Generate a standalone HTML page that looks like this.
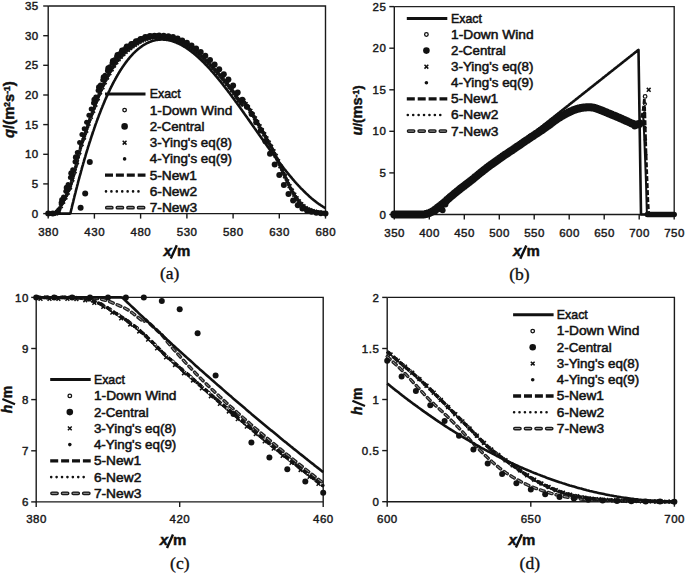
<!DOCTYPE html>
<html><head><meta charset="utf-8"><style>html,body{margin:0;padding:0;background:#fff;overflow:hidden}svg{display:block}</style></head>
<body>
<svg width="685" height="574" viewBox="0 0 685 574">
<rect width="685" height="574" fill="#fff"/>
<style>.tk{font-family:"Liberation Sans",sans-serif;font-size:11.5px;letter-spacing:0.5px;fill:#1a1a1a;stroke:#1a1a1a;stroke-width:0.45px}.lg{font-family:"Liberation Sans",sans-serif;font-size:12.6px;fill:#111;stroke:#111;stroke-width:0.5px}.ti{font-family:"Liberation Sans",sans-serif;font-size:14px;font-weight:bold;fill:#111;stroke:#111;stroke-width:0.45px}.cap{font-family:"Liberation Serif",serif;font-size:17.5px;fill:#111;stroke:#111;stroke-width:0.35px}</style>
<path d="M48.2,6.0 L48.2,213.6 L325.5,213.6" fill="none" stroke="#1a1a1a" stroke-width="1.4"/>
<path d="M48.2,6.0 L325.5,6.0 L325.5,213.6" fill="none" stroke="#1a1a1a" stroke-width="1.4"/>
<line x1="43.2" y1="213.6" x2="48.2" y2="213.6" stroke="#1a1a1a" stroke-width="1.4"/>
<text x="38.7" y="217.7" text-anchor="end" class="tk">0</text>
<line x1="43.2" y1="183.9" x2="48.2" y2="183.9" stroke="#1a1a1a" stroke-width="1.4"/>
<text x="38.7" y="188.0" text-anchor="end" class="tk">5</text>
<line x1="43.2" y1="154.3" x2="48.2" y2="154.3" stroke="#1a1a1a" stroke-width="1.4"/>
<text x="38.7" y="158.4" text-anchor="end" class="tk">10</text>
<line x1="43.2" y1="124.6" x2="48.2" y2="124.6" stroke="#1a1a1a" stroke-width="1.4"/>
<text x="38.7" y="128.7" text-anchor="end" class="tk">15</text>
<line x1="43.2" y1="95.0" x2="48.2" y2="95.0" stroke="#1a1a1a" stroke-width="1.4"/>
<text x="38.7" y="99.1" text-anchor="end" class="tk">20</text>
<line x1="43.2" y1="65.3" x2="48.2" y2="65.3" stroke="#1a1a1a" stroke-width="1.4"/>
<text x="38.7" y="69.4" text-anchor="end" class="tk">25</text>
<line x1="43.2" y1="35.7" x2="48.2" y2="35.7" stroke="#1a1a1a" stroke-width="1.4"/>
<text x="38.7" y="39.8" text-anchor="end" class="tk">30</text>
<line x1="43.2" y1="6.0" x2="48.2" y2="6.0" stroke="#1a1a1a" stroke-width="1.4"/>
<text x="38.7" y="10.1" text-anchor="end" class="tk">35</text>
<line x1="48.2" y1="213.6" x2="48.2" y2="218.6" stroke="#1a1a1a" stroke-width="1.4"/>
<text x="48.5" y="236.2" text-anchor="middle" class="tk">380</text>
<line x1="94.4" y1="213.6" x2="94.4" y2="218.6" stroke="#1a1a1a" stroke-width="1.4"/>
<text x="94.7" y="236.2" text-anchor="middle" class="tk">430</text>
<line x1="140.6" y1="213.6" x2="140.6" y2="218.6" stroke="#1a1a1a" stroke-width="1.4"/>
<text x="140.9" y="236.2" text-anchor="middle" class="tk">480</text>
<line x1="186.9" y1="213.6" x2="186.9" y2="218.6" stroke="#1a1a1a" stroke-width="1.4"/>
<text x="187.1" y="236.2" text-anchor="middle" class="tk">530</text>
<line x1="233.1" y1="213.6" x2="233.1" y2="218.6" stroke="#1a1a1a" stroke-width="1.4"/>
<text x="233.3" y="236.2" text-anchor="middle" class="tk">580</text>
<line x1="279.3" y1="213.6" x2="279.3" y2="218.6" stroke="#1a1a1a" stroke-width="1.4"/>
<text x="279.5" y="236.2" text-anchor="middle" class="tk">630</text>
<line x1="325.5" y1="213.6" x2="325.5" y2="218.6" stroke="#1a1a1a" stroke-width="1.4"/>
<text x="325.8" y="236.2" text-anchor="middle" class="tk">680</text>
<text x="163.5" y="255.6" class="ti" style="font-size:15px" font-style="italic">x</text>
<line x1="170.8" y1="258.6" x2="176.8" y2="245.3" stroke="#111" stroke-width="2.4"/>
<text x="176.9" y="255.6" class="ti" style="font-size:15px">m</text>
<text x="169.7" y="279" text-anchor="middle" class="cap">(a)</text>
<text transform="translate(13.8,109.6) rotate(-90)" text-anchor="middle" class="ti" style="font-size:14.8px"><tspan font-style="italic">q</tspan><tspan font-size="15">/(</tspan>m<tspan font-size="8.5" dy="-3.6">2</tspan><tspan dy="3.6">s</tspan><tspan font-size="8.5" dy="-3.6">-1</tspan><tspan dy="3.6" font-size="15">)</tspan></text>
<path d="M48.2,213.6 L48.7,213.6 L49.1,213.6 L49.6,213.6 L50.0,213.6 L50.5,213.6 L51.0,213.6 L51.4,213.6 L51.9,213.6 L52.4,213.6 L52.8,213.6 L53.3,213.6 L53.7,213.6 L54.2,213.6 L54.7,213.6 L55.1,213.6 L55.6,213.6 L56.1,213.5 L56.5,213.3 L57.0,213.0 L57.4,212.6 L57.9,212.1 L58.4,211.5 L58.8,210.7 L59.3,209.7 L59.8,208.6 L60.2,207.5 L60.7,206.5 L61.1,205.5 L61.6,204.6 L62.1,203.7 L62.5,202.9 L63.0,202.1 L63.5,201.3 L63.9,200.4 L64.4,199.6 L64.8,198.7 L65.3,197.9 L65.8,196.9 L66.2,196.0 L66.7,195.0 L67.1,194.0 L67.6,193.0 L68.1,192.0 L68.5,191.0 L69.0,189.9 L69.5,188.9 L69.9,187.8 L70.4,186.6 L70.8,185.0 L71.3,183.4 L71.8,181.7 L72.2,180.1 L72.7,178.5 L73.2,176.8 L73.6,175.2 L74.1,173.5 L74.5,171.8 L75.0,170.1 L75.5,168.4 L75.9,166.6 L76.4,164.8 L76.9,162.9 L77.3,160.9 L77.8,158.9 L78.2,156.9 L78.7,154.9 L79.2,153.0 L79.6,151.1 L80.1,149.3 L80.6,147.6 L81.0,146.0 L81.5,144.6 L81.9,143.2 L82.4,141.8 L82.9,140.5 L83.3,139.3 L83.8,138.0 L84.2,136.7 L84.7,135.4 L85.2,134.1 L85.6,132.7 L86.1,131.3 L86.6,129.8 L87.0,128.4 L87.5,127.0 L87.9,125.6 L88.4,124.1 L88.9,122.7 L89.3,121.4 L89.8,120.0 L90.3,118.7 L90.7,117.4 L91.2,116.2 L91.6,114.9 L92.1,113.7 L92.6,112.5 L93.0,111.3 L93.5,110.1 L94.0,108.8 L94.4,107.6 L94.9,106.3 L95.3,105.1 L95.8,103.8 L96.3,102.5 L96.7,101.2 L97.2,99.9 L97.7,98.7 L98.1,97.4 L98.6,96.2 L99.0,95.1 L99.5,93.9 L100.0,92.8 L100.4,91.7 L100.9,90.7 L101.3,89.6 L101.8,88.6 L102.3,87.6 L102.7,86.6 L103.2,85.6 L103.7,84.6 L104.1,83.6 L104.6,82.6 L105.0,81.6 L105.5,80.7 L106.0,79.7 L106.4,78.8 L106.9,77.9 L107.4,77.0 L107.8,76.1 L108.3,75.2 L108.7,74.4 L109.2,73.5 L109.7,72.7 L110.1,71.9 L110.6,71.0 L111.1,70.3 L111.5,69.5 L112.0,68.7 L112.4,68.0 L112.9,67.2 L113.4,66.5 L113.8,65.8 L114.3,65.1 L114.8,64.4 L115.2,63.7 L115.7,63.1 L116.1,62.4 L116.6,61.8 L117.1,61.2 L117.5,60.6 L118.0,60.0 L118.4,59.4 L118.9,58.9 L119.4,58.3 L119.8,57.8 L120.3,57.3 L120.8,56.8 L121.2,56.3 L121.7,55.8 L122.1,55.3 L122.6,54.8 L123.1,54.3 L123.5,53.8 L124.0,53.4 L124.5,52.9 L124.9,52.4 L125.4,52.0 L125.8,51.5 L126.3,51.1 L126.8,50.7 L127.2,50.3 L127.7,49.9 L128.2,49.6 L128.6,49.2 L129.1,48.9 L129.5,48.6 L130.0,48.2 L130.5,47.9 L130.9,47.6 L131.4,47.2 L131.9,46.9 L132.3,46.6 L132.8,46.2 L133.2,45.9 L133.7,45.6 L134.2,45.2 L134.6,44.9 L135.1,44.6 L135.5,44.3 L136.0,44.0 L136.5,43.7 L136.9,43.4 L137.4,43.1 L137.9,42.8 L138.3,42.5 L138.8,42.3 L139.2,42.0 L139.7,41.7 L140.2,41.5 L140.6,41.2 L141.1,41.0 L141.6,40.7 L142.0,40.5 L142.5,40.3 L142.9,40.1 L143.4,39.9 L143.9,39.6 L144.3,39.5 L144.8,39.3 L145.3,39.1 L145.7,38.9 L146.2,38.8 L146.6,38.6 L147.1,38.5 L147.6,38.3 L148.0,38.2 L148.5,38.1 L149.0,38.0 L149.4,37.8 L149.9,37.7 L150.3,37.6 L150.8,37.5 L151.3,37.5 L151.7,37.4 L152.2,37.3 L152.6,37.2 L153.1,37.2 L153.6,37.1 L154.0,37.0 L154.5,37.0 L155.0,36.9 L155.4,36.9 L155.9,36.9 L156.3,36.8 L156.8,36.8 L157.3,36.8 L157.7,36.7 L158.2,36.7 L158.7,36.7 L159.1,36.7 L159.6,36.7 L160.0,36.8 L160.5,36.8 L161.0,36.8 L161.4,36.9 L161.9,36.9 L162.4,37.0 L162.8,37.1 L163.3,37.1 L163.7,37.2 L164.2,37.3 L164.7,37.4 L165.1,37.4 L165.6,37.5 L166.1,37.6 L166.5,37.7 L167.0,37.9 L167.4,38.0 L167.9,38.1 L168.4,38.2 L168.8,38.3 L169.3,38.4 L169.7,38.5 L170.2,38.6 L170.7,38.7 L171.1,38.8 L171.6,38.9 L172.1,39.0 L172.5,39.1 L173.0,39.3 L173.4,39.4 L173.9,39.5 L174.4,39.7 L174.8,39.8 L175.3,40.0 L175.8,40.2 L176.2,40.3 L176.7,40.5 L177.1,40.7 L177.6,40.9 L178.1,41.1 L178.5,41.3 L179.0,41.5 L179.5,41.7 L179.9,41.9 L180.4,42.1 L180.8,42.3 L181.3,42.5 L181.8,42.7 L182.2,42.9 L182.7,43.2 L183.2,43.4 L183.6,43.7 L184.1,43.9 L184.5,44.2 L185.0,44.5 L185.5,44.7 L185.9,45.0 L186.4,45.3 L186.9,45.6 L187.3,45.8 L187.8,46.1 L188.2,46.4 L188.7,46.7 L189.2,47.0 L189.6,47.3 L190.1,47.6 L190.5,47.9 L191.0,48.3 L191.5,48.6 L191.9,48.9 L192.4,49.2 L192.9,49.5 L193.3,49.9 L193.8,50.2 L194.2,50.5 L194.7,50.9 L195.2,51.2 L195.6,51.6 L196.1,51.9 L196.6,52.3 L197.0,52.7 L197.5,53.1 L197.9,53.4 L198.4,53.8 L198.9,54.2 L199.3,54.6 L199.8,55.0 L200.3,55.4 L200.7,55.8 L201.2,56.2 L201.6,56.6 L202.1,57.1 L202.6,57.5 L203.0,57.9 L203.5,58.3 L204.0,58.7 L204.4,59.2 L204.9,59.6 L205.3,60.1 L205.8,60.5 L206.3,60.9 L206.7,61.4 L207.2,61.8 L207.6,62.3 L208.1,62.7 L208.6,63.2 L209.0,63.7 L209.5,64.1 L210.0,64.6 L210.4,65.1 L210.9,65.5 L211.3,66.0 L211.8,66.5 L212.3,67.0 L212.7,67.5 L213.2,68.0 L213.7,68.5 L214.1,69.0 L214.6,69.4 L215.0,70.0 L215.5,70.5 L216.0,71.0 L216.4,71.5 L216.9,72.0 L217.4,72.5 L217.8,73.0 L218.3,73.5 L218.7,74.1 L219.2,74.6 L219.7,75.1 L220.1,75.7 L220.6,76.2 L221.1,76.7 L221.5,77.3 L222.0,77.8 L222.4,78.4 L222.9,78.9 L223.4,79.5 L223.8,80.0 L224.3,80.6 L224.7,81.1 L225.2,81.7 L225.7,82.2 L226.1,82.8 L226.6,83.4 L227.1,83.9 L227.5,84.5 L228.0,85.1 L228.4,85.7 L228.9,86.3 L229.4,86.9 L229.8,87.4 L230.3,88.0 L230.8,88.6 L231.2,89.2 L231.7,89.9 L232.1,90.5 L232.6,91.1 L233.1,91.7 L233.5,92.4 L234.0,93.0 L234.5,93.7 L234.9,94.4 L235.4,95.1 L235.8,95.7 L236.3,96.4 L236.8,97.1 L237.2,97.8 L237.7,98.5 L238.2,99.1 L238.6,99.8 L239.1,100.5 L239.5,101.2 L240.0,101.8 L240.5,102.5 L240.9,103.2 L241.4,103.9 L241.8,104.6 L242.3,99.1 L242.8,99.8 L243.2,100.5 L243.7,101.1 L244.2,101.8 L244.6,102.5 L245.1,103.2 L245.5,103.8 L246.0,104.5 L246.5,105.1 L246.9,105.8 L247.4,106.5 L247.9,107.2 L248.3,107.8 L248.8,108.5 L249.2,109.2 L249.7,109.9 L250.2,110.6 L250.6,111.3 L251.1,112.0 L251.6,112.8 L252.0,113.5 L252.5,114.2 L252.9,115.0 L253.4,115.8 L253.9,116.5 L254.3,117.3 L254.8,118.1 L255.3,118.8 L255.7,119.6 L256.2,120.4 L256.6,121.2 L257.1,122.0 L257.6,122.8 L258.0,123.6 L258.5,124.4 L258.9,125.2 L259.4,126.0 L259.9,126.8 L260.3,127.6 L260.8,128.4 L261.3,129.2 L261.7,130.0 L262.2,130.8 L262.6,131.6 L263.1,132.4 L263.6,133.2 L264.0,134.0 L264.5,134.8 L265.0,135.6 L265.4,136.5 L265.9,137.3 L266.3,138.1 L266.8,138.9 L267.3,139.8 L267.7,140.6 L268.2,141.4 L268.7,142.3 L269.1,143.1 L269.6,143.9 L270.0,144.8 L270.5,145.6 L271.0,146.5 L271.4,147.4 L271.9,148.2 L272.4,149.1 L272.8,150.0 L273.3,150.9 L273.7,151.8 L274.2,152.8 L274.7,153.7 L275.1,154.7 L275.6,155.6 L276.0,156.6 L276.5,157.6 L277.0,158.7 L277.4,159.7 L277.9,160.7 L278.4,161.7 L278.8,162.8 L279.3,163.8 L279.7,164.8 L280.2,165.8 L280.7,166.8 L281.1,167.8 L281.6,168.8 L282.1,169.8 L282.5,170.8 L283.0,171.8 L283.4,172.9 L283.9,173.9 L284.4,174.9 L284.8,175.9 L285.3,176.9 L285.8,177.9 L286.2,179.0 L286.7,180.0 L287.1,181.0 L287.6,182.0 L288.1,183.0 L288.5,183.9 L289.0,184.9 L289.5,185.8 L289.9,186.8 L290.4,187.7 L290.8,188.6 L291.3,189.5 L291.8,190.3 L292.2,191.2 L292.7,192.0 L293.1,192.8 L293.6,193.6 L294.1,194.4 L294.5,195.2 L295.0,195.9 L295.5,196.6 L295.9,197.3 L296.4,198.0 L296.8,198.7 L297.3,199.3 L297.8,200.0 L298.2,200.6 L298.7,201.2 L299.2,201.7 L299.6,202.3 L300.1,202.8 L300.5,203.4 L301.0,203.9 L301.5,204.4 L301.9,204.8 L302.4,205.3 L302.9,205.7 L303.3,206.2 L303.8,206.6 L304.2,207.0 L304.7,207.3 L305.2,207.7 L305.6,208.0 L306.1,208.3 L306.6,208.6 L307.0,208.9 L307.5,209.1 L307.9,209.3 L308.4,209.5 L308.9,209.7 L309.3,209.9 L309.8,210.1 L310.2,210.3 L310.7,210.4 L311.2,210.6 L311.6,210.8 L312.1,210.9 L312.6,211.1 L313.0,211.2 L313.5,211.4 L313.9,211.5 L314.4,211.6 L314.9,211.8 L315.3,211.9 L315.8,212.0 L316.3,212.1 L316.7,212.2 L317.2,212.3 L317.6,212.4 L318.1,212.5 L318.6,212.6 L319.0,212.6 L319.5,212.7 L320.0,212.7 L320.4,212.8 L320.9,212.8 L321.3,212.9 L321.8,212.9 L322.3,213.0 L322.7,213.0 L323.2,213.1 L323.7,213.1 L324.1,213.1 L324.6,213.2 L325.0,213.2 L325.5,213.3" fill="none" stroke="#111" stroke-width="2.8" stroke-linecap="butt" stroke-linejoin="round" stroke-dasharray="6,2.5" />
<path d="M48.2,213.6 L48.7,213.6 L49.1,213.6 L49.6,213.6 L50.0,213.6 L50.5,213.6 L51.0,213.6 L51.4,213.6 L51.9,213.6 L52.4,213.6 L52.8,213.6 L53.3,213.6 L53.7,213.6 L54.2,213.6 L54.7,213.6 L55.1,213.6 L55.6,213.6 L56.1,213.5 L56.5,213.3 L57.0,213.0 L57.4,212.6 L57.9,212.1 L58.4,211.5 L58.8,210.7 L59.3,209.7 L59.8,208.6 L60.2,207.5 L60.7,206.5 L61.1,205.5 L61.6,204.6 L62.1,203.7 L62.5,202.9 L63.0,202.1 L63.5,201.3 L63.9,200.4 L64.4,199.6 L64.8,198.7 L65.3,197.9 L65.8,196.9 L66.2,196.0 L66.7,195.0 L67.1,194.0 L67.6,193.0 L68.1,192.0 L68.5,191.0 L69.0,189.9 L69.5,188.9 L69.9,187.8 L70.4,186.6 L70.8,185.0 L71.3,183.4 L71.8,181.7 L72.2,180.1 L72.7,178.5 L73.2,176.8 L73.6,175.2 L74.1,173.5 L74.5,171.8 L75.0,170.1 L75.5,168.4 L75.9,166.6 L76.4,164.8 L76.9,162.9 L77.3,160.9 L77.8,158.9 L78.2,156.9 L78.7,154.9 L79.2,153.0 L79.6,151.1 L80.1,149.3 L80.6,147.6 L81.0,146.0 L81.5,144.6 L81.9,143.2 L82.4,141.8 L82.9,140.5 L83.3,139.3 L83.8,138.0 L84.2,136.7 L84.7,135.4 L85.2,134.1 L85.6,132.7 L86.1,131.3 L86.6,129.8 L87.0,128.4 L87.5,127.0 L87.9,125.6 L88.4,124.1 L88.9,122.7 L89.3,121.4 L89.8,120.0 L90.3,118.7 L90.7,117.4 L91.2,116.2 L91.6,114.9 L92.1,113.7 L92.6,112.5 L93.0,111.3 L93.5,110.1 L94.0,108.8 L94.4,107.6 L94.9,106.3 L95.3,105.1 L95.8,103.8 L96.3,102.5 L96.7,101.2 L97.2,99.9 L97.7,98.7 L98.1,97.4 L98.6,96.2 L99.0,95.1 L99.5,93.9 L100.0,92.8 L100.4,91.7 L100.9,90.7 L101.3,89.6 L101.8,88.6 L102.3,87.6 L102.7,86.6 L103.2,85.6 L103.7,84.6 L104.1,83.6 L104.6,82.6 L105.0,81.6 L105.5,80.7 L106.0,79.7 L106.4,78.8 L106.9,77.9 L107.4,77.0 L107.8,76.1 L108.3,75.2 L108.7,74.4 L109.2,73.5 L109.7,72.7 L110.1,71.9 L110.6,71.0 L111.1,70.3 L111.5,69.5 L112.0,68.7 L112.4,68.0 L112.9,67.2 L113.4,66.5 L113.8,65.8 L114.3,65.1 L114.8,64.4 L115.2,63.7 L115.7,63.1 L116.1,62.4 L116.6,61.8 L117.1,61.2 L117.5,60.6 L118.0,60.0 L118.4,59.4 L118.9,58.9 L119.4,58.3 L119.8,57.8 L120.3,57.3 L120.8,56.8 L121.2,56.3 L121.7,55.8 L122.1,55.3 L122.6,54.8 L123.1,54.3 L123.5,53.8 L124.0,53.4 L124.5,52.9 L124.9,52.4 L125.4,52.0 L125.8,51.5 L126.3,51.1 L126.8,50.7 L127.2,50.3 L127.7,49.9 L128.2,49.6 L128.6,49.2 L129.1,48.9 L129.5,48.6 L130.0,48.2 L130.5,47.9 L130.9,47.6 L131.4,47.2 L131.9,46.9 L132.3,46.6 L132.8,46.2 L133.2,45.9 L133.7,45.6 L134.2,45.2 L134.6,44.9 L135.1,44.6 L135.5,44.3 L136.0,44.0 L136.5,43.7 L136.9,43.4 L137.4,43.1 L137.9,42.8 L138.3,42.5 L138.8,42.3 L139.2,42.0 L139.7,41.7 L140.2,41.5 L140.6,41.2 L141.1,41.0 L141.6,40.7 L142.0,40.5 L142.5,40.3 L142.9,40.1 L143.4,39.9 L143.9,39.6 L144.3,39.5 L144.8,39.3 L145.3,39.1 L145.7,38.9 L146.2,38.8 L146.6,38.6 L147.1,38.5 L147.6,38.3 L148.0,38.2 L148.5,38.1 L149.0,38.0 L149.4,37.8 L149.9,37.7 L150.3,37.6 L150.8,37.5 L151.3,37.5 L151.7,37.4 L152.2,37.3 L152.6,37.2 L153.1,37.2 L153.6,37.1 L154.0,37.0 L154.5,37.0 L155.0,36.9 L155.4,36.9 L155.9,36.9 L156.3,36.8 L156.8,36.8 L157.3,36.8 L157.7,36.7 L158.2,36.7 L158.7,36.7 L159.1,36.7 L159.6,36.7 L160.0,36.8 L160.5,36.8 L161.0,36.8 L161.4,36.9 L161.9,36.9 L162.4,37.0 L162.8,37.1 L163.3,37.1 L163.7,37.2 L164.2,37.3 L164.7,37.4 L165.1,37.4 L165.6,37.5 L166.1,37.6 L166.5,37.7 L167.0,37.9 L167.4,38.0 L167.9,38.1 L168.4,38.2 L168.8,38.3 L169.3,38.4 L169.7,38.5 L170.2,38.6 L170.7,38.7 L171.1,38.8 L171.6,38.9 L172.1,39.0 L172.5,39.1 L173.0,39.3 L173.4,39.4 L173.9,39.5 L174.4,39.7 L174.8,39.8 L175.3,40.0 L175.8,40.2 L176.2,40.3 L176.7,40.5 L177.1,40.7 L177.6,40.9 L178.1,41.1 L178.5,41.3 L179.0,41.5 L179.5,41.7 L179.9,41.9 L180.4,42.1 L180.8,42.3 L181.3,42.5 L181.8,42.7 L182.2,42.9 L182.7,43.2 L183.2,43.4 L183.6,43.7 L184.1,43.9 L184.5,44.2 L185.0,44.5 L185.5,44.7 L185.9,45.0 L186.4,45.3 L186.9,45.6 L187.3,45.8 L187.8,46.1 L188.2,46.4 L188.7,46.7 L189.2,47.0 L189.6,47.3 L190.1,47.6 L190.5,47.9 L191.0,48.3 L191.5,48.6 L191.9,48.9 L192.4,49.2 L192.9,49.5 L193.3,49.9 L193.8,50.2 L194.2,50.5 L194.7,50.9 L195.2,51.2 L195.6,51.6 L196.1,51.9 L196.6,52.3 L197.0,52.7 L197.5,53.1 L197.9,53.4 L198.4,53.8 L198.9,54.2 L199.3,54.6 L199.8,55.0 L200.3,55.4 L200.7,55.8 L201.2,56.2 L201.6,56.6 L202.1,57.1 L202.6,57.5 L203.0,57.9 L203.5,58.3 L204.0,58.7 L204.4,59.2 L204.9,59.6 L205.3,60.1 L205.8,60.5 L206.3,60.9 L206.7,61.4 L207.2,61.8 L207.6,62.3 L208.1,62.7 L208.6,63.2 L209.0,63.7 L209.5,64.1 L210.0,64.6 L210.4,65.1 L210.9,65.5 L211.3,66.0 L211.8,66.5 L212.3,67.0 L212.7,67.5 L213.2,68.0 L213.7,68.5 L214.1,69.0 L214.6,69.4 L215.0,70.0 L215.5,70.5 L216.0,71.0 L216.4,71.5 L216.9,72.0 L217.4,72.5 L217.8,73.0 L218.3,73.5 L218.7,74.1 L219.2,74.6 L219.7,75.1 L220.1,75.7 L220.6,76.2 L221.1,76.7 L221.5,77.3 L222.0,77.8 L222.4,78.4 L222.9,78.9 L223.4,79.5 L223.8,80.0 L224.3,80.6 L224.7,81.1 L225.2,81.7 L225.7,82.2 L226.1,82.8 L226.6,83.4 L227.1,83.9 L227.5,84.5 L228.0,85.1 L228.4,85.7 L228.9,86.3 L229.4,86.9 L229.8,87.4 L230.3,88.0 L230.8,88.6 L231.2,89.2 L231.7,89.9 L232.1,90.5 L232.6,91.1 L233.1,91.7 L233.5,92.4 L234.0,93.0 L234.5,93.7 L234.9,94.4 L235.4,95.1 L235.8,95.7 L236.3,96.4 L236.8,97.1 L237.2,97.8 L237.7,98.5 L238.2,99.1 L238.6,99.8 L239.1,100.5 L239.5,101.2 L240.0,101.8 L240.5,102.5 L240.9,103.2 L241.4,103.9 L241.8,104.6 L242.3,99.1 L242.8,99.8 L243.2,100.5 L243.7,101.1 L244.2,101.8 L244.6,102.5 L245.1,103.2 L245.5,103.8 L246.0,104.5 L246.5,105.1 L246.9,105.8 L247.4,106.5 L247.9,107.2 L248.3,107.8 L248.8,108.5 L249.2,109.2 L249.7,109.9 L250.2,110.6 L250.6,111.3 L251.1,112.0 L251.6,112.8 L252.0,113.5 L252.5,114.2 L252.9,115.0 L253.4,115.8 L253.9,116.5 L254.3,117.3 L254.8,118.1 L255.3,118.8 L255.7,119.6 L256.2,120.4 L256.6,121.2 L257.1,122.0 L257.6,122.8 L258.0,123.6 L258.5,124.4 L258.9,125.2 L259.4,126.0 L259.9,126.8 L260.3,127.6 L260.8,128.4 L261.3,129.2 L261.7,130.0 L262.2,130.8 L262.6,131.6 L263.1,132.4 L263.6,133.2 L264.0,134.0 L264.5,134.8 L265.0,135.6 L265.4,136.5 L265.9,137.3 L266.3,138.1 L266.8,138.9 L267.3,139.8 L267.7,140.6 L268.2,141.4 L268.7,142.3 L269.1,143.1 L269.6,143.9 L270.0,144.8 L270.5,145.6 L271.0,146.5 L271.4,147.4 L271.9,148.2 L272.4,149.1 L272.8,150.0 L273.3,150.9 L273.7,151.8 L274.2,152.8 L274.7,153.7 L275.1,154.7 L275.6,155.6 L276.0,156.6 L276.5,157.6 L277.0,158.7 L277.4,159.7 L277.9,160.7 L278.4,161.7 L278.8,162.8 L279.3,163.8 L279.7,164.8 L280.2,165.8 L280.7,166.8 L281.1,167.8 L281.6,168.8 L282.1,169.8 L282.5,170.8 L283.0,171.8 L283.4,172.9 L283.9,173.9 L284.4,174.9 L284.8,175.9 L285.3,176.9 L285.8,177.9 L286.2,179.0 L286.7,180.0 L287.1,181.0 L287.6,182.0 L288.1,183.0 L288.5,183.9 L289.0,184.9 L289.5,185.8 L289.9,186.8 L290.4,187.7 L290.8,188.6 L291.3,189.5 L291.8,190.3 L292.2,191.2 L292.7,192.0 L293.1,192.8 L293.6,193.6 L294.1,194.4 L294.5,195.2 L295.0,195.9 L295.5,196.6 L295.9,197.3 L296.4,198.0 L296.8,198.7 L297.3,199.3 L297.8,200.0 L298.2,200.6 L298.7,201.2 L299.2,201.7 L299.6,202.3 L300.1,202.8 L300.5,203.4 L301.0,203.9 L301.5,204.4 L301.9,204.8 L302.4,205.3 L302.9,205.7 L303.3,206.2 L303.8,206.6 L304.2,207.0 L304.7,207.3 L305.2,207.7 L305.6,208.0 L306.1,208.3 L306.6,208.6 L307.0,208.9 L307.5,209.1 L307.9,209.3 L308.4,209.5 L308.9,209.7 L309.3,209.9 L309.8,210.1 L310.2,210.3 L310.7,210.4 L311.2,210.6 L311.6,210.8 L312.1,210.9 L312.6,211.1 L313.0,211.2 L313.5,211.4 L313.9,211.5 L314.4,211.6 L314.9,211.8 L315.3,211.9 L315.8,212.0 L316.3,212.1 L316.7,212.2 L317.2,212.3 L317.6,212.4 L318.1,212.5 L318.6,212.6 L319.0,212.6 L319.5,212.7 L320.0,212.7 L320.4,212.8 L320.9,212.8 L321.3,212.9 L321.8,212.9 L322.3,213.0 L322.7,213.0 L323.2,213.1 L323.7,213.1 L324.1,213.1 L324.6,213.2 L325.0,213.2 L325.5,213.3" fill="none" stroke="#111" stroke-width="2.2" stroke-linecap="round" stroke-linejoin="round" stroke-dasharray="0.01,3.5" />
<path d="M48.2,213.6 L48.7,213.6 L49.1,213.6 L49.6,213.6 L50.0,213.6 L50.5,213.6 L51.0,213.6 L51.4,213.6 L51.9,213.6 L52.4,213.6 L52.8,213.6 L53.3,213.6 L53.7,213.6 L54.2,213.6 L54.7,213.6 L55.1,213.6 L55.6,213.6 L56.1,213.5 L56.5,213.3 L57.0,213.0 L57.4,212.6 L57.9,212.1 L58.4,211.5 L58.8,210.7 L59.3,209.7 L59.8,208.6 L60.2,207.5 L60.7,206.5 L61.1,205.5 L61.6,204.6 L62.1,203.7 L62.5,202.9 L63.0,202.1 L63.5,201.3 L63.9,200.4 L64.4,199.6 L64.8,198.7 L65.3,197.9 L65.8,196.9 L66.2,196.0 L66.7,195.0 L67.1,194.0 L67.6,193.0 L68.1,192.0 L68.5,191.0 L69.0,189.9 L69.5,188.9 L69.9,187.8 L70.4,186.6 L70.8,185.0 L71.3,183.4 L71.8,181.7 L72.2,180.1 L72.7,178.5 L73.2,176.8 L73.6,175.2 L74.1,173.5 L74.5,171.8 L75.0,170.1 L75.5,168.4 L75.9,166.6 L76.4,164.8 L76.9,162.9 L77.3,160.9 L77.8,158.9 L78.2,156.9 L78.7,154.9 L79.2,153.0 L79.6,151.1 L80.1,149.3 L80.6,147.6 L81.0,146.0 L81.5,144.6 L81.9,143.2 L82.4,141.8 L82.9,140.5 L83.3,139.3 L83.8,138.0 L84.2,136.7 L84.7,135.4 L85.2,134.1 L85.6,132.7 L86.1,131.3 L86.6,129.8 L87.0,128.4 L87.5,127.0 L87.9,125.6 L88.4,124.1 L88.9,122.7 L89.3,121.4 L89.8,120.0 L90.3,118.7 L90.7,117.4 L91.2,116.2 L91.6,114.9 L92.1,113.7 L92.6,112.5 L93.0,111.3 L93.5,110.1 L94.0,108.8 L94.4,107.6 L94.9,106.3 L95.3,105.1 L95.8,103.8 L96.3,102.5 L96.7,101.2 L97.2,99.9 L97.7,98.7 L98.1,97.4 L98.6,96.2 L99.0,95.1 L99.5,93.9 L100.0,92.8 L100.4,91.7 L100.9,90.7 L101.3,89.6 L101.8,88.6 L102.3,87.6 L102.7,86.6 L103.2,85.6 L103.7,84.6 L104.1,83.6 L104.6,82.6 L105.0,81.6 L105.5,80.7 L106.0,79.7 L106.4,78.8 L106.9,77.9 L107.4,77.0 L107.8,76.1 L108.3,75.2 L108.7,74.4 L109.2,73.5 L109.7,72.7 L110.1,71.9 L110.6,71.0 L111.1,70.3 L111.5,69.5 L112.0,68.7 L112.4,68.0 L112.9,67.2 L113.4,66.5 L113.8,65.8 L114.3,65.1 L114.8,64.4 L115.2,63.7 L115.7,63.1 L116.1,62.4 L116.6,61.8 L117.1,61.2 L117.5,60.6 L118.0,60.0 L118.4,59.4 L118.9,58.9 L119.4,58.3 L119.8,57.8 L120.3,57.3 L120.8,56.8 L121.2,56.3 L121.7,55.8 L122.1,55.3 L122.6,54.8 L123.1,54.3 L123.5,53.8 L124.0,53.4 L124.5,52.9 L124.9,52.4 L125.4,52.0 L125.8,51.5 L126.3,51.1 L126.8,50.7 L127.2,50.3 L127.7,49.9 L128.2,49.6 L128.6,49.2 L129.1,48.9 L129.5,48.6 L130.0,48.2 L130.5,47.9 L130.9,47.6 L131.4,47.2 L131.9,46.9 L132.3,46.6 L132.8,46.2 L133.2,45.9 L133.7,45.6 L134.2,45.2 L134.6,44.9 L135.1,44.6 L135.5,44.3 L136.0,44.0 L136.5,43.7 L136.9,43.4 L137.4,43.1 L137.9,42.8 L138.3,42.5 L138.8,42.3 L139.2,42.0 L139.7,41.7 L140.2,41.5 L140.6,41.2 L141.1,41.0 L141.6,40.7 L142.0,40.5 L142.5,40.3 L142.9,40.1 L143.4,39.9 L143.9,39.6 L144.3,39.5 L144.8,39.3 L145.3,39.1 L145.7,38.9 L146.2,38.8 L146.6,38.6 L147.1,38.5 L147.6,38.3 L148.0,38.2 L148.5,38.1 L149.0,38.0 L149.4,37.8 L149.9,37.7 L150.3,37.6 L150.8,37.5 L151.3,37.5 L151.7,37.4 L152.2,37.3 L152.6,37.2 L153.1,37.2 L153.6,37.1 L154.0,37.0 L154.5,37.0 L155.0,36.9 L155.4,36.9 L155.9,36.9 L156.3,36.8 L156.8,36.8 L157.3,36.8 L157.7,36.7 L158.2,36.7 L158.7,36.7 L159.1,36.7 L159.6,36.7 L160.0,36.8 L160.5,36.8 L161.0,36.8 L161.4,36.9 L161.9,36.9 L162.4,37.0 L162.8,37.1 L163.3,37.1 L163.7,37.2 L164.2,37.3 L164.7,37.4 L165.1,37.4 L165.6,37.5 L166.1,37.6 L166.5,37.7 L167.0,37.9 L167.4,38.0 L167.9,38.1 L168.4,38.2 L168.8,38.3 L169.3,38.4 L169.7,38.5 L170.2,38.6 L170.7,38.7 L171.1,38.8 L171.6,38.9 L172.1,39.0 L172.5,39.1 L173.0,39.3 L173.4,39.4 L173.9,39.5 L174.4,39.7 L174.8,39.8 L175.3,40.0 L175.8,40.2 L176.2,40.3 L176.7,40.5 L177.1,40.7 L177.6,40.9 L178.1,41.1 L178.5,41.3 L179.0,41.5 L179.5,41.7 L179.9,41.9 L180.4,42.1 L180.8,42.3 L181.3,42.5 L181.8,42.7 L182.2,42.9 L182.7,43.2 L183.2,43.4 L183.6,43.7 L184.1,43.9 L184.5,44.2 L185.0,44.5 L185.5,44.7 L185.9,45.0 L186.4,45.3 L186.9,45.6 L187.3,45.8 L187.8,46.1 L188.2,46.4 L188.7,46.7 L189.2,47.0 L189.6,47.3 L190.1,47.6 L190.5,47.9 L191.0,48.3 L191.5,48.6 L191.9,48.9 L192.4,49.2 L192.9,49.5 L193.3,49.9 L193.8,50.2 L194.2,50.5 L194.7,50.9 L195.2,51.2 L195.6,51.6 L196.1,51.9 L196.6,52.3 L197.0,52.7 L197.5,53.1 L197.9,53.4 L198.4,53.8 L198.9,54.2 L199.3,54.6 L199.8,55.0 L200.3,55.4 L200.7,55.8 L201.2,56.2 L201.6,56.6 L202.1,57.1 L202.6,57.5 L203.0,57.9 L203.5,58.3 L204.0,58.7 L204.4,59.2 L204.9,59.6 L205.3,60.1 L205.8,60.5 L206.3,60.9 L206.7,61.4 L207.2,61.8 L207.6,62.3 L208.1,62.7 L208.6,63.2 L209.0,63.7 L209.5,64.1 L210.0,64.6 L210.4,65.1 L210.9,65.5 L211.3,66.0 L211.8,66.5 L212.3,67.0 L212.7,67.5 L213.2,68.0 L213.7,68.5 L214.1,69.0 L214.6,69.4 L215.0,70.0 L215.5,70.5 L216.0,71.0 L216.4,71.5 L216.9,72.0 L217.4,72.5 L217.8,73.0 L218.3,73.5 L218.7,74.1 L219.2,74.6 L219.7,75.1 L220.1,75.7 L220.6,76.2 L221.1,76.7 L221.5,77.3 L222.0,77.8 L222.4,78.4 L222.9,78.9 L223.4,79.5 L223.8,80.0 L224.3,80.6 L224.7,81.1 L225.2,81.7 L225.7,82.2 L226.1,82.8 L226.6,83.4 L227.1,83.9 L227.5,84.5 L228.0,85.1 L228.4,85.7 L228.9,86.3 L229.4,86.9 L229.8,87.4 L230.3,88.0 L230.8,88.6 L231.2,89.2 L231.7,89.9 L232.1,90.5 L232.6,91.1 L233.1,91.7 L233.5,92.4 L234.0,93.0 L234.5,93.7 L234.9,94.4 L235.4,95.1 L235.8,95.7 L236.3,96.4 L236.8,97.1 L237.2,97.8 L237.7,98.5 L238.2,99.1 L238.6,99.8 L239.1,100.5 L239.5,101.2 L240.0,101.8 L240.5,102.5 L240.9,103.2 L241.4,103.9 L241.8,104.6 L242.3,99.1 L242.8,99.8 L243.2,100.5 L243.7,101.1 L244.2,101.8 L244.6,102.5 L245.1,103.2 L245.5,103.8 L246.0,104.5 L246.5,105.1 L246.9,105.8 L247.4,106.5 L247.9,107.2 L248.3,107.8 L248.8,108.5 L249.2,109.2 L249.7,109.9 L250.2,110.6 L250.6,111.3 L251.1,112.0 L251.6,112.8 L252.0,113.5 L252.5,114.2 L252.9,115.0 L253.4,115.8 L253.9,116.5 L254.3,117.3 L254.8,118.1 L255.3,118.8 L255.7,119.6 L256.2,120.4 L256.6,121.2 L257.1,122.0 L257.6,122.8 L258.0,123.6 L258.5,124.4 L258.9,125.2 L259.4,126.0 L259.9,126.8 L260.3,127.6 L260.8,128.4 L261.3,129.2 L261.7,130.0 L262.2,130.8 L262.6,131.6 L263.1,132.4 L263.6,133.2 L264.0,134.0 L264.5,134.8 L265.0,135.6 L265.4,136.5 L265.9,137.3 L266.3,138.1 L266.8,138.9 L267.3,139.8 L267.7,140.6 L268.2,141.4 L268.7,142.3 L269.1,143.1 L269.6,143.9 L270.0,144.8 L270.5,145.6 L271.0,146.5 L271.4,147.4 L271.9,148.2 L272.4,149.1 L272.8,150.0 L273.3,150.9 L273.7,151.8 L274.2,152.8 L274.7,153.7 L275.1,154.7 L275.6,155.6 L276.0,156.6 L276.5,157.6 L277.0,158.7 L277.4,159.7 L277.9,160.7 L278.4,161.7 L278.8,162.8 L279.3,163.8 L279.7,164.8 L280.2,165.8 L280.7,166.8 L281.1,167.8 L281.6,168.8 L282.1,169.8 L282.5,170.8 L283.0,171.8 L283.4,172.9 L283.9,173.9 L284.4,174.9 L284.8,175.9 L285.3,176.9 L285.8,177.9 L286.2,179.0 L286.7,180.0 L287.1,181.0 L287.6,182.0 L288.1,183.0 L288.5,183.9 L289.0,184.9 L289.5,185.8 L289.9,186.8 L290.4,187.7 L290.8,188.6 L291.3,189.5 L291.8,190.3 L292.2,191.2 L292.7,192.0 L293.1,192.8 L293.6,193.6 L294.1,194.4 L294.5,195.2 L295.0,195.9 L295.5,196.6 L295.9,197.3 L296.4,198.0 L296.8,198.7 L297.3,199.3 L297.8,200.0 L298.2,200.6 L298.7,201.2 L299.2,201.7 L299.6,202.3 L300.1,202.8 L300.5,203.4 L301.0,203.9 L301.5,204.4 L301.9,204.8 L302.4,205.3 L302.9,205.7 L303.3,206.2 L303.8,206.6 L304.2,207.0 L304.7,207.3 L305.2,207.7 L305.6,208.0 L306.1,208.3 L306.6,208.6 L307.0,208.9 L307.5,209.1 L307.9,209.3 L308.4,209.5 L308.9,209.7 L309.3,209.9 L309.8,210.1 L310.2,210.3 L310.7,210.4 L311.2,210.6 L311.6,210.8 L312.1,210.9 L312.6,211.1 L313.0,211.2 L313.5,211.4 L313.9,211.5 L314.4,211.6 L314.9,211.8 L315.3,211.9 L315.8,212.0 L316.3,212.1 L316.7,212.2 L317.2,212.3 L317.6,212.4 L318.1,212.5 L318.6,212.6 L319.0,212.6 L319.5,212.7 L320.0,212.7 L320.4,212.8 L320.9,212.8 L321.3,212.9 L321.8,212.9 L322.3,213.0 L322.7,213.0 L323.2,213.1 L323.7,213.1 L324.1,213.1 L324.6,213.2 L325.0,213.2 L325.5,213.3" fill="none" stroke="#333" stroke-width="2.6" stroke-linecap="round" stroke-linejoin="round" stroke-dasharray="4.5,3.5" />
<path d="M47.4,211.7 L51.2,215.5 M47.4,215.5 L51.2,211.7" stroke="#111" stroke-width="1.5"/>
<path d="M49.7,211.7 L53.5,215.5 M49.7,215.5 L53.5,211.7" stroke="#111" stroke-width="1.5"/>
<path d="M52.0,211.7 L55.8,215.5 M52.0,215.5 L55.8,211.7" stroke="#111" stroke-width="1.5"/>
<path d="M54.3,211.5 L58.1,215.3 M54.3,215.3 L58.1,211.5" stroke="#111" stroke-width="1.5"/>
<path d="M56.7,209.3 L60.5,213.1 M56.7,213.1 L60.5,209.3" stroke="#111" stroke-width="1.5"/>
<path d="M59.0,204.2 L62.8,208.0 M59.0,208.0 L62.8,204.2" stroke="#111" stroke-width="1.5"/>
<path d="M61.3,199.8 L65.1,203.6 M61.3,203.6 L65.1,199.8" stroke="#111" stroke-width="1.5"/>
<path d="M63.6,195.6 L67.4,199.4 M63.6,199.4 L67.4,195.6" stroke="#111" stroke-width="1.5"/>
<path d="M65.9,190.7 L69.7,194.5 M65.9,194.5 L69.7,190.7" stroke="#111" stroke-width="1.5"/>
<path d="M68.2,185.4 L72.0,189.2 M68.2,189.2 L72.0,185.4" stroke="#111" stroke-width="1.5"/>
<path d="M70.5,177.6 L74.3,181.4 M70.5,181.4 L74.3,177.6" stroke="#111" stroke-width="1.5"/>
<path d="M72.8,169.2 L76.6,173.0 M72.8,173.0 L76.6,169.2" stroke="#111" stroke-width="1.5"/>
<path d="M75.1,160.2 L78.9,164.0 M75.1,164.0 L78.9,160.2" stroke="#111" stroke-width="1.5"/>
<path d="M77.5,150.3 L81.3,154.1 M77.5,154.1 L81.3,150.3" stroke="#111" stroke-width="1.5"/>
<path d="M79.8,142.1 L83.6,145.9 M79.8,145.9 L83.6,142.1" stroke="#111" stroke-width="1.5"/>
<path d="M82.1,135.6 L85.9,139.4 M82.1,139.4 L85.9,135.6" stroke="#111" stroke-width="1.5"/>
<path d="M84.4,128.8 L88.2,132.6 M84.4,132.6 L88.2,128.8" stroke="#111" stroke-width="1.5"/>
<path d="M86.7,121.7 L90.5,125.5 M86.7,125.5 L90.5,121.7" stroke="#111" stroke-width="1.5"/>
<path d="M89.0,115.0 L92.8,118.8 M89.0,118.8 L92.8,115.0" stroke="#111" stroke-width="1.5"/>
<path d="M91.3,108.9 L95.1,112.7 M91.3,112.7 L95.1,108.9" stroke="#111" stroke-width="1.5"/>
<path d="M93.6,102.7 L97.4,106.5 M93.6,106.5 L97.4,102.7" stroke="#111" stroke-width="1.5"/>
<path d="M95.9,96.3 L99.7,100.1 M95.9,100.1 L99.7,96.3" stroke="#111" stroke-width="1.5"/>
<path d="M98.2,90.5 L102.0,94.3 M98.2,94.3 L102.0,90.5" stroke="#111" stroke-width="1.5"/>
<path d="M100.6,85.3 L104.4,89.1 M100.6,89.1 L104.4,85.3" stroke="#111" stroke-width="1.5"/>
<path d="M102.9,80.3 L106.7,84.1 M102.9,84.1 L106.7,80.3" stroke="#111" stroke-width="1.5"/>
<path d="M105.2,75.6 L109.0,79.4 M105.2,79.4 L109.0,75.6" stroke="#111" stroke-width="1.5"/>
<path d="M107.5,71.3 L111.3,75.1 M107.5,75.1 L111.3,71.3" stroke="#111" stroke-width="1.5"/>
<path d="M109.8,67.3 L113.6,71.1 M109.8,71.1 L113.6,67.3" stroke="#111" stroke-width="1.5"/>
<path d="M112.1,63.6 L115.9,67.4 M112.1,67.4 L115.9,63.6" stroke="#111" stroke-width="1.5"/>
<path d="M114.4,60.3 L118.2,64.1 M114.4,64.1 L118.2,60.3" stroke="#111" stroke-width="1.5"/>
<path d="M116.7,57.3 L120.5,61.1 M116.7,61.1 L120.5,57.3" stroke="#111" stroke-width="1.5"/>
<path d="M119.0,54.7 L122.8,58.5 M119.0,58.5 L122.8,54.7" stroke="#111" stroke-width="1.5"/>
<path d="M121.4,52.2 L125.2,56.0 M121.4,56.0 L125.2,52.2" stroke="#111" stroke-width="1.5"/>
<path d="M123.7,49.9 L127.5,53.7 M123.7,53.7 L127.5,49.9" stroke="#111" stroke-width="1.5"/>
<path d="M126.0,47.9 L129.8,51.7 M126.0,51.7 L129.8,47.9" stroke="#111" stroke-width="1.5"/>
<path d="M128.3,46.2 L132.1,50.0 M128.3,50.0 L132.1,46.2" stroke="#111" stroke-width="1.5"/>
<path d="M130.6,44.5 L134.4,48.3 M130.6,48.3 L134.4,44.5" stroke="#111" stroke-width="1.5"/>
<path d="M132.9,42.9 L136.7,46.7 M132.9,46.7 L136.7,42.9" stroke="#111" stroke-width="1.5"/>
<path d="M135.2,41.4 L139.0,45.2 M135.2,45.2 L139.0,41.4" stroke="#111" stroke-width="1.5"/>
<path d="M137.5,40.0 L141.3,43.8 M137.5,43.8 L141.3,40.0" stroke="#111" stroke-width="1.5"/>
<path d="M139.8,38.7 L143.6,42.5 M139.8,42.5 L143.6,38.7" stroke="#111" stroke-width="1.5"/>
<path d="M142.2,37.7 L146.0,41.5 M142.2,41.5 L146.0,37.7" stroke="#111" stroke-width="1.5"/>
<path d="M144.5,36.8 L148.3,40.6 M144.5,40.6 L148.3,36.8" stroke="#111" stroke-width="1.5"/>
<path d="M146.8,36.1 L150.6,39.9 M146.8,39.9 L150.6,36.1" stroke="#111" stroke-width="1.5"/>
<path d="M149.1,35.6 L152.9,39.4 M149.1,39.4 L152.9,35.6" stroke="#111" stroke-width="1.5"/>
<path d="M151.4,35.2 L155.2,39.0 M151.4,39.0 L155.2,35.2" stroke="#111" stroke-width="1.5"/>
<path d="M153.7,35.0 L157.5,38.8 M153.7,38.8 L157.5,35.0" stroke="#111" stroke-width="1.5"/>
<path d="M156.0,34.8 L159.8,38.6 M156.0,38.6 L159.8,34.8" stroke="#111" stroke-width="1.5"/>
<path d="M158.3,34.9 L162.1,38.7 M158.3,38.7 L162.1,34.9" stroke="#111" stroke-width="1.5"/>
<path d="M160.6,35.1 L164.4,38.9 M160.6,38.9 L164.4,35.1" stroke="#111" stroke-width="1.5"/>
<path d="M163.0,35.5 L166.8,39.3 M163.0,39.3 L166.8,35.5" stroke="#111" stroke-width="1.5"/>
<path d="M165.3,36.0 L169.1,39.8 M165.3,39.8 L169.1,36.0" stroke="#111" stroke-width="1.5"/>
<path d="M167.6,36.5 L171.4,40.3 M167.6,40.3 L171.4,36.5" stroke="#111" stroke-width="1.5"/>
<path d="M169.9,37.0 L173.7,40.8 M169.9,40.8 L173.7,37.0" stroke="#111" stroke-width="1.5"/>
<path d="M172.2,37.7 L176.0,41.5 M172.2,41.5 L176.0,37.7" stroke="#111" stroke-width="1.5"/>
<path d="M174.5,38.5 L178.3,42.3 M174.5,42.3 L178.3,38.5" stroke="#111" stroke-width="1.5"/>
<path d="M176.8,39.4 L180.6,43.2 M176.8,43.2 L180.6,39.4" stroke="#111" stroke-width="1.5"/>
<path d="M179.1,40.5 L182.9,44.3 M179.1,44.3 L182.9,40.5" stroke="#111" stroke-width="1.5"/>
<path d="M181.4,41.6 L185.2,45.4 M181.4,45.4 L185.2,41.6" stroke="#111" stroke-width="1.5"/>
<path d="M183.7,42.9 L187.5,46.7 M183.7,46.7 L187.5,42.9" stroke="#111" stroke-width="1.5"/>
<path d="M186.1,44.3 L189.9,48.1 M186.1,48.1 L189.9,44.3" stroke="#111" stroke-width="1.5"/>
<path d="M188.4,45.8 L192.2,49.6 M188.4,49.6 L192.2,45.8" stroke="#111" stroke-width="1.5"/>
<path d="M190.7,47.4 L194.5,51.2 M190.7,51.2 L194.5,47.4" stroke="#111" stroke-width="1.5"/>
<path d="M193.0,49.1 L196.8,52.9 M193.0,52.9 L196.8,49.1" stroke="#111" stroke-width="1.5"/>
<path d="M195.3,50.9 L199.1,54.7 M195.3,54.7 L199.1,50.9" stroke="#111" stroke-width="1.5"/>
<path d="M197.6,52.9 L201.4,56.7 M197.6,56.7 L201.4,52.9" stroke="#111" stroke-width="1.5"/>
<path d="M199.9,54.9 L203.7,58.7 M199.9,58.7 L203.7,54.9" stroke="#111" stroke-width="1.5"/>
<path d="M202.2,57.0 L206.0,60.8 M202.2,60.8 L206.0,57.0" stroke="#111" stroke-width="1.5"/>
<path d="M204.5,59.2 L208.3,63.0 M204.5,63.0 L208.3,59.2" stroke="#111" stroke-width="1.5"/>
<path d="M206.9,61.5 L210.7,65.3 M206.9,65.3 L210.7,61.5" stroke="#111" stroke-width="1.5"/>
<path d="M209.2,63.8 L213.0,67.6 M209.2,67.6 L213.0,63.8" stroke="#111" stroke-width="1.5"/>
<path d="M211.5,66.3 L215.3,70.1 M211.5,70.1 L215.3,66.3" stroke="#111" stroke-width="1.5"/>
<path d="M213.8,68.8 L217.6,72.6 M213.8,72.6 L217.6,68.8" stroke="#111" stroke-width="1.5"/>
<path d="M216.1,71.3 L219.9,75.1 M216.1,75.1 L219.9,71.3" stroke="#111" stroke-width="1.5"/>
<path d="M218.4,74.0 L222.2,77.8 M218.4,77.8 L222.2,74.0" stroke="#111" stroke-width="1.5"/>
<path d="M220.7,76.7 L224.5,80.5 M220.7,80.5 L224.5,76.7" stroke="#111" stroke-width="1.5"/>
<path d="M223.0,79.4 L226.8,83.2 M223.0,83.2 L226.8,79.4" stroke="#111" stroke-width="1.5"/>
<path d="M225.3,82.3 L229.1,86.1 M225.3,86.1 L229.1,82.3" stroke="#111" stroke-width="1.5"/>
<path d="M227.7,85.2 L231.5,89.0 M227.7,89.0 L231.5,85.2" stroke="#111" stroke-width="1.5"/>
<path d="M230.0,88.2 L233.8,92.0 M230.0,92.0 L233.8,88.2" stroke="#111" stroke-width="1.5"/>
<path d="M232.3,91.4 L236.1,95.2 M232.3,95.2 L236.1,91.4" stroke="#111" stroke-width="1.5"/>
<path d="M234.6,94.8 L238.4,98.6 M234.6,98.6 L238.4,94.8" stroke="#111" stroke-width="1.5"/>
<path d="M236.9,98.2 L240.7,102.0 M236.9,102.0 L240.7,98.2" stroke="#111" stroke-width="1.5"/>
<path d="M239.2,101.6 L243.0,105.4 M239.2,105.4 L243.0,101.6" stroke="#111" stroke-width="1.5"/>
<path d="M241.5,98.8 L245.3,102.6 M241.5,102.6 L245.3,98.8" stroke="#111" stroke-width="1.5"/>
<path d="M243.8,102.2 L247.6,106.0 M243.8,106.0 L247.6,102.2" stroke="#111" stroke-width="1.5"/>
<path d="M246.1,105.5 L249.9,109.3 M246.1,109.3 L249.9,105.5" stroke="#111" stroke-width="1.5"/>
<path d="M248.5,109.0 L252.3,112.8 M248.5,112.8 L252.3,109.0" stroke="#111" stroke-width="1.5"/>
<path d="M250.8,112.6 L254.6,116.4 M250.8,116.4 L254.6,112.6" stroke="#111" stroke-width="1.5"/>
<path d="M253.1,116.5 L256.9,120.3 M253.1,120.3 L256.9,116.5" stroke="#111" stroke-width="1.5"/>
<path d="M255.4,120.4 L259.2,124.2 M255.4,124.2 L259.2,120.4" stroke="#111" stroke-width="1.5"/>
<path d="M257.7,124.4 L261.5,128.2 M257.7,128.2 L261.5,124.4" stroke="#111" stroke-width="1.5"/>
<path d="M260.0,128.4 L263.8,132.2 M260.0,132.2 L263.8,128.4" stroke="#111" stroke-width="1.5"/>
<path d="M262.3,132.4 L266.1,136.2 M262.3,136.2 L266.1,132.4" stroke="#111" stroke-width="1.5"/>
<path d="M264.6,136.5 L268.4,140.3 M264.6,140.3 L268.4,136.5" stroke="#111" stroke-width="1.5"/>
<path d="M266.9,140.7 L270.7,144.5 M266.9,144.5 L270.7,140.7" stroke="#111" stroke-width="1.5"/>
<path d="M269.2,144.9 L273.0,148.7 M269.2,148.7 L273.0,144.9" stroke="#111" stroke-width="1.5"/>
<path d="M271.6,149.4 L275.4,153.2 M271.6,153.2 L275.4,149.4" stroke="#111" stroke-width="1.5"/>
<path d="M273.9,154.1 L277.7,157.9 M273.9,157.9 L277.7,154.1" stroke="#111" stroke-width="1.5"/>
<path d="M276.2,159.2 L280.0,163.0 M276.2,163.0 L280.0,159.2" stroke="#111" stroke-width="1.5"/>
<path d="M278.5,164.3 L282.3,168.1 M278.5,168.1 L282.3,164.3" stroke="#111" stroke-width="1.5"/>
<path d="M280.8,169.3 L284.6,173.1 M280.8,173.1 L284.6,169.3" stroke="#111" stroke-width="1.5"/>
<path d="M283.1,174.4 L286.9,178.2 M283.1,178.2 L286.9,174.4" stroke="#111" stroke-width="1.5"/>
<path d="M285.4,179.5 L289.2,183.3 M285.4,183.3 L289.2,179.5" stroke="#111" stroke-width="1.5"/>
<path d="M287.7,184.3 L291.5,188.1 M287.7,188.1 L291.5,184.3" stroke="#111" stroke-width="1.5"/>
<path d="M290.0,188.8 L293.8,192.6 M290.0,192.6 L293.8,188.8" stroke="#111" stroke-width="1.5"/>
<path d="M292.4,192.8 L296.2,196.6 M292.4,196.6 L296.2,192.8" stroke="#111" stroke-width="1.5"/>
<path d="M294.7,196.4 L298.5,200.2 M294.7,200.2 L298.5,196.4" stroke="#111" stroke-width="1.5"/>
<path d="M297.0,199.5 L300.8,203.3 M297.0,203.3 L300.8,199.5" stroke="#111" stroke-width="1.5"/>
<path d="M299.3,202.2 L303.1,206.0 M299.3,206.0 L303.1,202.2" stroke="#111" stroke-width="1.5"/>
<path d="M301.6,204.4 L305.4,208.2 M301.6,208.2 L305.4,204.4" stroke="#111" stroke-width="1.5"/>
<path d="M303.9,206.3 L307.7,210.1 M303.9,210.1 L307.7,206.3" stroke="#111" stroke-width="1.5"/>
<path d="M306.2,207.5 L310.0,211.3 M306.2,211.3 L310.0,207.5" stroke="#111" stroke-width="1.5"/>
<path d="M308.5,208.4 L312.3,212.2 M308.5,212.2 L312.3,208.4" stroke="#111" stroke-width="1.5"/>
<path d="M310.8,209.2 L314.6,213.0 M310.8,213.0 L314.6,209.2" stroke="#111" stroke-width="1.5"/>
<path d="M313.2,209.9 L317.0,213.7 M313.2,213.7 L317.0,209.9" stroke="#111" stroke-width="1.5"/>
<path d="M315.5,210.5 L319.3,214.3 M315.5,214.3 L319.3,210.5" stroke="#111" stroke-width="1.5"/>
<path d="M317.8,210.8 L321.6,214.6 M317.8,214.6 L321.6,210.8" stroke="#111" stroke-width="1.5"/>
<path d="M320.1,211.0 L323.9,214.8 M320.1,214.8 L323.9,211.0" stroke="#111" stroke-width="1.5"/>
<path d="M322.4,211.3 L326.2,215.1 M322.4,215.1 L326.2,211.3" stroke="#111" stroke-width="1.5"/>
<circle cx="50.4" cy="213.6" r="1.8" fill="#111"/>
<circle cx="52.7" cy="213.6" r="1.8" fill="#111"/>
<circle cx="55.0" cy="213.6" r="1.8" fill="#111"/>
<circle cx="57.4" cy="212.7" r="1.8" fill="#111"/>
<circle cx="59.7" cy="208.9" r="1.8" fill="#111"/>
<circle cx="62.0" cy="203.9" r="1.8" fill="#111"/>
<circle cx="64.3" cy="199.8" r="1.8" fill="#111"/>
<circle cx="66.6" cy="195.2" r="1.8" fill="#111"/>
<circle cx="68.9" cy="190.1" r="1.8" fill="#111"/>
<circle cx="71.2" cy="183.7" r="1.8" fill="#111"/>
<circle cx="73.5" cy="175.5" r="1.8" fill="#111"/>
<circle cx="75.8" cy="167.0" r="1.8" fill="#111"/>
<circle cx="78.1" cy="157.3" r="1.8" fill="#111"/>
<circle cx="80.5" cy="147.9" r="1.8" fill="#111"/>
<circle cx="82.8" cy="140.8" r="1.8" fill="#111"/>
<circle cx="85.1" cy="134.3" r="1.8" fill="#111"/>
<circle cx="87.4" cy="127.3" r="1.8" fill="#111"/>
<circle cx="89.7" cy="120.3" r="1.8" fill="#111"/>
<circle cx="92.0" cy="114.0" r="1.8" fill="#111"/>
<circle cx="94.3" cy="107.8" r="1.8" fill="#111"/>
<circle cx="96.6" cy="101.5" r="1.8" fill="#111"/>
<circle cx="98.9" cy="95.3" r="1.8" fill="#111"/>
<circle cx="101.3" cy="89.8" r="1.8" fill="#111"/>
<circle cx="103.6" cy="84.8" r="1.8" fill="#111"/>
<circle cx="105.9" cy="79.9" r="1.8" fill="#111"/>
<circle cx="108.2" cy="75.4" r="1.8" fill="#111"/>
<circle cx="110.5" cy="71.2" r="1.8" fill="#111"/>
<circle cx="112.8" cy="67.4" r="1.8" fill="#111"/>
<circle cx="115.1" cy="63.9" r="1.8" fill="#111"/>
<circle cx="117.4" cy="60.7" r="1.8" fill="#111"/>
<circle cx="119.7" cy="57.9" r="1.8" fill="#111"/>
<circle cx="122.1" cy="55.4" r="1.8" fill="#111"/>
<circle cx="124.4" cy="53.0" r="1.8" fill="#111"/>
<circle cx="126.7" cy="50.8" r="1.8" fill="#111"/>
<circle cx="129.0" cy="49.0" r="1.8" fill="#111"/>
<circle cx="131.3" cy="47.3" r="1.8" fill="#111"/>
<circle cx="133.6" cy="45.6" r="1.8" fill="#111"/>
<circle cx="135.9" cy="44.1" r="1.8" fill="#111"/>
<circle cx="138.2" cy="42.6" r="1.8" fill="#111"/>
<circle cx="140.5" cy="41.3" r="1.8" fill="#111"/>
<circle cx="142.9" cy="40.1" r="1.8" fill="#111"/>
<circle cx="145.2" cy="39.1" r="1.8" fill="#111"/>
<circle cx="147.5" cy="38.4" r="1.8" fill="#111"/>
<circle cx="149.8" cy="37.8" r="1.8" fill="#111"/>
<circle cx="152.1" cy="37.3" r="1.8" fill="#111"/>
<circle cx="154.4" cy="37.0" r="1.8" fill="#111"/>
<circle cx="156.7" cy="36.8" r="1.8" fill="#111"/>
<circle cx="159.0" cy="36.7" r="1.8" fill="#111"/>
<circle cx="161.3" cy="36.9" r="1.8" fill="#111"/>
<circle cx="163.6" cy="37.2" r="1.8" fill="#111"/>
<circle cx="166.0" cy="37.6" r="1.8" fill="#111"/>
<circle cx="168.3" cy="38.2" r="1.8" fill="#111"/>
<circle cx="170.6" cy="38.6" r="1.8" fill="#111"/>
<circle cx="172.9" cy="39.2" r="1.8" fill="#111"/>
<circle cx="175.2" cy="40.0" r="1.8" fill="#111"/>
<circle cx="177.5" cy="40.9" r="1.8" fill="#111"/>
<circle cx="179.8" cy="41.8" r="1.8" fill="#111"/>
<circle cx="182.1" cy="42.9" r="1.8" fill="#111"/>
<circle cx="184.4" cy="44.1" r="1.8" fill="#111"/>
<circle cx="186.8" cy="45.5" r="1.8" fill="#111"/>
<circle cx="189.1" cy="47.0" r="1.8" fill="#111"/>
<circle cx="191.4" cy="48.5" r="1.8" fill="#111"/>
<circle cx="193.7" cy="50.1" r="1.8" fill="#111"/>
<circle cx="196.0" cy="51.9" r="1.8" fill="#111"/>
<circle cx="198.3" cy="53.8" r="1.8" fill="#111"/>
<circle cx="200.6" cy="55.7" r="1.8" fill="#111"/>
<circle cx="202.9" cy="57.8" r="1.8" fill="#111"/>
<circle cx="205.2" cy="60.0" r="1.8" fill="#111"/>
<circle cx="207.6" cy="62.2" r="1.8" fill="#111"/>
<circle cx="209.9" cy="64.5" r="1.8" fill="#111"/>
<circle cx="212.2" cy="66.9" r="1.8" fill="#111"/>
<circle cx="214.5" cy="69.3" r="1.8" fill="#111"/>
<circle cx="216.8" cy="71.9" r="1.8" fill="#111"/>
<circle cx="219.1" cy="74.5" r="1.8" fill="#111"/>
<circle cx="221.4" cy="77.2" r="1.8" fill="#111"/>
<circle cx="223.7" cy="79.9" r="1.8" fill="#111"/>
<circle cx="226.0" cy="82.7" r="1.8" fill="#111"/>
<circle cx="228.4" cy="85.6" r="1.8" fill="#111"/>
<circle cx="230.7" cy="88.5" r="1.8" fill="#111"/>
<circle cx="233.0" cy="91.6" r="1.8" fill="#111"/>
<circle cx="235.3" cy="94.9" r="1.8" fill="#111"/>
<circle cx="237.6" cy="98.3" r="1.8" fill="#111"/>
<circle cx="239.9" cy="101.7" r="1.8" fill="#111"/>
<circle cx="242.2" cy="105.1" r="1.8" fill="#111"/>
<circle cx="244.5" cy="102.4" r="1.8" fill="#111"/>
<circle cx="246.8" cy="105.7" r="1.8" fill="#111"/>
<circle cx="249.2" cy="109.1" r="1.8" fill="#111"/>
<circle cx="251.5" cy="112.6" r="1.8" fill="#111"/>
<circle cx="253.8" cy="116.4" r="1.8" fill="#111"/>
<circle cx="256.1" cy="120.2" r="1.8" fill="#111"/>
<circle cx="258.4" cy="124.2" r="1.8" fill="#111"/>
<circle cx="260.7" cy="128.2" r="1.8" fill="#111"/>
<circle cx="263.0" cy="132.2" r="1.8" fill="#111"/>
<circle cx="265.3" cy="136.3" r="1.8" fill="#111"/>
<circle cx="267.6" cy="140.4" r="1.8" fill="#111"/>
<circle cx="269.9" cy="144.6" r="1.8" fill="#111"/>
<circle cx="272.3" cy="148.9" r="1.8" fill="#111"/>
<circle cx="274.6" cy="153.5" r="1.8" fill="#111"/>
<circle cx="276.9" cy="158.5" r="1.8" fill="#111"/>
<circle cx="279.2" cy="163.6" r="1.8" fill="#111"/>
<circle cx="281.5" cy="168.6" r="1.8" fill="#111"/>
<circle cx="283.8" cy="173.7" r="1.8" fill="#111"/>
<circle cx="286.1" cy="178.8" r="1.8" fill="#111"/>
<circle cx="288.4" cy="183.8" r="1.8" fill="#111"/>
<circle cx="290.7" cy="188.4" r="1.8" fill="#111"/>
<circle cx="293.1" cy="192.7" r="1.8" fill="#111"/>
<circle cx="295.4" cy="196.5" r="1.8" fill="#111"/>
<circle cx="297.7" cy="199.8" r="1.8" fill="#111"/>
<circle cx="300.0" cy="202.7" r="1.8" fill="#111"/>
<circle cx="302.3" cy="205.2" r="1.8" fill="#111"/>
<circle cx="304.6" cy="207.3" r="1.8" fill="#111"/>
<circle cx="306.9" cy="208.8" r="1.8" fill="#111"/>
<circle cx="309.2" cy="209.9" r="1.8" fill="#111"/>
<circle cx="311.5" cy="210.7" r="1.8" fill="#111"/>
<circle cx="313.9" cy="211.5" r="1.8" fill="#111"/>
<circle cx="316.2" cy="212.1" r="1.8" fill="#111"/>
<circle cx="318.5" cy="212.5" r="1.8" fill="#111"/>
<circle cx="320.8" cy="212.8" r="1.8" fill="#111"/>
<circle cx="323.1" cy="213.0" r="1.8" fill="#111"/>
<circle cx="325.4" cy="213.3" r="1.8" fill="#111"/>
<circle cx="48.8" cy="213.6" r="1.6" fill="none" stroke="#1a1a1a" stroke-width="1"/>
<circle cx="51.1" cy="213.6" r="1.6" fill="none" stroke="#1a1a1a" stroke-width="1"/>
<circle cx="53.4" cy="213.6" r="1.6" fill="none" stroke="#1a1a1a" stroke-width="1"/>
<circle cx="55.7" cy="213.6" r="1.6" fill="none" stroke="#1a1a1a" stroke-width="1"/>
<circle cx="58.0" cy="212.0" r="1.6" fill="none" stroke="#1a1a1a" stroke-width="1"/>
<circle cx="60.3" cy="207.3" r="1.6" fill="none" stroke="#1a1a1a" stroke-width="1"/>
<circle cx="62.6" cy="202.7" r="1.6" fill="none" stroke="#1a1a1a" stroke-width="1"/>
<circle cx="64.9" cy="198.6" r="1.6" fill="none" stroke="#1a1a1a" stroke-width="1"/>
<circle cx="67.2" cy="193.8" r="1.6" fill="none" stroke="#1a1a1a" stroke-width="1"/>
<circle cx="69.6" cy="188.6" r="1.6" fill="none" stroke="#1a1a1a" stroke-width="1"/>
<circle cx="71.9" cy="181.4" r="1.6" fill="none" stroke="#1a1a1a" stroke-width="1"/>
<circle cx="74.2" cy="173.2" r="1.6" fill="none" stroke="#1a1a1a" stroke-width="1"/>
<circle cx="76.5" cy="164.4" r="1.6" fill="none" stroke="#1a1a1a" stroke-width="1"/>
<circle cx="78.8" cy="154.5" r="1.6" fill="none" stroke="#1a1a1a" stroke-width="1"/>
<circle cx="81.1" cy="145.7" r="1.6" fill="none" stroke="#1a1a1a" stroke-width="1"/>
<circle cx="83.4" cy="139.0" r="1.6" fill="none" stroke="#1a1a1a" stroke-width="1"/>
<circle cx="85.7" cy="132.4" r="1.6" fill="none" stroke="#1a1a1a" stroke-width="1"/>
<circle cx="88.0" cy="125.3" r="1.6" fill="none" stroke="#1a1a1a" stroke-width="1"/>
<circle cx="90.3" cy="118.5" r="1.6" fill="none" stroke="#1a1a1a" stroke-width="1"/>
<circle cx="92.7" cy="112.3" r="1.6" fill="none" stroke="#1a1a1a" stroke-width="1"/>
<circle cx="95.0" cy="106.1" r="1.6" fill="none" stroke="#1a1a1a" stroke-width="1"/>
<circle cx="97.3" cy="99.7" r="1.6" fill="none" stroke="#1a1a1a" stroke-width="1"/>
<circle cx="99.6" cy="93.7" r="1.6" fill="none" stroke="#1a1a1a" stroke-width="1"/>
<circle cx="101.9" cy="88.4" r="1.6" fill="none" stroke="#1a1a1a" stroke-width="1"/>
<circle cx="104.2" cy="83.4" r="1.6" fill="none" stroke="#1a1a1a" stroke-width="1"/>
<circle cx="106.5" cy="78.6" r="1.6" fill="none" stroke="#1a1a1a" stroke-width="1"/>
<circle cx="108.8" cy="74.2" r="1.6" fill="none" stroke="#1a1a1a" stroke-width="1"/>
<circle cx="111.1" cy="70.1" r="1.6" fill="none" stroke="#1a1a1a" stroke-width="1"/>
<circle cx="113.5" cy="66.4" r="1.6" fill="none" stroke="#1a1a1a" stroke-width="1"/>
<circle cx="115.8" cy="63.0" r="1.6" fill="none" stroke="#1a1a1a" stroke-width="1"/>
<circle cx="118.1" cy="59.9" r="1.6" fill="none" stroke="#1a1a1a" stroke-width="1"/>
<circle cx="120.4" cy="57.2" r="1.6" fill="none" stroke="#1a1a1a" stroke-width="1"/>
<circle cx="122.7" cy="54.7" r="1.6" fill="none" stroke="#1a1a1a" stroke-width="1"/>
<circle cx="125.0" cy="52.3" r="1.6" fill="none" stroke="#1a1a1a" stroke-width="1"/>
<circle cx="127.3" cy="50.2" r="1.6" fill="none" stroke="#1a1a1a" stroke-width="1"/>
<circle cx="129.6" cy="48.5" r="1.6" fill="none" stroke="#1a1a1a" stroke-width="1"/>
<circle cx="131.9" cy="46.8" r="1.6" fill="none" stroke="#1a1a1a" stroke-width="1"/>
<circle cx="134.3" cy="45.2" r="1.6" fill="none" stroke="#1a1a1a" stroke-width="1"/>
<circle cx="136.6" cy="43.6" r="1.6" fill="none" stroke="#1a1a1a" stroke-width="1"/>
<circle cx="138.9" cy="42.2" r="1.6" fill="none" stroke="#1a1a1a" stroke-width="1"/>
<circle cx="141.2" cy="40.9" r="1.6" fill="none" stroke="#1a1a1a" stroke-width="1"/>
<circle cx="143.5" cy="39.8" r="1.6" fill="none" stroke="#1a1a1a" stroke-width="1"/>
<circle cx="145.8" cy="38.9" r="1.6" fill="none" stroke="#1a1a1a" stroke-width="1"/>
<circle cx="148.1" cy="38.2" r="1.6" fill="none" stroke="#1a1a1a" stroke-width="1"/>
<circle cx="150.4" cy="37.6" r="1.6" fill="none" stroke="#1a1a1a" stroke-width="1"/>
<circle cx="152.7" cy="37.2" r="1.6" fill="none" stroke="#1a1a1a" stroke-width="1"/>
<circle cx="155.1" cy="36.9" r="1.6" fill="none" stroke="#1a1a1a" stroke-width="1"/>
<circle cx="157.4" cy="36.8" r="1.6" fill="none" stroke="#1a1a1a" stroke-width="1"/>
<circle cx="159.7" cy="36.7" r="1.6" fill="none" stroke="#1a1a1a" stroke-width="1"/>
<circle cx="162.0" cy="36.9" r="1.6" fill="none" stroke="#1a1a1a" stroke-width="1"/>
<circle cx="164.3" cy="37.3" r="1.6" fill="none" stroke="#1a1a1a" stroke-width="1"/>
<circle cx="166.6" cy="37.8" r="1.6" fill="none" stroke="#1a1a1a" stroke-width="1"/>
<circle cx="168.9" cy="38.3" r="1.6" fill="none" stroke="#1a1a1a" stroke-width="1"/>
<circle cx="171.2" cy="38.8" r="1.6" fill="none" stroke="#1a1a1a" stroke-width="1"/>
<circle cx="173.5" cy="39.4" r="1.6" fill="none" stroke="#1a1a1a" stroke-width="1"/>
<circle cx="175.9" cy="40.2" r="1.6" fill="none" stroke="#1a1a1a" stroke-width="1"/>
<circle cx="178.2" cy="41.1" r="1.6" fill="none" stroke="#1a1a1a" stroke-width="1"/>
<circle cx="180.5" cy="42.1" r="1.6" fill="none" stroke="#1a1a1a" stroke-width="1"/>
<circle cx="182.8" cy="43.2" r="1.6" fill="none" stroke="#1a1a1a" stroke-width="1"/>
<circle cx="185.1" cy="44.5" r="1.6" fill="none" stroke="#1a1a1a" stroke-width="1"/>
<circle cx="187.4" cy="45.9" r="1.6" fill="none" stroke="#1a1a1a" stroke-width="1"/>
<circle cx="189.7" cy="47.4" r="1.6" fill="none" stroke="#1a1a1a" stroke-width="1"/>
<circle cx="192.0" cy="49.0" r="1.6" fill="none" stroke="#1a1a1a" stroke-width="1"/>
<circle cx="194.3" cy="50.6" r="1.6" fill="none" stroke="#1a1a1a" stroke-width="1"/>
<circle cx="196.6" cy="52.4" r="1.6" fill="none" stroke="#1a1a1a" stroke-width="1"/>
<circle cx="199.0" cy="54.3" r="1.6" fill="none" stroke="#1a1a1a" stroke-width="1"/>
<circle cx="201.3" cy="56.3" r="1.6" fill="none" stroke="#1a1a1a" stroke-width="1"/>
<circle cx="203.6" cy="58.4" r="1.6" fill="none" stroke="#1a1a1a" stroke-width="1"/>
<circle cx="205.9" cy="60.6" r="1.6" fill="none" stroke="#1a1a1a" stroke-width="1"/>
<circle cx="208.2" cy="62.8" r="1.6" fill="none" stroke="#1a1a1a" stroke-width="1"/>
<circle cx="210.5" cy="65.2" r="1.6" fill="none" stroke="#1a1a1a" stroke-width="1"/>
<circle cx="212.8" cy="67.6" r="1.6" fill="none" stroke="#1a1a1a" stroke-width="1"/>
<circle cx="215.1" cy="70.1" r="1.6" fill="none" stroke="#1a1a1a" stroke-width="1"/>
<circle cx="217.4" cy="72.6" r="1.6" fill="none" stroke="#1a1a1a" stroke-width="1"/>
<circle cx="219.8" cy="75.2" r="1.6" fill="none" stroke="#1a1a1a" stroke-width="1"/>
<circle cx="222.1" cy="77.9" r="1.6" fill="none" stroke="#1a1a1a" stroke-width="1"/>
<circle cx="224.4" cy="80.7" r="1.6" fill="none" stroke="#1a1a1a" stroke-width="1"/>
<circle cx="226.7" cy="83.5" r="1.6" fill="none" stroke="#1a1a1a" stroke-width="1"/>
<circle cx="229.0" cy="86.4" r="1.6" fill="none" stroke="#1a1a1a" stroke-width="1"/>
<circle cx="231.3" cy="89.4" r="1.6" fill="none" stroke="#1a1a1a" stroke-width="1"/>
<circle cx="233.6" cy="92.5" r="1.6" fill="none" stroke="#1a1a1a" stroke-width="1"/>
<circle cx="235.9" cy="95.9" r="1.6" fill="none" stroke="#1a1a1a" stroke-width="1"/>
<circle cx="238.2" cy="99.3" r="1.6" fill="none" stroke="#1a1a1a" stroke-width="1"/>
<circle cx="240.6" cy="102.7" r="1.6" fill="none" stroke="#1a1a1a" stroke-width="1"/>
<circle cx="242.9" cy="99.9" r="1.6" fill="none" stroke="#1a1a1a" stroke-width="1"/>
<circle cx="245.2" cy="103.3" r="1.6" fill="none" stroke="#1a1a1a" stroke-width="1"/>
<circle cx="247.5" cy="106.6" r="1.6" fill="none" stroke="#1a1a1a" stroke-width="1"/>
<circle cx="249.8" cy="110.0" r="1.6" fill="none" stroke="#1a1a1a" stroke-width="1"/>
<circle cx="252.1" cy="113.7" r="1.6" fill="none" stroke="#1a1a1a" stroke-width="1"/>
<circle cx="254.4" cy="117.4" r="1.6" fill="none" stroke="#1a1a1a" stroke-width="1"/>
<circle cx="256.7" cy="121.3" r="1.6" fill="none" stroke="#1a1a1a" stroke-width="1"/>
<circle cx="259.0" cy="125.3" r="1.6" fill="none" stroke="#1a1a1a" stroke-width="1"/>
<circle cx="261.4" cy="129.3" r="1.6" fill="none" stroke="#1a1a1a" stroke-width="1"/>
<circle cx="263.7" cy="133.4" r="1.6" fill="none" stroke="#1a1a1a" stroke-width="1"/>
<circle cx="266.0" cy="137.4" r="1.6" fill="none" stroke="#1a1a1a" stroke-width="1"/>
<circle cx="268.3" cy="141.6" r="1.6" fill="none" stroke="#1a1a1a" stroke-width="1"/>
<circle cx="270.6" cy="145.8" r="1.6" fill="none" stroke="#1a1a1a" stroke-width="1"/>
<circle cx="272.9" cy="150.2" r="1.6" fill="none" stroke="#1a1a1a" stroke-width="1"/>
<circle cx="275.2" cy="154.8" r="1.6" fill="none" stroke="#1a1a1a" stroke-width="1"/>
<circle cx="277.5" cy="159.9" r="1.6" fill="none" stroke="#1a1a1a" stroke-width="1"/>
<circle cx="279.8" cy="165.0" r="1.6" fill="none" stroke="#1a1a1a" stroke-width="1"/>
<circle cx="282.1" cy="170.0" r="1.6" fill="none" stroke="#1a1a1a" stroke-width="1"/>
<circle cx="284.5" cy="175.1" r="1.6" fill="none" stroke="#1a1a1a" stroke-width="1"/>
<circle cx="286.8" cy="180.2" r="1.6" fill="none" stroke="#1a1a1a" stroke-width="1"/>
<circle cx="289.1" cy="185.1" r="1.6" fill="none" stroke="#1a1a1a" stroke-width="1"/>
<circle cx="291.4" cy="189.6" r="1.6" fill="none" stroke="#1a1a1a" stroke-width="1"/>
<circle cx="293.7" cy="193.8" r="1.6" fill="none" stroke="#1a1a1a" stroke-width="1"/>
<circle cx="296.0" cy="197.5" r="1.6" fill="none" stroke="#1a1a1a" stroke-width="1"/>
<circle cx="298.3" cy="200.7" r="1.6" fill="none" stroke="#1a1a1a" stroke-width="1"/>
<circle cx="300.6" cy="203.5" r="1.6" fill="none" stroke="#1a1a1a" stroke-width="1"/>
<circle cx="302.9" cy="205.8" r="1.6" fill="none" stroke="#1a1a1a" stroke-width="1"/>
<circle cx="305.3" cy="207.8" r="1.6" fill="none" stroke="#1a1a1a" stroke-width="1"/>
<circle cx="307.6" cy="209.1" r="1.6" fill="none" stroke="#1a1a1a" stroke-width="1"/>
<circle cx="309.9" cy="210.1" r="1.6" fill="none" stroke="#1a1a1a" stroke-width="1"/>
<circle cx="312.2" cy="211.0" r="1.6" fill="none" stroke="#1a1a1a" stroke-width="1"/>
<circle cx="314.5" cy="211.7" r="1.6" fill="none" stroke="#1a1a1a" stroke-width="1"/>
<circle cx="316.8" cy="212.2" r="1.6" fill="none" stroke="#1a1a1a" stroke-width="1"/>
<circle cx="319.1" cy="212.6" r="1.6" fill="none" stroke="#1a1a1a" stroke-width="1"/>
<circle cx="321.4" cy="212.9" r="1.6" fill="none" stroke="#1a1a1a" stroke-width="1"/>
<circle cx="323.7" cy="213.1" r="1.6" fill="none" stroke="#1a1a1a" stroke-width="1"/>
<circle cx="48.2" cy="213.6" r="3.0" fill="#111"/>
<circle cx="52.8" cy="213.6" r="3.0" fill="#111"/>
<circle cx="57.4" cy="212.2" r="3.0" fill="#111"/>
<circle cx="62.1" cy="199.9" r="3.0" fill="#111"/>
<circle cx="66.7" cy="187.8" r="3.0" fill="#111"/>
<circle cx="71.3" cy="173.2" r="3.0" fill="#111"/>
<circle cx="75.9" cy="157.3" r="3.0" fill="#111"/>
<circle cx="94.4" cy="99.7" r="3.0" fill="#111"/>
<circle cx="99.0" cy="87.3" r="3.0" fill="#111"/>
<circle cx="103.7" cy="77.2" r="3.0" fill="#111"/>
<circle cx="108.3" cy="68.3" r="3.0" fill="#111"/>
<circle cx="112.9" cy="60.9" r="3.0" fill="#111"/>
<circle cx="117.5" cy="54.9" r="3.0" fill="#111"/>
<circle cx="122.1" cy="50.5" r="3.0" fill="#111"/>
<circle cx="126.8" cy="46.6" r="3.0" fill="#111"/>
<circle cx="131.4" cy="44.0" r="3.0" fill="#111"/>
<circle cx="136.0" cy="41.3" r="3.0" fill="#111"/>
<circle cx="140.6" cy="38.9" r="3.0" fill="#111"/>
<circle cx="145.3" cy="37.1" r="3.0" fill="#111"/>
<circle cx="149.9" cy="36.1" r="3.0" fill="#111"/>
<circle cx="154.5" cy="35.7" r="3.0" fill="#111"/>
<circle cx="159.1" cy="35.5" r="3.0" fill="#111"/>
<circle cx="163.7" cy="35.7" r="3.0" fill="#111"/>
<circle cx="168.4" cy="36.3" r="3.0" fill="#111"/>
<circle cx="173.0" cy="37.1" r="3.0" fill="#111"/>
<circle cx="177.6" cy="38.6" r="3.0" fill="#111"/>
<circle cx="182.2" cy="40.4" r="3.0" fill="#111"/>
<circle cx="186.9" cy="42.8" r="3.0" fill="#111"/>
<circle cx="191.5" cy="45.4" r="3.0" fill="#111"/>
<circle cx="196.1" cy="48.4" r="3.0" fill="#111"/>
<circle cx="200.7" cy="52.0" r="3.0" fill="#111"/>
<circle cx="205.3" cy="55.8" r="3.0" fill="#111"/>
<circle cx="210.0" cy="60.0" r="3.0" fill="#111"/>
<circle cx="214.6" cy="64.4" r="3.0" fill="#111"/>
<circle cx="219.2" cy="69.2" r="3.0" fill="#111"/>
<circle cx="223.8" cy="74.2" r="3.0" fill="#111"/>
<circle cx="228.4" cy="79.5" r="3.0" fill="#111"/>
<circle cx="233.1" cy="85.5" r="3.0" fill="#111"/>
<circle cx="237.7" cy="92.6" r="3.0" fill="#111"/>
<circle cx="242.3" cy="99.7" r="3.0" fill="#111"/>
<circle cx="246.9" cy="106.8" r="3.0" fill="#111"/>
<circle cx="251.6" cy="114.0" r="3.0" fill="#111"/>
<circle cx="256.2" cy="122.3" r="3.0" fill="#111"/>
<circle cx="260.8" cy="130.6" r="3.0" fill="#111"/>
<circle cx="265.4" cy="141.2" r="3.0" fill="#111"/>
<circle cx="270.0" cy="153.7" r="3.0" fill="#111"/>
<circle cx="274.7" cy="164.4" r="3.0" fill="#111"/>
<circle cx="279.3" cy="175.0" r="3.0" fill="#111"/>
<circle cx="283.9" cy="185.1" r="3.0" fill="#111"/>
<circle cx="288.5" cy="194.0" r="3.0" fill="#111"/>
<circle cx="293.1" cy="200.6" r="3.0" fill="#111"/>
<circle cx="297.8" cy="205.3" r="3.0" fill="#111"/>
<circle cx="302.4" cy="208.6" r="3.0" fill="#111"/>
<circle cx="307.0" cy="210.6" r="3.0" fill="#111"/>
<circle cx="311.6" cy="211.8" r="3.0" fill="#111"/>
<circle cx="316.3" cy="212.7" r="3.0" fill="#111"/>
<circle cx="320.9" cy="213.2" r="3.0" fill="#111"/>
<circle cx="325.5" cy="213.5" r="3.0" fill="#111"/>
<circle cx="80.6" cy="207.7" r="3.0" fill="#111"/>
<circle cx="85.2" cy="193.4" r="3.0" fill="#111"/>
<circle cx="89.8" cy="162.0" r="3.0" fill="#111"/>
<circle cx="58.8" cy="209.7" r="2.5" fill="#111"/>
<circle cx="61.1" cy="202.7" r="2.5" fill="#111"/>
<circle cx="63.5" cy="197.0" r="2.5" fill="#111"/>
<circle cx="65.8" cy="191.2" r="2.5" fill="#111"/>
<circle cx="68.1" cy="184.6" r="2.5" fill="#111"/>
<circle cx="70.4" cy="177.5" r="2.5" fill="#111"/>
<circle cx="72.7" cy="169.8" r="2.5" fill="#111"/>
<circle cx="75.0" cy="161.8" r="2.5" fill="#111"/>
<circle cx="77.3" cy="152.6" r="2.5" fill="#111"/>
<circle cx="79.6" cy="142.4" r="2.5" fill="#111"/>
<circle cx="81.9" cy="134.6" r="2.5" fill="#111"/>
<circle cx="84.2" cy="128.8" r="2.5" fill="#111"/>
<circle cx="86.6" cy="122.2" r="2.5" fill="#111"/>
<circle cx="88.9" cy="115.2" r="2.5" fill="#111"/>
<circle cx="91.2" cy="108.9" r="2.5" fill="#111"/>
<circle cx="93.5" cy="103.1" r="2.5" fill="#111"/>
<circle cx="95.8" cy="96.9" r="2.5" fill="#111"/>
<circle cx="98.1" cy="90.6" r="2.5" fill="#111"/>
<circle cx="100.4" cy="84.9" r="2.5" fill="#111"/>
<circle cx="102.7" cy="80.0" r="2.5" fill="#111"/>
<circle cx="105.0" cy="75.2" r="2.5" fill="#111"/>
<circle cx="107.4" cy="70.8" r="2.5" fill="#111"/>
<circle cx="109.7" cy="66.7" r="2.5" fill="#111"/>
<circle cx="112.0" cy="63.0" r="2.5" fill="#111"/>
<circle cx="114.3" cy="59.7" r="2.5" fill="#111"/>
<circle cx="116.6" cy="56.7" r="2.5" fill="#111"/>
<circle cx="118.9" cy="54.1" r="2.5" fill="#111"/>
<circle cx="121.2" cy="51.9" r="2.5" fill="#111"/>
<circle cx="123.5" cy="49.8" r="2.5" fill="#111"/>
<circle cx="125.8" cy="47.8" r="2.5" fill="#111"/>
<circle cx="128.2" cy="46.2" r="2.5" fill="#111"/>
<circle cx="130.5" cy="44.9" r="2.5" fill="#111"/>
<circle cx="132.8" cy="43.5" r="2.5" fill="#111"/>
<circle cx="135.1" cy="42.1" r="2.5" fill="#111"/>
<circle cx="137.4" cy="40.8" r="2.5" fill="#111"/>
<circle cx="139.7" cy="39.6" r="2.5" fill="#111"/>
<circle cx="142.0" cy="38.6" r="2.5" fill="#111"/>
<circle cx="144.3" cy="37.7" r="2.5" fill="#111"/>
<circle cx="146.6" cy="37.0" r="2.5" fill="#111"/>
<circle cx="149.0" cy="36.5" r="2.5" fill="#111"/>
<circle cx="151.3" cy="36.1" r="2.5" fill="#111"/>
<circle cx="153.6" cy="35.9" r="2.5" fill="#111"/>
<circle cx="155.9" cy="35.7" r="2.5" fill="#111"/>
<circle cx="158.2" cy="35.7" r="2.5" fill="#111"/>
<path d="M48.2,213.6 L48.7,213.6 L49.1,213.6 L49.6,213.6 L50.0,213.6 L50.5,213.6 L51.0,213.6 L51.4,213.6 L51.9,213.6 L52.4,213.6 L52.8,213.6 L53.3,213.6 L53.7,213.6 L54.2,213.6 L54.7,213.6 L55.1,213.6 L55.6,213.6 L56.1,213.6 L56.5,213.6 L57.0,213.6 L57.4,213.6 L57.9,213.6 L58.4,213.6 L58.8,213.6 L59.3,213.6 L59.8,213.6 L60.2,213.6 L60.7,213.6 L61.1,213.6 L61.6,213.6 L62.1,213.6 L62.5,213.6 L63.0,213.6 L63.5,213.6 L63.9,213.6 L64.4,213.6 L64.8,213.6 L65.3,213.6 L65.8,213.6 L66.2,213.6 L66.7,213.6 L67.1,213.6 L67.6,213.6 L68.1,213.6 L68.5,213.6 L69.0,213.6 L69.5,213.6 L69.9,213.6 L70.4,213.4 L70.8,211.5 L71.3,209.5 L71.8,207.6 L72.2,205.6 L72.7,203.7 L73.2,201.8 L73.6,199.9 L74.1,198.0 L74.5,196.2 L75.0,194.3 L75.5,192.5 L75.9,190.7 L76.4,188.8 L76.9,187.0 L77.3,185.3 L77.8,183.5 L78.2,181.7 L78.7,180.0 L79.2,178.2 L79.6,176.5 L80.1,174.8 L80.6,173.1 L81.0,171.4 L81.5,169.8 L81.9,168.1 L82.4,166.4 L82.9,164.8 L83.3,163.2 L83.8,161.6 L84.2,160.0 L84.7,158.4 L85.2,156.8 L85.6,155.3 L86.1,153.7 L86.6,152.2 L87.0,150.6 L87.5,149.1 L87.9,147.6 L88.4,146.1 L88.9,144.7 L89.3,143.2 L89.8,141.8 L90.3,140.3 L90.7,138.9 L91.2,137.5 L91.6,136.1 L92.1,134.7 L92.6,133.3 L93.0,131.9 L93.5,130.6 L94.0,129.2 L94.4,127.9 L94.9,126.5 L95.3,125.2 L95.8,123.9 L96.3,122.6 L96.7,121.4 L97.2,120.1 L97.7,118.8 L98.1,117.6 L98.6,116.4 L99.0,115.2 L99.5,113.9 L100.0,112.7 L100.4,111.6 L100.9,110.4 L101.3,109.2 L101.8,108.1 L102.3,106.9 L102.7,105.8 L103.2,104.7 L103.7,103.5 L104.1,102.5 L104.6,101.4 L105.0,100.3 L105.5,99.2 L106.0,98.2 L106.4,97.1 L106.9,96.1 L107.4,95.1 L107.8,94.0 L108.3,93.0 L108.7,92.0 L109.2,91.1 L109.7,90.1 L110.1,89.1 L110.6,88.2 L111.1,87.2 L111.5,86.3 L112.0,85.4 L112.4,84.5 L112.9,83.6 L113.4,82.7 L113.8,81.8 L114.3,80.9 L114.8,80.1 L115.2,79.2 L115.7,78.4 L116.1,77.6 L116.6,76.8 L117.1,75.9 L117.5,75.1 L118.0,74.4 L118.4,73.6 L118.9,72.8 L119.4,72.1 L119.8,71.3 L120.3,70.6 L120.8,69.8 L121.2,69.1 L121.7,68.4 L122.1,67.7 L122.6,67.0 L123.1,66.3 L123.5,65.7 L124.0,65.0 L124.5,64.3 L124.9,63.7 L125.4,63.1 L125.8,62.4 L126.3,61.8 L126.8,61.2 L127.2,60.6 L127.7,60.0 L128.2,59.4 L128.6,58.9 L129.1,58.3 L129.5,57.8 L130.0,57.2 L130.5,56.7 L130.9,56.2 L131.4,55.6 L131.9,55.1 L132.3,54.6 L132.8,54.1 L133.2,53.7 L133.7,53.2 L134.2,52.7 L134.6,52.3 L135.1,51.8 L135.5,51.4 L136.0,50.9 L136.5,50.5 L136.9,50.1 L137.4,49.7 L137.9,49.3 L138.3,48.9 L138.8,48.5 L139.2,48.2 L139.7,47.8 L140.2,47.5 L140.6,47.1 L141.1,46.8 L141.6,46.4 L142.0,46.1 L142.5,45.8 L142.9,45.5 L143.4,45.2 L143.9,44.9 L144.3,44.6 L144.8,44.4 L145.3,44.1 L145.7,43.8 L146.2,43.6 L146.6,43.4 L147.1,43.1 L147.6,42.9 L148.0,42.7 L148.5,42.5 L149.0,42.3 L149.4,42.1 L149.9,41.9 L150.3,41.7 L150.8,41.5 L151.3,41.4 L151.7,41.2 L152.2,41.1 L152.6,40.9 L153.1,40.8 L153.6,40.6 L154.0,40.5 L154.5,40.4 L155.0,40.3 L155.4,40.2 L155.9,40.1 L156.3,40.0 L156.8,39.9 L157.3,39.9 L157.7,39.8 L158.2,39.7 L158.7,39.7 L159.1,39.7 L159.6,39.6 L160.0,39.6 L160.5,39.6 L161.0,39.5 L161.4,39.5 L161.9,39.5 L162.4,39.5 L162.8,39.5 L163.3,39.6 L163.7,39.6 L164.2,39.6 L164.7,39.7 L165.1,39.7 L165.6,39.7 L166.1,39.8 L166.5,39.9 L167.0,39.9 L167.4,40.0 L167.9,40.1 L168.4,40.2 L168.8,40.3 L169.3,40.4 L169.7,40.5 L170.2,40.6 L170.7,40.7 L171.1,40.8 L171.6,40.9 L172.1,41.1 L172.5,41.2 L173.0,41.4 L173.4,41.5 L173.9,41.7 L174.4,41.8 L174.8,42.0 L175.3,42.2 L175.8,42.4 L176.2,42.6 L176.7,42.8 L177.1,43.0 L177.6,43.2 L178.1,43.4 L178.5,43.6 L179.0,43.8 L179.5,44.0 L179.9,44.3 L180.4,44.5 L180.8,44.7 L181.3,45.0 L181.8,45.2 L182.2,45.5 L182.7,45.8 L183.2,46.0 L183.6,46.3 L184.1,46.6 L184.5,46.9 L185.0,47.1 L185.5,47.4 L185.9,47.7 L186.4,48.0 L186.9,48.4 L187.3,48.7 L187.8,49.0 L188.2,49.3 L188.7,49.6 L189.2,50.0 L189.6,50.3 L190.1,50.6 L190.5,51.0 L191.0,51.3 L191.5,51.7 L191.9,52.1 L192.4,52.4 L192.9,52.8 L193.3,53.2 L193.8,53.5 L194.2,53.9 L194.7,54.3 L195.2,54.7 L195.6,55.1 L196.1,55.5 L196.6,55.9 L197.0,56.3 L197.5,56.7 L197.9,57.1 L198.4,57.5 L198.9,58.0 L199.3,58.4 L199.8,58.8 L200.3,59.3 L200.7,59.7 L201.2,60.1 L201.6,60.6 L202.1,61.0 L202.6,61.5 L203.0,61.9 L203.5,62.4 L204.0,62.9 L204.4,63.3 L204.9,63.8 L205.3,64.3 L205.8,64.8 L206.3,65.2 L206.7,65.7 L207.2,66.2 L207.6,66.7 L208.1,67.2 L208.6,67.7 L209.0,68.2 L209.5,68.7 L210.0,69.2 L210.4,69.7 L210.9,70.2 L211.3,70.8 L211.8,71.3 L212.3,71.8 L212.7,72.3 L213.2,72.9 L213.7,73.4 L214.1,73.9 L214.6,74.5 L215.0,75.0 L215.5,75.6 L216.0,76.1 L216.4,76.7 L216.9,77.2 L217.4,77.8 L217.8,78.3 L218.3,78.9 L218.7,79.4 L219.2,80.0 L219.7,80.6 L220.1,81.2 L220.6,81.7 L221.1,82.3 L221.5,82.9 L222.0,83.5 L222.4,84.0 L222.9,84.6 L223.4,85.2 L223.8,85.8 L224.3,86.4 L224.7,87.0 L225.2,87.6 L225.7,88.2 L226.1,88.8 L226.6,89.4 L227.1,90.0 L227.5,90.6 L228.0,91.2 L228.4,91.8 L228.9,92.4 L229.4,93.0 L229.8,93.6 L230.3,94.3 L230.8,94.9 L231.2,95.5 L231.7,96.1 L232.1,96.7 L232.6,97.4 L233.1,98.0 L233.5,98.6 L234.0,99.2 L234.5,99.9 L234.9,100.5 L235.4,101.1 L235.8,101.8 L236.3,102.4 L236.8,103.0 L237.2,103.7 L237.7,104.3 L238.2,105.0 L238.6,105.6 L239.1,106.2 L239.5,106.9 L240.0,107.5 L240.5,108.2 L240.9,108.8 L241.4,109.5 L241.8,110.1 L242.3,110.8 L242.8,111.4 L243.2,112.1 L243.7,112.7 L244.2,113.4 L244.6,114.0 L245.1,114.7 L245.5,115.3 L246.0,116.0 L246.5,116.6 L246.9,117.3 L247.4,118.0 L247.9,118.6 L248.3,119.3 L248.8,119.9 L249.2,120.6 L249.7,121.2 L250.2,121.9 L250.6,122.6 L251.1,123.2 L251.6,123.9 L252.0,124.5 L252.5,125.2 L252.9,125.8 L253.4,126.5 L253.9,127.2 L254.3,127.8 L254.8,128.5 L255.3,129.1 L255.7,129.8 L256.2,130.5 L256.6,131.1 L257.1,131.8 L257.6,132.4 L258.0,133.1 L258.5,133.7 L258.9,134.4 L259.4,135.1 L259.9,135.7 L260.3,136.4 L260.8,137.0 L261.3,137.7 L261.7,138.3 L262.2,139.0 L262.6,139.6 L263.1,140.3 L263.6,140.9 L264.0,141.6 L264.5,142.2 L265.0,142.9 L265.4,143.5 L265.9,144.2 L266.3,144.8 L266.8,145.5 L267.3,146.1 L267.7,146.8 L268.2,147.4 L268.7,148.1 L269.1,148.7 L269.6,149.3 L270.0,150.0 L270.5,150.6 L271.0,151.2 L271.4,151.9 L271.9,152.5 L272.4,153.1 L272.8,153.8 L273.3,154.4 L273.7,155.0 L274.2,155.7 L274.7,156.3 L275.1,156.9 L275.6,157.5 L276.0,158.1 L276.5,158.8 L277.0,159.4 L277.4,160.0 L277.9,160.6 L278.4,161.2 L278.8,161.8 L279.3,162.4 L279.7,163.0 L280.2,163.6 L280.7,164.2 L281.1,164.8 L281.6,165.4 L282.1,166.0 L282.5,166.6 L283.0,167.2 L283.4,167.8 L283.9,168.4 L284.4,169.0 L284.8,169.6 L285.3,170.1 L285.8,170.7 L286.2,171.3 L286.7,171.9 L287.1,172.4 L287.6,173.0 L288.1,173.6 L288.5,174.1 L289.0,174.7 L289.5,175.3 L289.9,175.8 L290.4,176.4 L290.8,176.9 L291.3,177.5 L291.8,178.0 L292.2,178.6 L292.7,179.1 L293.1,179.6 L293.6,180.2 L294.1,180.7 L294.5,181.2 L295.0,181.8 L295.5,182.3 L295.9,182.8 L296.4,183.3 L296.8,183.8 L297.3,184.3 L297.8,184.8 L298.2,185.3 L298.7,185.8 L299.2,186.3 L299.6,186.8 L300.1,187.3 L300.5,187.8 L301.0,188.3 L301.5,188.8 L301.9,189.2 L302.4,189.7 L302.9,190.2 L303.3,190.6 L303.8,191.1 L304.2,191.6 L304.7,192.0 L305.2,192.5 L305.6,192.9 L306.1,193.4 L306.6,193.8 L307.0,194.2 L307.5,194.7 L307.9,195.1 L308.4,195.5 L308.9,195.9 L309.3,196.4 L309.8,196.8 L310.2,197.2 L310.7,197.6 L311.2,198.0 L311.6,198.4 L312.1,198.8 L312.6,199.1 L313.0,199.5 L313.5,199.9 L313.9,200.3 L314.4,200.7 L314.9,201.0 L315.3,201.4 L315.8,201.7 L316.3,202.1 L316.7,202.4 L317.2,202.8 L317.6,203.1 L318.1,203.4 L318.6,203.8 L319.0,204.1 L319.5,204.4 L320.0,204.7 L320.4,205.0 L320.9,205.3 L321.3,205.6 L321.8,205.9 L322.3,206.2 L322.7,206.5 L323.2,206.8 L323.7,207.1 L324.1,207.3 L324.6,207.6 L325.0,207.8 L325.5,208.1" fill="none" stroke="#111" stroke-width="2.6" stroke-linecap="butt" stroke-linejoin="round" />
<line x1="105.0" y1="93.89999999999999" x2="145.5" y2="93.89999999999999" stroke="#111" stroke-width="3"/>
<text x="149.7" y="98.3" class="lg" textLength="31" lengthAdjust="spacingAndGlyphs">Exact</text>
<circle cx="124.6" cy="110.1" r="1.8" fill="none" stroke="#111" stroke-width="1.3"/>
<text x="149.7" y="114.55" class="lg" textLength="82.6" lengthAdjust="spacingAndGlyphs">1-Down Wind</text>
<circle cx="124.6" cy="126.4" r="3.3" fill="#111"/>
<text x="149.7" y="130.8" class="lg" textLength="54.8" lengthAdjust="spacingAndGlyphs">2-Central</text>
<path d="M122.7,140.8 L126.5,144.6 M122.7,144.6 L126.5,140.8" stroke="#111" stroke-width="1.5"/>
<text x="149.7" y="147.05" class="lg" textLength="82.4" lengthAdjust="spacingAndGlyphs">3-Ying's eq(8)</text>
<circle cx="124.6" cy="158.9" r="1.8" fill="#111"/>
<text x="149.7" y="163.3" class="lg" textLength="82.4" lengthAdjust="spacingAndGlyphs">4-Ying's eq(9)</text>
<line x1="105.0" y1="175.15" x2="145.5" y2="175.15" stroke="#111" stroke-width="3.4" stroke-dasharray="8,2.9" stroke-linecap="butt"/>
<text x="149.7" y="179.55" class="lg" textLength="47.2" lengthAdjust="spacingAndGlyphs">5-New1</text>
<line x1="106.0" y1="191.4" x2="139.5" y2="191.4" stroke="#111" stroke-width="2.6" stroke-dasharray="0.01,5.4" stroke-linecap="round"/>
<text x="149.7" y="195.8" class="lg" textLength="47.4" lengthAdjust="spacingAndGlyphs">6-New2</text>
<line x1="106.8" y1="207.65" x2="145.5" y2="207.65" stroke="#1a1a1a" stroke-width="3.8" stroke-dasharray="5,5.6" stroke-linecap="round"/>
<line x1="106.8" y1="207.65" x2="145.5" y2="207.65" stroke="#999" stroke-width="1.0" stroke-dasharray="5,5.6" stroke-linecap="round"/>
<text x="149.7" y="212.05" class="lg" textLength="47.4" lengthAdjust="spacingAndGlyphs">7-New3</text>
<path d="M394.3,6.6 L394.3,214.5 L674.2,214.5" fill="none" stroke="#1a1a1a" stroke-width="1.4"/>
<path d="M394.3,6.6 L674.2,6.6 L674.2,214.5" fill="none" stroke="#222" stroke-width="1.4"/>
<line x1="389.3" y1="214.5" x2="394.3" y2="214.5" stroke="#1a1a1a" stroke-width="1.4"/>
<text x="386.3" y="218.6" text-anchor="end" class="tk">0</text>
<line x1="389.3" y1="172.9" x2="394.3" y2="172.9" stroke="#1a1a1a" stroke-width="1.4"/>
<text x="386.3" y="177.0" text-anchor="end" class="tk">5</text>
<line x1="389.3" y1="131.3" x2="394.3" y2="131.3" stroke="#1a1a1a" stroke-width="1.4"/>
<text x="386.3" y="135.4" text-anchor="end" class="tk">10</text>
<line x1="389.3" y1="89.8" x2="394.3" y2="89.8" stroke="#1a1a1a" stroke-width="1.4"/>
<text x="386.3" y="93.9" text-anchor="end" class="tk">15</text>
<line x1="389.3" y1="48.2" x2="394.3" y2="48.2" stroke="#1a1a1a" stroke-width="1.4"/>
<text x="386.3" y="52.3" text-anchor="end" class="tk">20</text>
<line x1="389.3" y1="6.6" x2="394.3" y2="6.6" stroke="#1a1a1a" stroke-width="1.4"/>
<text x="386.3" y="10.7" text-anchor="end" class="tk">25</text>
<line x1="394.3" y1="214.5" x2="394.3" y2="219.5" stroke="#1a1a1a" stroke-width="1.4"/>
<text x="394.6" y="236.6" text-anchor="middle" class="tk">350</text>
<line x1="429.3" y1="214.5" x2="429.3" y2="219.5" stroke="#1a1a1a" stroke-width="1.4"/>
<text x="429.5" y="236.6" text-anchor="middle" class="tk">400</text>
<line x1="464.3" y1="214.5" x2="464.3" y2="219.5" stroke="#1a1a1a" stroke-width="1.4"/>
<text x="464.5" y="236.6" text-anchor="middle" class="tk">450</text>
<line x1="499.3" y1="214.5" x2="499.3" y2="219.5" stroke="#1a1a1a" stroke-width="1.4"/>
<text x="499.5" y="236.6" text-anchor="middle" class="tk">500</text>
<line x1="534.2" y1="214.5" x2="534.2" y2="219.5" stroke="#1a1a1a" stroke-width="1.4"/>
<text x="534.5" y="236.6" text-anchor="middle" class="tk">550</text>
<line x1="569.2" y1="214.5" x2="569.2" y2="219.5" stroke="#1a1a1a" stroke-width="1.4"/>
<text x="569.5" y="236.6" text-anchor="middle" class="tk">600</text>
<line x1="604.2" y1="214.5" x2="604.2" y2="219.5" stroke="#1a1a1a" stroke-width="1.4"/>
<text x="604.5" y="236.6" text-anchor="middle" class="tk">650</text>
<line x1="639.2" y1="214.5" x2="639.2" y2="219.5" stroke="#1a1a1a" stroke-width="1.4"/>
<text x="639.5" y="236.6" text-anchor="middle" class="tk">700</text>
<line x1="674.2" y1="214.5" x2="674.2" y2="219.5" stroke="#1a1a1a" stroke-width="1.4"/>
<text x="674.5" y="236.6" text-anchor="middle" class="tk">750</text>
<text transform="translate(362.3,110.5) rotate(-90)" text-anchor="middle" class="ti" style="font-size:14.7px"><tspan font-style="italic">u</tspan><tspan font-size="13">/(</tspan>ms<tspan font-size="8.5" dy="-3.6">-1</tspan><tspan dy="3.6" font-size="13">)</tspan></text>
<text x="513.0" y="255.8" class="ti" style="font-size:15px" font-style="italic">x</text>
<line x1="520.3" y1="258.8" x2="526.3" y2="245.5" stroke="#111" stroke-width="2.4"/>
<text x="526.4" y="255.8" class="ti" style="font-size:15px">m</text>
<text x="519.4" y="279.6" text-anchor="middle" class="cap">(b)</text>
<path d="M394.3,214.5 L394.6,214.5 L395.0,214.5 L395.3,214.5 L395.7,214.5 L396.0,214.5 L396.4,214.5 L396.7,214.5 L397.1,214.5 L397.4,214.5 L397.8,214.5 L398.1,214.5 L398.5,214.5 L398.8,214.5 L399.2,214.5 L399.5,214.5 L399.9,214.5 L400.2,214.5 L400.6,214.5 L400.9,214.5 L401.3,214.5 L401.6,214.5 L402.0,214.5 L402.3,214.5 L402.7,214.5 L403.0,214.5 L403.4,214.5 L403.7,214.5 L404.1,214.5 L404.4,214.5 L404.8,214.5 L405.1,214.5 L405.5,214.5 L405.8,214.5 L406.2,214.5 L406.5,214.5 L406.9,214.5 L407.2,214.5 L407.6,214.5 L407.9,214.5 L408.3,214.5 L408.6,214.5 L409.0,214.5 L409.3,214.5 L409.7,214.5 L410.0,214.5 L410.4,214.5 L410.7,214.5 L411.1,214.5 L411.4,214.5 L411.8,214.5 L412.1,214.5 L412.5,214.5 L412.8,214.5 L413.2,214.5 L413.5,214.5 L413.9,214.5 L414.2,214.5 L414.6,214.5 L414.9,214.5 L415.3,214.5 L415.6,214.5 L416.0,214.5 L416.3,214.5 L416.7,214.5 L417.0,214.5 L417.4,214.5 L417.7,214.5 L418.1,214.5 L418.4,214.5 L418.8,214.5 L419.1,214.5 L419.5,214.5 L419.8,214.5 L420.2,214.5 L420.5,214.5 L420.9,214.5 L421.2,214.5 L421.6,214.5 L421.9,214.5 L422.3,214.5 L422.6,214.5 L423.0,214.5 L423.3,214.4 L423.7,214.4 L424.0,214.4 L424.4,214.3 L424.7,214.2 L425.1,214.2 L425.4,214.1 L425.8,214.0 L426.1,213.9 L426.5,213.9 L426.8,213.8 L427.2,213.7 L427.5,213.6 L427.9,213.5 L428.2,213.4 L428.6,213.3 L428.9,213.1 L429.3,213.0 L429.6,212.9 L430.0,212.7 L430.3,212.5 L430.7,212.4 L431.0,212.2 L431.4,212.0 L431.7,211.8 L432.1,211.6 L432.4,211.4 L432.8,211.2 L433.1,211.0 L433.5,210.8 L433.8,210.5 L434.2,210.3 L434.5,210.1 L434.9,209.8 L435.2,209.5 L435.6,209.3 L435.9,209.0 L436.3,208.8 L436.6,208.5 L437.0,208.2 L437.3,207.9 L437.7,207.7 L438.0,207.4 L438.4,207.1 L438.7,206.9 L439.1,206.6 L439.4,206.3 L439.8,206.0 L440.1,205.8 L440.5,205.5 L440.8,205.2 L441.2,204.9 L441.5,204.6 L441.9,204.4 L442.2,204.1 L442.6,203.8 L442.9,203.5 L443.3,203.2 L443.6,202.9 L444.0,202.6 L444.3,202.3 L444.7,202.0 L445.0,201.7 L445.4,201.4 L445.7,201.1 L446.1,200.8 L446.4,200.5 L446.8,200.2 L447.1,199.8 L447.5,199.5 L447.8,199.2 L448.2,198.9 L448.5,198.6 L448.9,198.3 L449.2,197.9 L449.6,197.6 L449.9,197.3 L450.3,197.0 L450.6,196.7 L451.0,196.4 L451.3,196.2 L451.7,195.9 L452.0,195.6 L452.4,195.3 L452.7,195.0 L453.1,194.7 L453.4,194.4 L453.8,194.1 L454.1,193.8 L454.5,193.5 L454.8,193.2 L455.2,192.9 L455.5,192.7 L455.9,192.4 L456.2,192.1 L456.6,191.8 L456.9,191.5 L457.3,191.2 L457.6,191.0 L458.0,190.7 L458.3,190.4 L458.7,190.1 L459.0,189.8 L459.4,189.6 L459.7,189.3 L460.1,189.0 L460.4,188.7 L460.8,188.5 L461.1,188.2 L461.5,187.9 L461.8,187.6 L462.2,187.4 L462.5,187.1 L462.9,186.8 L463.2,186.6 L463.6,186.3 L463.9,186.0 L464.3,185.8 L464.6,185.5 L465.0,185.2 L465.3,185.0 L465.7,184.7 L466.0,184.4 L466.4,184.2 L466.7,183.9 L467.1,183.7 L467.4,183.4 L467.8,183.1 L468.1,182.9 L468.5,182.6 L468.8,182.3 L469.2,182.0 L469.5,181.8 L469.9,181.5 L470.2,181.2 L470.6,181.0 L470.9,180.7 L471.3,180.4 L471.6,180.1 L472.0,179.8 L472.3,179.6 L472.7,179.3 L473.0,179.0 L473.4,178.7 L473.7,178.4 L474.1,178.1 L474.4,177.8 L474.8,177.5 L475.1,177.2 L475.5,177.0 L475.8,176.7 L476.2,176.4 L476.5,176.1 L476.9,175.8 L477.2,175.5 L477.6,175.2 L477.9,174.9 L478.3,174.6 L478.6,174.3 L479.0,174.0 L479.3,173.8 L479.7,173.5 L480.0,173.2 L480.4,172.9 L480.7,172.6 L481.1,172.4 L481.4,172.1 L481.8,171.8 L482.1,171.5 L482.5,171.3 L482.8,171.0 L483.2,170.7 L483.5,170.4 L483.9,170.2 L484.2,169.9 L484.6,169.6 L484.9,169.3 L485.3,169.1 L485.6,168.8 L486.0,168.5 L486.3,168.3 L486.7,168.0 L487.0,167.7 L487.4,167.5 L487.7,167.2 L488.1,166.9 L488.4,166.7 L488.8,166.4 L489.1,166.1 L489.5,165.9 L489.8,165.6 L490.2,165.3 L490.5,165.1 L490.9,164.8 L491.2,164.5 L491.6,164.3 L491.9,164.0 L492.3,163.8 L492.6,163.5 L493.0,163.3 L493.3,163.0 L493.7,162.8 L494.0,162.5 L494.4,162.3 L494.7,162.0 L495.1,161.8 L495.4,161.5 L495.8,161.3 L496.1,161.0 L496.5,160.8 L496.8,160.5 L497.2,160.3 L497.5,160.0 L497.9,159.8 L498.2,159.5 L498.6,159.3 L498.9,159.1 L499.3,158.8 L499.6,158.6 L500.0,158.3 L500.3,158.1 L500.7,157.9 L501.0,157.6 L501.4,157.4 L501.7,157.1 L502.1,156.9 L502.4,156.7 L502.8,156.4 L503.1,156.2 L503.5,155.9 L503.8,155.7 L504.2,155.5 L504.5,155.2 L504.9,155.0 L505.2,154.7 L505.6,154.5 L505.9,154.3 L506.3,154.0 L506.6,153.8 L507.0,153.6 L507.3,153.3 L507.7,153.1 L508.0,152.8 L508.4,152.6 L508.7,152.4 L509.1,152.1 L509.4,151.9 L509.8,151.7 L510.1,151.4 L510.5,151.2 L510.8,151.0 L511.2,150.7 L511.5,150.5 L511.9,150.3 L512.2,150.0 L512.6,149.8 L512.9,149.6 L513.3,149.3 L513.6,149.1 L514.0,148.9 L514.3,148.6 L514.7,148.4 L515.0,148.2 L515.4,147.9 L515.7,147.7 L516.1,147.4 L516.4,147.2 L516.8,147.0 L517.1,146.7 L517.5,146.5 L517.8,146.3 L518.2,146.0 L518.5,145.8 L518.9,145.5 L519.2,145.3 L519.6,145.1 L519.9,144.8 L520.3,144.6 L520.6,144.3 L521.0,144.1 L521.3,143.9 L521.7,143.6 L522.0,143.4 L522.4,143.1 L522.7,142.9 L523.1,142.6 L523.4,142.4 L523.8,142.2 L524.1,141.9 L524.5,141.7 L524.8,141.4 L525.2,141.2 L525.5,141.0 L525.9,140.7 L526.2,140.5 L526.6,140.2 L526.9,140.0 L527.3,139.8 L527.6,139.5 L528.0,139.3 L528.3,139.1 L528.7,138.8 L529.0,138.6 L529.4,138.4 L529.7,138.1 L530.1,137.9 L530.4,137.7 L530.8,137.4 L531.1,137.2 L531.5,137.0 L531.8,136.7 L532.2,136.5 L532.5,136.3 L532.9,136.1 L533.2,135.8 L533.6,135.6 L533.9,135.4 L534.2,135.1 L534.6,134.9 L534.9,134.7 L535.3,134.5 L535.6,134.2 L536.0,134.0 L536.3,133.8 L536.7,133.5 L537.0,133.3 L537.4,133.1 L537.7,132.8 L538.1,132.6 L538.4,132.4 L538.8,132.2 L539.1,131.9 L539.5,131.7 L539.8,131.5 L540.2,131.2 L540.5,131.0 L540.9,130.7 L541.2,130.5 L541.6,130.3 L541.9,130.0 L542.3,129.8 L542.6,129.5 L543.0,129.3 L543.3,129.1 L543.7,128.8 L544.0,128.6 L544.4,128.3 L544.7,128.1 L545.1,127.8 L545.4,127.6 L545.8,127.3 L546.1,127.1 L546.5,126.8 L546.8,126.6 L547.2,126.3 L547.5,126.0 L547.9,125.8 L548.2,125.5 L548.6,125.3 L548.9,125.0 L549.3,124.8 L549.6,124.5 L550.0,124.3 L550.3,124.0 L550.7,123.8 L551.0,123.5 L551.4,123.2 L551.7,123.0 L552.1,122.7 L552.4,122.4 L552.8,122.2 L553.1,121.9 L553.5,121.6 L553.8,121.4 L554.2,121.1 L554.5,120.9 L554.9,120.6 L555.2,120.3 L555.6,120.1 L555.9,119.8 L556.3,119.6 L556.6,119.3 L557.0,119.1 L557.3,118.9 L557.7,118.6 L558.0,118.4 L558.4,118.2 L558.7,118.0 L559.1,117.7 L559.4,117.5 L559.8,117.3 L560.1,117.1 L560.5,116.9 L560.8,116.6 L561.2,116.4 L561.5,116.2 L561.9,116.0 L562.2,115.8 L562.6,115.6 L562.9,115.4 L563.3,115.2 L563.6,115.0 L564.0,114.8 L564.3,114.6 L564.7,114.4 L565.0,114.2 L565.4,114.1 L565.7,113.9 L566.1,113.7 L566.4,113.5 L566.8,113.3 L567.1,113.2 L567.5,113.0 L567.8,112.8 L568.2,112.6 L568.5,112.4 L568.9,112.3 L569.2,112.1 L569.6,111.9 L569.9,111.8 L570.3,111.6 L570.6,111.4 L571.0,111.3 L571.3,111.1 L571.7,111.0 L572.0,110.8 L572.4,110.7 L572.7,110.5 L573.1,110.4 L573.4,110.2 L573.8,110.1 L574.1,110.0 L574.5,109.8 L574.8,109.7 L575.2,109.6 L575.5,109.5 L575.9,109.4 L576.2,109.2 L576.6,109.1 L576.9,109.0 L577.3,108.9 L577.6,108.8 L578.0,108.7 L578.3,108.6 L578.7,108.5 L579.0,108.4 L579.4,108.4 L579.7,108.3 L580.1,108.2 L580.4,108.1 L580.8,108.0 L581.1,108.0 L581.5,107.9 L581.8,107.8 L582.2,107.8 L582.5,107.7 L582.9,107.7 L583.2,107.6 L583.6,107.6 L583.9,107.6 L584.3,107.5 L584.6,107.5 L585.0,107.4 L585.3,107.4 L585.7,107.4 L586.0,107.3 L586.4,107.3 L586.7,107.3 L587.1,107.3 L587.4,107.3 L587.8,107.2 L588.1,107.2 L588.5,107.2 L588.8,107.2 L589.2,107.2 L589.5,107.2 L589.9,107.3 L590.2,107.3 L590.6,107.3 L590.9,107.3 L591.3,107.3 L591.6,107.4 L592.0,107.4 L592.3,107.5 L592.7,107.5 L593.0,107.6 L593.4,107.7 L593.7,107.7 L594.1,107.8 L594.4,107.9 L594.8,108.0 L595.1,108.1 L595.5,108.2 L595.8,108.3 L596.2,108.4 L596.5,108.6 L596.9,108.7 L597.2,108.8 L597.6,108.9 L597.9,109.1 L598.3,109.2 L598.6,109.3 L599.0,109.5 L599.3,109.6 L599.7,109.7 L600.0,109.9 L600.4,110.0 L600.7,110.1 L601.1,110.3 L601.4,110.4 L601.8,110.5 L602.1,110.7 L602.5,110.8 L602.8,110.9 L603.2,111.1 L603.5,111.2 L603.9,111.4 L604.2,111.5 L604.6,111.7 L604.9,111.8 L605.3,112.0 L605.6,112.1 L606.0,112.3 L606.3,112.4 L606.7,112.5 L607.0,112.7 L607.4,112.8 L607.7,113.0 L608.1,113.1 L608.4,113.3 L608.8,113.4 L609.1,113.6 L609.5,113.7 L609.8,113.9 L610.2,114.0 L610.5,114.2 L610.9,114.3 L611.2,114.4 L611.6,114.6 L611.9,114.7 L612.3,114.9 L612.6,115.0 L613.0,115.2 L613.3,115.3 L613.7,115.4 L614.0,115.6 L614.4,115.7 L614.7,115.9 L615.1,116.0 L615.4,116.2 L615.8,116.3 L616.1,116.4 L616.5,116.6 L616.8,116.7 L617.2,116.9 L617.5,117.0 L617.9,117.2 L618.2,117.3 L618.6,117.5 L618.9,117.6 L619.3,117.8 L619.6,117.9 L620.0,118.1 L620.3,118.2 L620.7,118.4 L621.0,118.5 L621.4,118.7 L621.7,118.9 L622.1,119.0 L622.4,119.2 L622.8,119.3 L623.1,119.5 L623.5,119.6 L623.8,119.8 L624.2,120.0 L624.5,120.1 L624.9,120.3 L625.2,120.4 L625.6,120.6 L625.9,120.8 L626.3,120.9 L626.6,121.1 L627.0,121.2 L627.3,121.4 L627.7,121.5 L628.0,121.7 L628.4,121.8 L628.7,122.0 L629.1,122.2 L629.4,122.3 L629.8,122.5 L630.1,122.7 L630.5,122.8 L630.8,123.0 L631.2,123.1 L631.5,123.3 L631.9,123.5 L632.2,123.6 L632.6,123.8 L632.9,123.9 L633.3,124.0 L633.6,124.2 L634.0,124.3 L634.3,124.4 L634.7,124.5 L635.0,124.6 L635.4,124.7 L635.7,124.7 L636.1,124.7 L636.4,124.7 L636.8,124.6 L637.1,124.5 L637.5,124.4 L637.8,124.3 L638.2,124.2 L638.5,124.1 L638.9,123.9 L639.2,123.9" fill="none" stroke="#111" stroke-width="8.0" stroke-linecap="round" stroke-linejoin="round" />
<circle cx="434.9" cy="212.0" r="3.0" fill="#111"/>
<circle cx="437.7" cy="209.5" r="3.0" fill="#111"/>
<circle cx="440.5" cy="207.0" r="3.0" fill="#111"/>
<circle cx="442.6" cy="210.3" r="3.0" fill="#111"/>
<circle cx="445.4" cy="204.5" r="3.0" fill="#111"/>
<path d="M638.5,123.9 L641.3,119.7 L643.4,108.1 L644.4,98.1 L645.1,118.9 L645.9,148.0 L647.0,177.1 L648.0,202.0 L648.8,214.5" fill="none" stroke="#111" stroke-width="2.6" stroke-linecap="butt" stroke-linejoin="round" stroke-dasharray="5,2" />
<path d="M643.1,114.7 L644.0,131.3 L645.0,156.3 L646.1,185.4 L646.9,214.5" fill="none" stroke="#111" stroke-width="2.0" stroke-linecap="butt" stroke-linejoin="round" />
<path d="M646.8,87.9 L650.6,91.7 M646.8,91.7 L650.6,87.9" stroke="#111" stroke-width="1.5"/>
<circle cx="645.1" cy="96.4" r="1.8" fill="none" stroke="#111" stroke-width="1.2"/>
<circle cx="645.0" cy="103.9" r="1.6" fill="none" stroke="#1a1a1a" stroke-width="1"/>
<circle cx="644.5" cy="113.0" r="1.8" fill="#111"/>
<circle cx="644.8" cy="127.2" r="1.8" fill="#111"/>
<circle cx="645.4" cy="139.7" r="1.8" fill="#111"/>
<circle cx="645.9" cy="154.6" r="1.8" fill="#111"/>
<circle cx="643.8" cy="121.4" r="1.8" fill="#111"/>
<circle cx="634.6" cy="126.4" r="3.0" fill="#111"/>
<path d="M647.3,214.5 L674.2,214.5" fill="none" stroke="#111" stroke-width="5.5" stroke-linecap="round" stroke-linejoin="round" />
<path d="M394.3,214.5 L394.6,214.5 L395.0,214.5 L395.3,214.5 L395.7,214.5 L396.0,214.5 L396.4,214.5 L396.7,214.5 L397.1,214.5 L397.4,214.5 L397.8,214.5 L398.1,214.5 L398.5,214.5 L398.8,214.5 L399.2,214.5 L399.5,214.5 L399.9,214.5 L400.2,214.5 L400.6,214.5 L400.9,214.5 L401.3,214.5 L401.6,214.5 L402.0,214.5 L402.3,214.5 L402.7,214.5 L403.0,214.5 L403.4,214.5 L403.7,214.5 L404.1,214.5 L404.4,214.5 L404.8,214.5 L405.1,214.5 L405.5,214.5 L405.8,214.5 L406.2,214.5 L406.5,214.5 L406.9,214.5 L407.2,214.5 L407.6,214.5 L407.9,214.5 L408.3,214.5 L408.6,214.5 L409.0,214.5 L409.3,214.5 L409.7,214.5 L410.0,214.5 L410.4,214.5 L410.7,214.5 L411.1,214.5 L411.4,214.5 L411.8,214.5 L412.1,214.5 L412.5,214.5 L412.8,214.5 L413.2,214.5 L413.5,214.5 L413.9,214.5 L414.2,214.5 L414.6,214.5 L414.9,214.5 L415.3,214.5 L415.6,214.5 L416.0,214.5 L416.3,214.5 L416.7,214.5 L417.0,214.5 L417.4,214.5 L417.7,214.5 L418.1,214.5 L418.4,214.5 L418.8,214.5 L419.1,214.5 L419.5,214.5 L419.8,214.5 L420.2,214.5 L420.5,214.5 L420.9,214.5 L421.2,214.5 L421.6,214.5 L421.9,214.5 L422.3,214.5 L422.6,214.5 L423.0,214.5 L423.3,214.5 L423.7,214.5 L424.0,214.5 L424.4,214.5 L424.7,214.5 L425.1,214.5 L425.4,214.5 L425.8,214.5 L426.1,214.5 L426.5,214.5 L426.8,214.5 L427.2,214.5 L427.5,214.5 L427.9,214.5 L428.2,214.5 L428.6,214.5 L428.9,214.5 L429.3,214.5 L429.6,214.5 L430.0,214.5 L430.3,214.5 L430.7,214.5 L431.0,214.2 L431.4,213.9 L431.7,213.6 L432.1,213.4 L432.4,213.1 L432.8,212.8 L433.1,212.5 L433.5,212.3 L433.8,212.0 L434.2,211.7 L434.5,211.4 L434.9,211.1 L435.2,210.9 L435.6,210.6 L435.9,210.3 L436.3,210.0 L436.6,209.8 L437.0,209.5 L437.3,209.2 L437.7,208.9 L438.0,208.7 L438.4,208.4 L438.7,208.1 L439.1,207.8 L439.4,207.5 L439.8,207.3 L440.1,207.0 L440.5,206.7 L440.8,206.4 L441.2,206.2 L441.5,205.9 L441.9,205.6 L442.2,205.3 L442.6,205.1 L442.9,204.8 L443.3,204.5 L443.6,204.2 L444.0,203.9 L444.3,203.7 L444.7,203.4 L445.0,203.1 L445.4,202.8 L445.7,202.6 L446.1,202.3 L446.4,202.0 L446.8,201.7 L447.1,201.4 L447.5,201.2 L447.8,200.9 L448.2,200.6 L448.5,200.3 L448.9,200.1 L449.2,199.8 L449.6,199.5 L449.9,199.2 L450.3,199.0 L450.6,198.7 L451.0,198.4 L451.3,198.1 L451.7,197.8 L452.0,197.6 L452.4,197.3 L452.7,197.0 L453.1,196.7 L453.4,196.5 L453.8,196.2 L454.1,195.9 L454.5,195.6 L454.8,195.3 L455.2,195.1 L455.5,194.8 L455.9,194.5 L456.2,194.2 L456.6,194.0 L456.9,193.7 L457.3,193.4 L457.6,193.1 L458.0,192.9 L458.3,192.6 L458.7,192.3 L459.0,192.0 L459.4,191.7 L459.7,191.5 L460.1,191.2 L460.4,190.9 L460.8,190.6 L461.1,190.4 L461.5,190.1 L461.8,189.8 L462.2,189.5 L462.5,189.2 L462.9,189.0 L463.2,188.7 L463.6,188.4 L463.9,188.1 L464.3,187.9 L464.6,187.6 L465.0,187.3 L465.3,187.0 L465.7,186.8 L466.0,186.5 L466.4,186.2 L466.7,185.9 L467.1,185.6 L467.4,185.4 L467.8,185.1 L468.1,184.8 L468.5,184.5 L468.8,184.3 L469.2,184.0 L469.5,183.7 L469.9,183.4 L470.2,183.2 L470.6,182.9 L470.9,182.6 L471.3,182.3 L471.6,182.0 L472.0,181.8 L472.3,181.5 L472.7,181.2 L473.0,180.9 L473.4,180.7 L473.7,180.4 L474.1,180.1 L474.4,179.8 L474.8,179.5 L475.1,179.3 L475.5,179.0 L475.8,178.7 L476.2,178.4 L476.5,178.2 L476.9,177.9 L477.2,177.6 L477.6,177.3 L477.9,177.1 L478.3,176.8 L478.6,176.5 L479.0,176.2 L479.3,175.9 L479.7,175.7 L480.0,175.4 L480.4,175.1 L480.7,174.8 L481.1,174.6 L481.4,174.3 L481.8,174.0 L482.1,173.7 L482.5,173.4 L482.8,173.2 L483.2,172.9 L483.5,172.6 L483.9,172.3 L484.2,172.1 L484.6,171.8 L484.9,171.5 L485.3,171.2 L485.6,171.0 L486.0,170.7 L486.3,170.4 L486.7,170.1 L487.0,169.8 L487.4,169.6 L487.7,169.3 L488.1,169.0 L488.4,168.7 L488.8,168.5 L489.1,168.2 L489.5,167.9 L489.8,167.6 L490.2,167.4 L490.5,167.1 L490.9,166.8 L491.2,166.5 L491.6,166.2 L491.9,166.0 L492.3,165.7 L492.6,165.4 L493.0,165.1 L493.3,164.9 L493.7,164.6 L494.0,164.3 L494.4,164.0 L494.7,163.7 L495.1,163.5 L495.4,163.2 L495.8,162.9 L496.1,162.6 L496.5,162.4 L496.8,162.1 L497.2,161.8 L497.5,161.5 L497.9,161.3 L498.2,161.0 L498.6,160.7 L498.9,160.4 L499.3,160.1 L499.6,159.9 L500.0,159.6 L500.3,159.3 L500.7,159.0 L501.0,158.8 L501.4,158.5 L501.7,158.2 L502.1,157.9 L502.4,157.6 L502.8,157.4 L503.1,157.1 L503.5,156.8 L503.8,156.5 L504.2,156.3 L504.5,156.0 L504.9,155.7 L505.2,155.4 L505.6,155.2 L505.9,154.9 L506.3,154.6 L506.6,154.3 L507.0,154.0 L507.3,153.8 L507.7,153.5 L508.0,153.2 L508.4,152.9 L508.7,152.7 L509.1,152.4 L509.4,152.1 L509.8,151.8 L510.1,151.6 L510.5,151.3 L510.8,151.0 L511.2,150.7 L511.5,150.4 L511.9,150.2 L512.2,149.9 L512.6,149.6 L512.9,149.3 L513.3,149.1 L513.6,148.8 L514.0,148.5 L514.3,148.2 L514.7,147.9 L515.0,147.7 L515.4,147.4 L515.7,147.1 L516.1,146.8 L516.4,146.6 L516.8,146.3 L517.1,146.0 L517.5,145.7 L517.8,145.5 L518.2,145.2 L518.5,144.9 L518.9,144.6 L519.2,144.3 L519.6,144.1 L519.9,143.8 L520.3,143.5 L520.6,143.2 L521.0,143.0 L521.3,142.7 L521.7,142.4 L522.0,142.1 L522.4,141.8 L522.7,141.6 L523.1,141.3 L523.4,141.0 L523.8,140.7 L524.1,140.5 L524.5,140.2 L524.8,139.9 L525.2,139.6 L525.5,139.4 L525.9,139.1 L526.2,138.8 L526.6,138.5 L526.9,138.2 L527.3,138.0 L527.6,137.7 L528.0,137.4 L528.3,137.1 L528.7,136.9 L529.0,136.6 L529.4,136.3 L529.7,136.0 L530.1,135.8 L530.4,135.5 L530.8,135.2 L531.1,134.9 L531.5,134.6 L531.8,134.4 L532.2,134.1 L532.5,133.8 L532.9,133.5 L533.2,133.3 L533.6,133.0 L533.9,132.7 L534.2,132.4 L534.6,132.1 L534.9,131.9 L535.3,131.6 L535.6,131.3 L536.0,131.0 L536.3,130.8 L536.7,130.5 L537.0,130.2 L537.4,129.9 L537.7,129.7 L538.1,129.4 L538.4,129.1 L538.8,128.8 L539.1,128.5 L539.5,128.3 L539.8,128.0 L540.2,127.7 L540.5,127.4 L540.9,127.2 L541.2,126.9 L541.6,126.6 L541.9,126.3 L542.3,126.0 L542.6,125.8 L543.0,125.5 L543.3,125.2 L543.7,124.9 L544.0,124.7 L544.4,124.4 L544.7,124.1 L545.1,123.8 L545.4,123.6 L545.8,123.3 L546.1,123.0 L546.5,122.7 L546.8,122.4 L547.2,122.2 L547.5,121.9 L547.9,121.6 L548.2,121.3 L548.6,121.1 L548.9,120.8 L549.3,120.5 L549.6,120.2 L550.0,119.9 L550.3,119.7 L550.7,119.4 L551.0,119.1 L551.4,118.8 L551.7,118.6 L552.1,118.3 L552.4,118.0 L552.8,117.7 L553.1,117.5 L553.5,117.2 L553.8,116.9 L554.2,116.6 L554.5,116.3 L554.9,116.1 L555.2,115.8 L555.6,115.5 L555.9,115.2 L556.3,115.0 L556.6,114.7 L557.0,114.4 L557.3,114.1 L557.7,113.9 L558.0,113.6 L558.4,113.3 L558.7,113.0 L559.1,112.7 L559.4,112.5 L559.8,112.2 L560.1,111.9 L560.5,111.6 L560.8,111.4 L561.2,111.1 L561.5,110.8 L561.9,110.5 L562.2,110.2 L562.6,110.0 L562.9,109.7 L563.3,109.4 L563.6,109.1 L564.0,108.9 L564.3,108.6 L564.7,108.3 L565.0,108.0 L565.4,107.8 L565.7,107.5 L566.1,107.2 L566.4,106.9 L566.8,106.6 L567.1,106.4 L567.5,106.1 L567.8,105.8 L568.2,105.5 L568.5,105.3 L568.9,105.0 L569.2,104.7 L569.6,104.4 L569.9,104.1 L570.3,103.9 L570.6,103.6 L571.0,103.3 L571.3,103.0 L571.7,102.8 L572.0,102.5 L572.4,102.2 L572.7,101.9 L573.1,101.7 L573.4,101.4 L573.8,101.1 L574.1,100.8 L574.5,100.5 L574.8,100.3 L575.2,100.0 L575.5,99.7 L575.9,99.4 L576.2,99.2 L576.6,98.9 L576.9,98.6 L577.3,98.3 L577.6,98.1 L578.0,97.8 L578.3,97.5 L578.7,97.2 L579.0,96.9 L579.4,96.7 L579.7,96.4 L580.1,96.1 L580.4,95.8 L580.8,95.6 L581.1,95.3 L581.5,95.0 L581.8,94.7 L582.2,94.4 L582.5,94.2 L582.9,93.9 L583.2,93.6 L583.6,93.3 L583.9,93.1 L584.3,92.8 L584.6,92.5 L585.0,92.2 L585.3,92.0 L585.7,91.7 L586.0,91.4 L586.4,91.1 L586.7,90.8 L587.1,90.6 L587.4,90.3 L587.8,90.0 L588.1,89.7 L588.5,89.5 L588.8,89.2 L589.2,88.9 L589.5,88.6 L589.9,88.3 L590.2,88.1 L590.6,87.8 L590.9,87.5 L591.3,87.2 L591.6,87.0 L592.0,86.7 L592.3,86.4 L592.7,86.1 L593.0,85.9 L593.4,85.6 L593.7,85.3 L594.1,85.0 L594.4,84.7 L594.8,84.5 L595.1,84.2 L595.5,83.9 L595.8,83.6 L596.2,83.4 L596.5,83.1 L596.9,82.8 L597.2,82.5 L597.6,82.3 L597.9,82.0 L598.3,81.7 L598.6,81.4 L599.0,81.1 L599.3,80.9 L599.7,80.6 L600.0,80.3 L600.4,80.0 L600.7,79.8 L601.1,79.5 L601.4,79.2 L601.8,78.9 L602.1,78.6 L602.5,78.4 L602.8,78.1 L603.2,77.8 L603.5,77.5 L603.9,77.3 L604.2,77.0 L604.6,76.7 L604.9,76.4 L605.3,76.2 L605.6,75.9 L606.0,75.6 L606.3,75.3 L606.7,75.0 L607.0,74.8 L607.4,74.5 L607.7,74.2 L608.1,73.9 L608.4,73.7 L608.8,73.4 L609.1,73.1 L609.5,72.8 L609.8,72.5 L610.2,72.3 L610.5,72.0 L610.9,71.7 L611.2,71.4 L611.6,71.2 L611.9,70.9 L612.3,70.6 L612.6,70.3 L613.0,70.1 L613.3,69.8 L613.7,69.5 L614.0,69.2 L614.4,68.9 L614.7,68.7 L615.1,68.4 L615.4,68.1 L615.8,67.8 L616.1,67.6 L616.5,67.3 L616.8,67.0 L617.2,66.7 L617.5,66.5 L617.9,66.2 L618.2,65.9 L618.6,65.6 L618.9,65.3 L619.3,65.1 L619.6,64.8 L620.0,64.5 L620.3,64.2 L620.7,64.0 L621.0,63.7 L621.4,63.4 L621.7,63.1 L622.1,62.8 L622.4,62.6 L622.8,62.3 L623.1,62.0 L623.5,61.7 L623.8,61.5 L624.2,61.2 L624.5,60.9 L624.9,60.6 L625.2,60.4 L625.6,60.1 L625.9,59.8 L626.3,59.5 L626.6,59.2 L627.0,59.0 L627.3,58.7 L627.7,58.4 L628.0,58.1 L628.4,57.9 L628.7,57.6 L629.1,57.3 L629.4,57.0 L629.8,56.7 L630.1,56.5 L630.5,56.2 L630.8,55.9 L631.2,55.6 L631.5,55.4 L631.9,55.1 L632.2,54.8 L632.6,54.5 L632.9,54.3 L633.3,54.0 L633.6,53.7 L634.0,53.4 L634.3,53.1 L634.7,52.9 L635.0,52.6 L635.4,52.3 L635.7,52.0 L636.1,51.8 L636.4,51.5 L636.8,51.2 L637.1,50.9 L637.5,50.6 L637.8,50.4 L638.2,50.1 L638.5,49.8 L641.0,214.5 L674.2,214.5" fill="none" stroke="#111" stroke-width="2.6" stroke-linecap="butt" stroke-linejoin="round" />
<line x1="406.8" y1="18.4" x2="447.3" y2="18.4" stroke="#111" stroke-width="3"/>
<text x="451.0" y="22.8" class="lg" textLength="31" lengthAdjust="spacingAndGlyphs">Exact</text>
<circle cx="426.4" cy="34.5" r="1.8" fill="none" stroke="#111" stroke-width="1.3"/>
<text x="451.0" y="38.900000000000006" class="lg" textLength="82.6" lengthAdjust="spacingAndGlyphs">1-Down Wind</text>
<circle cx="426.4" cy="50.6" r="3.3" fill="#111"/>
<text x="451.0" y="55.0" class="lg" textLength="54.8" lengthAdjust="spacingAndGlyphs">2-Central</text>
<path d="M424.5,64.8 L428.3,68.6 M424.5,68.6 L428.3,64.8" stroke="#111" stroke-width="1.5"/>
<text x="451.0" y="71.10000000000001" class="lg" textLength="82.4" lengthAdjust="spacingAndGlyphs">3-Ying's eq(8)</text>
<circle cx="426.4" cy="82.8" r="1.8" fill="#111"/>
<text x="451.0" y="87.2" class="lg" textLength="82.4" lengthAdjust="spacingAndGlyphs">4-Ying's eq(9)</text>
<line x1="406.8" y1="98.89999999999999" x2="447.3" y2="98.89999999999999" stroke="#111" stroke-width="3.4" stroke-dasharray="8,2.9" stroke-linecap="butt"/>
<text x="451.0" y="103.3" class="lg" textLength="47.2" lengthAdjust="spacingAndGlyphs">5-New1</text>
<line x1="407.8" y1="115.0" x2="441.3" y2="115.0" stroke="#111" stroke-width="2.6" stroke-dasharray="0.01,5.4" stroke-linecap="round"/>
<text x="451.0" y="119.4" class="lg" textLength="47.4" lengthAdjust="spacingAndGlyphs">6-New2</text>
<line x1="408.6" y1="131.10000000000002" x2="447.3" y2="131.10000000000002" stroke="#1a1a1a" stroke-width="3.8" stroke-dasharray="5,5.6" stroke-linecap="round"/>
<line x1="408.6" y1="131.10000000000002" x2="447.3" y2="131.10000000000002" stroke="#999" stroke-width="1.0" stroke-dasharray="5,5.6" stroke-linecap="round"/>
<text x="451.0" y="135.50000000000003" class="lg" textLength="47.4" lengthAdjust="spacingAndGlyphs">7-New3</text>
<path d="M36.2,297.4 L36.2,501.9 L323.2,501.9" fill="none" stroke="#1a1a1a" stroke-width="1.4"/>
<path d="M36.2,297.4 L323.2,297.4 L323.2,501.9" fill="none" stroke="#1a1a1a" stroke-width="1.4"/>
<line x1="31.200000000000003" y1="501.9" x2="36.2" y2="501.9" stroke="#1a1a1a" stroke-width="1.4"/>
<text x="28.9" y="506.0" text-anchor="end" class="tk">6</text>
<line x1="31.200000000000003" y1="450.8" x2="36.2" y2="450.8" stroke="#1a1a1a" stroke-width="1.4"/>
<text x="28.9" y="454.9" text-anchor="end" class="tk">7</text>
<line x1="31.200000000000003" y1="399.6" x2="36.2" y2="399.6" stroke="#1a1a1a" stroke-width="1.4"/>
<text x="28.9" y="403.8" text-anchor="end" class="tk">8</text>
<line x1="31.200000000000003" y1="348.5" x2="36.2" y2="348.5" stroke="#1a1a1a" stroke-width="1.4"/>
<text x="28.9" y="352.6" text-anchor="end" class="tk">9</text>
<line x1="31.200000000000003" y1="297.4" x2="36.2" y2="297.4" stroke="#1a1a1a" stroke-width="1.4"/>
<text x="28.9" y="301.5" text-anchor="end" class="tk">10</text>
<line x1="36.2" y1="501.9" x2="36.2" y2="506.9" stroke="#1a1a1a" stroke-width="1.4"/>
<text x="36.5" y="523.4" text-anchor="middle" class="tk">380</text>
<line x1="179.7" y1="501.9" x2="179.7" y2="506.9" stroke="#1a1a1a" stroke-width="1.4"/>
<text x="179.9" y="523.4" text-anchor="middle" class="tk">420</text>
<line x1="323.2" y1="501.9" x2="323.2" y2="506.9" stroke="#1a1a1a" stroke-width="1.4"/>
<text x="323.4" y="523.4" text-anchor="middle" class="tk">460</text>
<text x="159.7" y="544.9" class="ti" style="font-size:15px" font-style="italic">x</text>
<line x1="167.0" y1="547.9" x2="173.0" y2="534.6" stroke="#111" stroke-width="2.4"/>
<text x="173.1" y="544.9" class="ti" style="font-size:15px">m</text>
<text x="179.8" y="569.4" text-anchor="middle" class="cap">(c)</text>
<g transform="translate(12.4,412.6) rotate(-90)">
<text x="-0.6" y="0" class="ti" style="font-size:14px" font-style="italic">h</text>
<line x1="8.4" y1="2.6" x2="13.6" y2="-10.0" stroke="#111" stroke-width="2.3"/>
<text x="14.3" y="0" class="ti" style="font-size:14px">m</text>
</g>
<path d="M36.2,297.4 L38.0,297.4 L39.8,297.4 L41.6,297.4 L43.4,297.4 L45.2,297.4 L47.0,297.4 L48.8,297.4 L50.6,297.4 L52.3,297.4 L54.1,297.4 L55.9,297.4 L57.7,297.4 L59.5,297.4 L61.3,297.4 L63.1,297.4 L64.9,297.4 L66.7,297.4 L68.5,297.4 L70.3,297.4 L72.1,297.4 L73.9,297.5 L75.7,297.5 L77.5,297.6 L79.2,297.8 L81.0,298.0 L82.8,298.2 L84.6,298.5 L86.4,298.9 L88.2,299.4 L90.0,299.9 L91.8,300.5 L93.6,301.1 L95.4,301.8 L97.2,302.5 L99.0,303.3 L100.8,304.1 L102.6,304.9 L104.4,305.8 L106.2,306.9 L108.0,308.1 L109.7,309.3 L111.5,310.5 L113.3,311.8 L115.1,312.9 L116.9,314.0 L118.7,315.2 L120.5,316.3 L122.3,317.5 L124.1,318.7 L125.9,319.9 L127.7,321.1 L129.5,322.4 L131.3,323.7 L133.1,325.1 L134.9,326.4 L136.7,327.9 L138.4,329.3 L140.2,330.9 L142.0,332.5 L143.8,334.1 L145.6,335.7 L147.4,337.4 L149.2,339.1 L151.0,340.9 L152.8,342.6 L154.6,344.4 L156.4,346.2 L158.2,348.0 L160.0,349.8 L161.8,351.7 L163.6,353.5 L165.4,355.2 L167.1,356.8 L168.9,358.3 L170.7,359.8 L172.5,361.3 L174.3,362.8 L176.1,364.3 L177.9,365.9 L179.7,367.5 L181.5,369.3 L183.3,371.0 L185.1,372.7 L186.9,373.6 L188.7,375.2 L190.5,376.8 L192.3,378.4 L194.1,380.0 L195.8,381.5 L197.6,383.1 L199.4,384.7 L201.2,386.2 L203.0,387.8 L204.8,389.4 L206.6,390.9 L208.4,392.5 L210.2,394.0 L212.0,395.6 L213.8,397.1 L215.6,398.7 L217.4,400.2 L219.2,401.7 L221.0,403.3 L222.8,404.8 L224.5,406.3 L226.3,407.8 L228.1,409.4 L229.9,410.9 L231.7,412.4 L233.5,413.9 L235.3,415.4 L237.1,416.9 L238.9,418.4 L240.7,419.9 L242.5,421.4 L244.3,422.9 L246.1,424.4 L247.9,425.9 L249.7,427.4 L251.4,428.9 L253.2,430.4 L255.0,431.8 L256.8,433.3 L258.6,434.8 L260.4,436.3 L262.2,437.7 L264.0,439.2 L265.8,440.7 L267.6,442.1 L269.4,443.6 L271.2,445.0 L273.0,446.5 L274.8,447.9 L276.6,449.4 L278.4,450.8 L280.1,452.2 L281.9,453.7 L283.7,455.1 L285.5,456.5 L287.3,458.0 L289.1,459.4 L290.9,460.8 L292.7,462.2 L294.5,463.6 L296.3,465.1 L298.1,466.5 L299.9,467.9 L301.7,469.3 L303.5,470.7 L305.3,472.1 L307.1,473.5 L308.8,474.9 L310.6,476.2 L312.4,477.6 L314.2,479.0 L316.0,480.4 L317.8,481.8 L319.6,483.1 L321.4,484.5 L323.2,485.9" fill="none" stroke="#111" stroke-width="3.4" stroke-linecap="butt" stroke-linejoin="round" stroke-dasharray="5,3" />
<path d="M36.2,298.4 L38.0,298.4 L39.8,298.4 L41.6,298.4 L43.4,298.4 L45.2,298.4 L47.0,298.4 L48.8,298.4 L50.6,298.4 L52.3,298.4 L54.1,298.4 L55.9,298.4 L57.7,298.4 L59.5,298.4 L61.3,298.4 L63.1,298.4 L64.9,298.4 L66.7,298.4 L68.5,298.4 L70.3,298.4 L72.1,298.4 L73.9,298.5 L75.7,298.6 L77.5,298.7 L79.2,298.8 L81.0,299.0 L82.8,299.2 L84.6,299.6 L86.4,300.0 L88.2,300.4 L90.0,301.0 L91.8,301.5 L93.6,302.1 L95.4,302.8 L97.2,303.5 L99.0,304.3 L100.8,305.1 L102.6,305.9 L104.4,306.8 L106.2,307.9 L108.0,309.1 L109.7,310.3 L111.5,311.6 L113.3,312.8 L115.1,313.9 L116.9,315.1 L118.7,316.2 L120.5,317.3 L122.3,318.5 L124.1,319.7 L125.9,320.9 L127.7,322.2 L129.5,323.4 L131.3,324.7 L133.1,326.1 L134.9,327.5 L136.7,328.9 L138.4,330.4 L140.2,331.9 L142.0,333.5 L143.8,335.1 L145.6,336.8 L147.4,338.4 L149.2,340.2 L151.0,341.9 L152.8,343.7 L154.6,345.4 L156.4,347.2 L158.2,349.0 L160.0,350.9 L161.8,352.7 L163.6,354.5 L165.4,356.2 L167.1,357.8 L168.9,359.4 L170.7,360.9 L172.5,362.4 L174.3,363.8 L176.1,365.4 L177.9,366.9 L179.7,368.6 L181.5,370.3 L183.3,372.0 L185.1,373.7 L186.9,374.7 L188.7,376.2 L190.5,377.8 L192.3,379.4 L194.1,381.0 L195.8,382.6 L197.6,384.1 L199.4,385.7 L201.2,387.3 L203.0,388.8 L204.8,390.4 L206.6,391.9 L208.4,393.5 L210.2,395.0 L212.0,396.6 L213.8,398.1 L215.6,399.7 L217.4,401.2 L219.2,402.8 L221.0,404.3 L222.8,405.8 L224.5,407.3 L226.3,408.9 L228.1,410.4 L229.9,411.9 L231.7,413.4 L233.5,414.9 L235.3,416.4 L237.1,418.0 L238.9,419.5 L240.7,421.0 L242.5,422.5 L244.3,424.0 L246.1,425.4 L247.9,426.9 L249.7,428.4 L251.4,429.9 L253.2,431.4 L255.0,432.9 L256.8,434.3 L258.6,435.8 L260.4,437.3 L262.2,438.8 L264.0,440.2 L265.8,441.7 L267.6,443.1 L269.4,444.6 L271.2,446.0 L273.0,447.5 L274.8,448.9 L276.6,450.4 L278.4,451.8 L280.1,453.3 L281.9,454.7 L283.7,456.1 L285.5,457.6 L287.3,459.0 L289.1,460.4 L290.9,461.8 L292.7,463.3 L294.5,464.7 L296.3,466.1 L298.1,467.5 L299.9,468.9 L301.7,470.3 L303.5,471.7 L305.3,473.1 L307.1,474.5 L308.8,475.9 L310.6,477.3 L312.4,478.7 L314.2,480.0 L316.0,481.4 L317.8,482.8 L319.6,484.2 L321.4,485.5 L323.2,486.9" fill="none" stroke="#111" stroke-width="1.8" stroke-linecap="round" stroke-linejoin="round" stroke-dasharray="0.01,3.5" />
<path d="M36.2,297.4 L38.0,297.4 L39.8,297.4 L41.6,297.4 L43.4,297.4 L45.2,297.5 L47.0,297.5 L48.8,297.5 L50.6,297.5 L52.3,297.5 L54.1,297.5 L55.9,297.5 L57.7,297.5 L59.5,297.5 L61.3,297.5 L63.1,297.5 L64.9,297.5 L66.7,297.5 L68.5,297.5 L70.3,297.5 L72.1,297.5 L73.9,297.5 L75.7,297.6 L77.5,297.6 L79.2,297.6 L81.0,297.7 L82.8,297.7 L84.6,297.7 L86.4,297.8 L88.2,297.8 L90.0,297.9 L91.8,298.0 L93.6,298.1 L95.4,298.3 L97.2,298.6 L99.0,298.8 L100.8,299.2 L102.6,299.5 L104.4,300.0 L106.2,300.5 L108.0,301.1 L109.7,301.7 L111.5,302.4 L113.3,303.2 L115.1,304.0 L116.9,304.7 L118.7,305.4 L120.5,306.2 L122.3,307.0 L124.1,307.8 L125.9,308.7 L127.7,309.7 L129.5,310.8 L131.3,312.1 L133.1,313.5 L134.9,314.9 L136.7,316.3 L138.4,317.7 L140.2,319.1 L142.0,320.5 L143.8,321.9 L145.6,319.7 L147.4,321.4 L149.2,323.0 L151.0,324.7 L152.8,326.4 L154.6,328.1 L156.4,329.7 L158.2,331.4 L160.0,333.0 L161.8,334.7 L163.6,337.0 L165.4,339.3 L167.1,341.5 L168.9,343.7 L170.7,345.9 L172.5,348.0 L174.3,350.1 L176.1,352.2 L177.9,354.2 L179.7,356.2 L181.5,358.2 L183.3,360.2 L185.1,362.2 L186.9,364.1 L188.7,366.0 L190.5,367.9 L192.3,369.8 L194.1,371.6 L195.8,373.5 L197.6,375.3 L199.4,377.1 L201.2,378.9 L203.0,380.7 L204.8,382.5 L206.6,384.2 L208.4,386.0 L210.2,387.7 L212.0,389.4 L213.8,391.1 L215.6,392.8 L217.4,394.5 L219.2,396.2 L221.0,397.8 L222.8,399.5 L224.5,401.1 L226.3,402.8 L228.1,404.4 L229.9,406.0 L231.7,407.6 L233.5,409.2 L235.3,410.8 L237.1,412.4 L238.9,414.0 L240.7,415.6 L242.5,417.2 L244.3,418.7 L246.1,420.3 L247.9,421.8 L249.7,423.4 L251.4,424.9 L253.2,426.5 L255.0,428.0 L256.8,429.5 L258.6,431.1 L260.4,432.6 L262.2,434.1 L264.0,435.6 L265.8,437.1 L267.6,438.6 L269.4,440.1 L271.2,441.6 L273.0,443.0 L274.8,444.5 L276.6,446.0 L278.4,447.5 L280.1,448.9 L281.9,450.4 L283.7,451.9 L285.5,453.3 L287.3,454.8 L289.1,456.2 L290.9,457.7 L292.7,459.1 L294.5,460.5 L296.3,462.0 L298.1,463.4 L299.9,464.8 L301.7,466.2 L303.5,467.7 L305.3,469.1 L307.1,470.5 L308.8,471.9 L310.6,473.3 L312.4,474.7 L314.2,476.1 L316.0,477.5 L317.8,478.9 L319.6,480.3 L321.4,481.6 L323.2,483.0" fill="none" stroke="#222" stroke-width="3.4" stroke-linecap="round" stroke-linejoin="round" stroke-dasharray="4,4.2" />
<path d="M36.2,297.4 L38.0,297.4 L39.8,297.4 L41.6,297.4 L43.4,297.4 L45.2,297.5 L47.0,297.5 L48.8,297.5 L50.6,297.5 L52.3,297.5 L54.1,297.5 L55.9,297.5 L57.7,297.5 L59.5,297.5 L61.3,297.5 L63.1,297.5 L64.9,297.5 L66.7,297.5 L68.5,297.5 L70.3,297.5 L72.1,297.5 L73.9,297.5 L75.7,297.6 L77.5,297.6 L79.2,297.6 L81.0,297.7 L82.8,297.7 L84.6,297.7 L86.4,297.8 L88.2,297.8 L90.0,297.9 L91.8,298.0 L93.6,298.1 L95.4,298.3 L97.2,298.6 L99.0,298.8 L100.8,299.2 L102.6,299.5 L104.4,300.0 L106.2,300.5 L108.0,301.1 L109.7,301.7 L111.5,302.4 L113.3,303.2 L115.1,304.0 L116.9,304.7 L118.7,305.4 L120.5,306.2 L122.3,307.0 L124.1,307.8 L125.9,308.7 L127.7,309.7 L129.5,310.8 L131.3,312.1 L133.1,313.5 L134.9,314.9 L136.7,316.3 L138.4,317.7 L140.2,319.1 L142.0,320.5 L143.8,321.9 L145.6,319.7 L147.4,321.4 L149.2,323.0 L151.0,324.7 L152.8,326.4 L154.6,328.1 L156.4,329.7 L158.2,331.4 L160.0,333.0 L161.8,334.7 L163.6,337.0 L165.4,339.3 L167.1,341.5 L168.9,343.7 L170.7,345.9 L172.5,348.0 L174.3,350.1 L176.1,352.2 L177.9,354.2 L179.7,356.2 L181.5,358.2 L183.3,360.2 L185.1,362.2 L186.9,364.1 L188.7,366.0 L190.5,367.9 L192.3,369.8 L194.1,371.6 L195.8,373.5 L197.6,375.3 L199.4,377.1 L201.2,378.9 L203.0,380.7 L204.8,382.5 L206.6,384.2 L208.4,386.0 L210.2,387.7 L212.0,389.4 L213.8,391.1 L215.6,392.8 L217.4,394.5 L219.2,396.2 L221.0,397.8 L222.8,399.5 L224.5,401.1 L226.3,402.8 L228.1,404.4 L229.9,406.0 L231.7,407.6 L233.5,409.2 L235.3,410.8 L237.1,412.4 L238.9,414.0 L240.7,415.6 L242.5,417.2 L244.3,418.7 L246.1,420.3 L247.9,421.8 L249.7,423.4 L251.4,424.9 L253.2,426.5 L255.0,428.0 L256.8,429.5 L258.6,431.1 L260.4,432.6 L262.2,434.1 L264.0,435.6 L265.8,437.1 L267.6,438.6 L269.4,440.1 L271.2,441.6 L273.0,443.0 L274.8,444.5 L276.6,446.0 L278.4,447.5 L280.1,448.9 L281.9,450.4 L283.7,451.9 L285.5,453.3 L287.3,454.8 L289.1,456.2 L290.9,457.7 L292.7,459.1 L294.5,460.5 L296.3,462.0 L298.1,463.4 L299.9,464.8 L301.7,466.2 L303.5,467.7 L305.3,469.1 L307.1,470.5 L308.8,471.9 L310.6,473.3 L312.4,474.7 L314.2,476.1 L316.0,477.5 L317.8,478.9 L319.6,480.3 L321.4,481.6 L323.2,483.0" fill="none" stroke="#aaa" stroke-width="1.0" stroke-linecap="round" stroke-linejoin="round" stroke-dasharray="4,4.2" />
<path d="M38.6,297.0 L42.4,300.8 M38.6,300.8 L42.4,297.0" stroke="#111" stroke-width="1.5"/>
<path d="M47.6,297.0 L51.4,300.8 M47.6,300.8 L51.4,297.0" stroke="#111" stroke-width="1.5"/>
<path d="M56.5,297.0 L60.3,300.8 M56.5,300.8 L60.3,297.0" stroke="#111" stroke-width="1.5"/>
<path d="M65.5,297.0 L69.3,300.8 M65.5,300.8 L69.3,297.0" stroke="#111" stroke-width="1.5"/>
<path d="M74.5,297.2 L78.3,301.0 M74.5,301.0 L78.3,297.2" stroke="#111" stroke-width="1.5"/>
<path d="M83.4,298.3 L87.2,302.1 M83.4,302.1 L87.2,298.3" stroke="#111" stroke-width="1.5"/>
<path d="M92.4,301.0 L96.2,304.8 M92.4,304.8 L96.2,301.0" stroke="#111" stroke-width="1.5"/>
<path d="M101.4,304.9 L105.2,308.7 M101.4,308.7 L105.2,304.9" stroke="#111" stroke-width="1.5"/>
<path d="M110.4,310.7 L114.2,314.5 M110.4,314.5 L114.2,310.7" stroke="#111" stroke-width="1.5"/>
<path d="M119.3,316.4 L123.1,320.2 M119.3,320.2 L123.1,316.4" stroke="#111" stroke-width="1.5"/>
<path d="M128.3,322.6 L132.1,326.4 M128.3,326.4 L132.1,322.6" stroke="#111" stroke-width="1.5"/>
<path d="M137.3,329.6 L141.1,333.4 M137.3,333.4 L141.1,329.6" stroke="#111" stroke-width="1.5"/>
<path d="M146.2,337.7 L150.0,341.5 M146.2,341.5 L150.0,337.7" stroke="#111" stroke-width="1.5"/>
<path d="M155.2,346.5 L159.0,350.3 M155.2,350.3 L159.0,346.5" stroke="#111" stroke-width="1.5"/>
<path d="M164.2,355.5 L168.0,359.3 M164.2,359.3 L168.0,355.5" stroke="#111" stroke-width="1.5"/>
<path d="M173.1,363.1 L176.9,366.9 M173.1,366.9 L176.9,363.1" stroke="#111" stroke-width="1.5"/>
<path d="M182.1,371.3 L185.9,375.1 M182.1,375.1 L185.9,371.3" stroke="#111" stroke-width="1.5"/>
<path d="M191.1,378.6 L194.9,382.4 M191.1,382.4 L194.9,378.6" stroke="#111" stroke-width="1.5"/>
<path d="M200.0,386.5 L203.8,390.3 M200.0,390.3 L203.8,386.5" stroke="#111" stroke-width="1.5"/>
<path d="M209.0,394.3 L212.8,398.1 M209.0,398.1 L212.8,394.3" stroke="#111" stroke-width="1.5"/>
<path d="M218.0,402.0 L221.8,405.8 M218.0,405.8 L221.8,402.0" stroke="#111" stroke-width="1.5"/>
<path d="M226.9,409.6 L230.7,413.4 M226.9,413.4 L230.7,409.6" stroke="#111" stroke-width="1.5"/>
<path d="M235.9,417.2 L239.7,421.0 M235.9,421.0 L239.7,417.2" stroke="#111" stroke-width="1.5"/>
<path d="M244.9,424.7 L248.7,428.5 M244.9,428.5 L248.7,424.7" stroke="#111" stroke-width="1.5"/>
<path d="M253.9,432.1 L257.7,435.9 M253.9,435.9 L257.7,432.1" stroke="#111" stroke-width="1.5"/>
<path d="M262.8,439.4 L266.6,443.2 M262.8,443.2 L266.6,439.4" stroke="#111" stroke-width="1.5"/>
<path d="M271.8,446.7 L275.6,450.5 M271.8,450.5 L275.6,446.7" stroke="#111" stroke-width="1.5"/>
<path d="M280.8,453.9 L284.6,457.7 M280.8,457.7 L284.6,453.9" stroke="#111" stroke-width="1.5"/>
<path d="M289.7,461.0 L293.5,464.8 M289.7,464.8 L293.5,461.0" stroke="#111" stroke-width="1.5"/>
<path d="M298.7,468.1 L302.5,471.9 M298.7,471.9 L302.5,468.1" stroke="#111" stroke-width="1.5"/>
<path d="M307.7,475.0 L311.5,478.8 M307.7,478.8 L311.5,475.0" stroke="#111" stroke-width="1.5"/>
<path d="M316.6,482.0 L320.4,485.8 M316.6,485.8 L320.4,482.0" stroke="#111" stroke-width="1.5"/>
<circle cx="44.8" cy="297.4" r="1.8" fill="#111"/>
<circle cx="53.8" cy="297.4" r="1.8" fill="#111"/>
<circle cx="62.7" cy="297.4" r="1.8" fill="#111"/>
<circle cx="71.7" cy="297.4" r="1.8" fill="#111"/>
<circle cx="80.7" cy="297.9" r="1.8" fill="#111"/>
<circle cx="89.7" cy="299.8" r="1.8" fill="#111"/>
<circle cx="98.6" cy="303.1" r="1.8" fill="#111"/>
<circle cx="107.6" cy="307.8" r="1.8" fill="#111"/>
<circle cx="116.6" cy="313.8" r="1.8" fill="#111"/>
<circle cx="125.5" cy="319.6" r="1.8" fill="#111"/>
<circle cx="134.5" cy="326.2" r="1.8" fill="#111"/>
<circle cx="143.5" cy="333.8" r="1.8" fill="#111"/>
<circle cx="152.4" cy="342.3" r="1.8" fill="#111"/>
<circle cx="161.4" cy="351.3" r="1.8" fill="#111"/>
<circle cx="170.4" cy="359.5" r="1.8" fill="#111"/>
<circle cx="179.3" cy="367.2" r="1.8" fill="#111"/>
<circle cx="188.3" cy="374.9" r="1.8" fill="#111"/>
<circle cx="197.3" cy="382.8" r="1.8" fill="#111"/>
<circle cx="206.2" cy="390.6" r="1.8" fill="#111"/>
<circle cx="215.2" cy="398.3" r="1.8" fill="#111"/>
<circle cx="224.2" cy="406.0" r="1.8" fill="#111"/>
<circle cx="233.2" cy="413.6" r="1.8" fill="#111"/>
<circle cx="242.1" cy="421.1" r="1.8" fill="#111"/>
<circle cx="251.1" cy="428.6" r="1.8" fill="#111"/>
<circle cx="260.1" cy="436.0" r="1.8" fill="#111"/>
<circle cx="269.0" cy="443.3" r="1.8" fill="#111"/>
<circle cx="278.0" cy="450.5" r="1.8" fill="#111"/>
<circle cx="287.0" cy="457.7" r="1.8" fill="#111"/>
<circle cx="295.9" cy="464.8" r="1.8" fill="#111"/>
<circle cx="304.9" cy="471.8" r="1.8" fill="#111"/>
<circle cx="313.9" cy="478.7" r="1.8" fill="#111"/>
<circle cx="322.8" cy="485.6" r="1.8" fill="#111"/>
<circle cx="38.4" cy="297.4" r="1.6" fill="none" stroke="#1a1a1a" stroke-width="1"/>
<circle cx="47.3" cy="297.4" r="1.6" fill="none" stroke="#1a1a1a" stroke-width="1"/>
<circle cx="56.3" cy="297.4" r="1.6" fill="none" stroke="#1a1a1a" stroke-width="1"/>
<circle cx="65.3" cy="297.4" r="1.6" fill="none" stroke="#1a1a1a" stroke-width="1"/>
<circle cx="74.2" cy="297.5" r="1.6" fill="none" stroke="#1a1a1a" stroke-width="1"/>
<circle cx="83.2" cy="298.3" r="1.6" fill="none" stroke="#1a1a1a" stroke-width="1"/>
<circle cx="92.2" cy="300.6" r="1.6" fill="none" stroke="#1a1a1a" stroke-width="1"/>
<circle cx="101.1" cy="304.2" r="1.6" fill="none" stroke="#1a1a1a" stroke-width="1"/>
<circle cx="110.1" cy="309.5" r="1.6" fill="none" stroke="#1a1a1a" stroke-width="1"/>
<circle cx="119.1" cy="315.4" r="1.6" fill="none" stroke="#1a1a1a" stroke-width="1"/>
<circle cx="128.0" cy="321.4" r="1.6" fill="none" stroke="#1a1a1a" stroke-width="1"/>
<circle cx="137.0" cy="328.1" r="1.6" fill="none" stroke="#1a1a1a" stroke-width="1"/>
<circle cx="146.0" cy="336.1" r="1.6" fill="none" stroke="#1a1a1a" stroke-width="1"/>
<circle cx="154.9" cy="344.8" r="1.6" fill="none" stroke="#1a1a1a" stroke-width="1"/>
<circle cx="163.9" cy="353.8" r="1.6" fill="none" stroke="#1a1a1a" stroke-width="1"/>
<circle cx="172.9" cy="361.6" r="1.6" fill="none" stroke="#1a1a1a" stroke-width="1"/>
<circle cx="181.9" cy="369.6" r="1.6" fill="none" stroke="#1a1a1a" stroke-width="1"/>
<circle cx="190.8" cy="377.1" r="1.6" fill="none" stroke="#1a1a1a" stroke-width="1"/>
<circle cx="199.8" cy="385.0" r="1.6" fill="none" stroke="#1a1a1a" stroke-width="1"/>
<circle cx="208.8" cy="392.8" r="1.6" fill="none" stroke="#1a1a1a" stroke-width="1"/>
<circle cx="217.7" cy="400.5" r="1.6" fill="none" stroke="#1a1a1a" stroke-width="1"/>
<circle cx="226.7" cy="408.1" r="1.6" fill="none" stroke="#1a1a1a" stroke-width="1"/>
<circle cx="235.7" cy="415.7" r="1.6" fill="none" stroke="#1a1a1a" stroke-width="1"/>
<circle cx="244.6" cy="423.2" r="1.6" fill="none" stroke="#1a1a1a" stroke-width="1"/>
<circle cx="253.6" cy="430.7" r="1.6" fill="none" stroke="#1a1a1a" stroke-width="1"/>
<circle cx="262.6" cy="438.0" r="1.6" fill="none" stroke="#1a1a1a" stroke-width="1"/>
<circle cx="271.5" cy="445.3" r="1.6" fill="none" stroke="#1a1a1a" stroke-width="1"/>
<circle cx="280.5" cy="452.5" r="1.6" fill="none" stroke="#1a1a1a" stroke-width="1"/>
<circle cx="289.5" cy="459.7" r="1.6" fill="none" stroke="#1a1a1a" stroke-width="1"/>
<circle cx="298.4" cy="466.7" r="1.6" fill="none" stroke="#1a1a1a" stroke-width="1"/>
<circle cx="307.4" cy="473.7" r="1.6" fill="none" stroke="#1a1a1a" stroke-width="1"/>
<circle cx="316.4" cy="480.7" r="1.6" fill="none" stroke="#1a1a1a" stroke-width="1"/>
<circle cx="36.2" cy="297.4" r="3.0" fill="#111"/>
<circle cx="54.1" cy="297.4" r="3.0" fill="#111"/>
<circle cx="72.1" cy="297.4" r="3.0" fill="#111"/>
<circle cx="90.0" cy="297.4" r="3.0" fill="#111"/>
<circle cx="108.0" cy="297.4" r="3.0" fill="#111"/>
<circle cx="125.9" cy="297.4" r="3.0" fill="#111"/>
<circle cx="143.8" cy="297.4" r="3.0" fill="#111"/>
<circle cx="161.8" cy="301.0" r="3.0" fill="#111"/>
<circle cx="179.7" cy="309.2" r="3.0" fill="#111"/>
<circle cx="197.6" cy="333.2" r="3.0" fill="#111"/>
<circle cx="215.6" cy="375.6" r="3.0" fill="#111"/>
<circle cx="233.5" cy="414.0" r="3.0" fill="#111"/>
<circle cx="251.4" cy="442.6" r="3.0" fill="#111"/>
<circle cx="269.4" cy="457.4" r="3.0" fill="#111"/>
<circle cx="287.3" cy="469.2" r="3.0" fill="#111"/>
<circle cx="305.3" cy="481.4" r="3.0" fill="#111"/>
<circle cx="323.2" cy="492.7" r="3.0" fill="#111"/>
<path d="M36.2,297.4 L38.0,297.4 L39.8,297.4 L41.6,297.4 L43.4,297.4 L45.2,297.4 L47.0,297.4 L48.8,297.4 L50.6,297.4 L52.3,297.4 L54.1,297.4 L55.9,297.4 L57.7,297.4 L59.5,297.4 L61.3,297.4 L63.1,297.4 L64.9,297.4 L66.7,297.4 L68.5,297.4 L70.3,297.4 L72.1,297.4 L73.9,297.4 L75.7,297.4 L77.5,297.4 L79.2,297.4 L81.0,297.4 L82.8,297.4 L84.6,297.4 L86.4,297.4 L88.2,297.4 L90.0,297.4 L91.8,297.4 L93.6,297.4 L95.4,297.4 L97.2,297.4 L99.0,297.4 L100.8,297.4 L102.6,297.4 L104.4,297.4 L106.2,297.4 L108.0,297.4 L109.7,297.4 L111.5,297.4 L113.3,297.4 L115.1,297.4 L116.9,297.4 L118.7,297.4 L120.5,297.4 L122.3,297.6 L124.1,299.3 L125.9,301.0 L127.7,302.7 L129.5,304.4 L131.3,306.1 L133.1,307.8 L134.9,309.5 L136.7,311.2 L138.4,312.9 L140.2,314.6 L142.0,316.3 L143.8,318.0 L145.6,319.7 L147.4,321.4 L149.2,323.0 L151.0,324.7 L152.8,326.4 L154.6,328.1 L156.4,329.7 L158.2,331.4 L160.0,333.0 L161.8,334.7 L163.6,336.4 L165.4,338.0 L167.1,339.7 L168.9,341.3 L170.7,342.9 L172.5,344.6 L174.3,346.2 L176.1,347.9 L177.9,349.5 L179.7,351.1 L181.5,352.8 L183.3,354.4 L185.1,356.0 L186.9,357.6 L188.7,359.2 L190.5,360.8 L192.3,362.4 L194.1,364.1 L195.8,365.7 L197.6,367.3 L199.4,368.9 L201.2,370.4 L203.0,372.0 L204.8,373.6 L206.6,375.2 L208.4,376.8 L210.2,378.4 L212.0,380.0 L213.8,381.5 L215.6,383.1 L217.4,384.7 L219.2,386.2 L221.0,387.8 L222.8,389.4 L224.5,390.9 L226.3,392.5 L228.1,394.0 L229.9,395.6 L231.7,397.1 L233.5,398.7 L235.3,400.2 L237.1,401.7 L238.9,403.3 L240.7,404.8 L242.5,406.3 L244.3,407.8 L246.1,409.4 L247.9,410.9 L249.7,412.4 L251.4,413.9 L253.2,415.4 L255.0,416.9 L256.8,418.4 L258.6,419.9 L260.4,421.4 L262.2,422.9 L264.0,424.4 L265.8,425.9 L267.6,427.4 L269.4,428.9 L271.2,430.4 L273.0,431.8 L274.8,433.3 L276.6,434.8 L278.4,436.3 L280.1,437.7 L281.9,439.2 L283.7,440.7 L285.5,442.1 L287.3,443.6 L289.1,445.0 L290.9,446.5 L292.7,447.9 L294.5,449.4 L296.3,450.8 L298.1,452.2 L299.9,453.7 L301.7,455.1 L303.5,456.5 L305.3,458.0 L307.1,459.4 L308.8,460.8 L310.6,462.2 L312.4,463.6 L314.2,465.1 L316.0,466.5 L317.8,467.9 L319.6,469.3 L321.4,470.7 L323.2,472.1" fill="none" stroke="#111" stroke-width="2.6" stroke-linecap="butt" stroke-linejoin="round" />
<line x1="50.2" y1="379.6" x2="90.7" y2="379.6" stroke="#111" stroke-width="3"/>
<text x="93.9" y="384.0" class="lg" textLength="31" lengthAdjust="spacingAndGlyphs">Exact</text>
<circle cx="69.8" cy="395.9" r="1.8" fill="none" stroke="#111" stroke-width="1.3"/>
<text x="93.9" y="400.25" class="lg" textLength="82.6" lengthAdjust="spacingAndGlyphs">1-Down Wind</text>
<circle cx="69.8" cy="412.1" r="3.3" fill="#111"/>
<text x="93.9" y="416.5" class="lg" textLength="54.8" lengthAdjust="spacingAndGlyphs">2-Central</text>
<path d="M67.9,426.5 L71.7,430.2 M67.9,430.2 L71.7,426.5" stroke="#111" stroke-width="1.5"/>
<text x="93.9" y="432.75" class="lg" textLength="82.4" lengthAdjust="spacingAndGlyphs">3-Ying's eq(8)</text>
<circle cx="69.8" cy="444.6" r="1.8" fill="#111"/>
<text x="93.9" y="449.0" class="lg" textLength="82.4" lengthAdjust="spacingAndGlyphs">4-Ying's eq(9)</text>
<line x1="50.2" y1="460.85" x2="90.7" y2="460.85" stroke="#111" stroke-width="3.4" stroke-dasharray="8,2.9" stroke-linecap="butt"/>
<text x="93.9" y="465.25" class="lg" textLength="47.2" lengthAdjust="spacingAndGlyphs">5-New1</text>
<line x1="51.2" y1="477.1" x2="84.7" y2="477.1" stroke="#111" stroke-width="2.6" stroke-dasharray="0.01,5.4" stroke-linecap="round"/>
<text x="93.9" y="481.5" class="lg" textLength="47.4" lengthAdjust="spacingAndGlyphs">6-New2</text>
<line x1="52.0" y1="493.35" x2="90.7" y2="493.35" stroke="#1a1a1a" stroke-width="3.8" stroke-dasharray="5,5.6" stroke-linecap="round"/>
<line x1="52.0" y1="493.35" x2="90.7" y2="493.35" stroke="#999" stroke-width="1.0" stroke-dasharray="5,5.6" stroke-linecap="round"/>
<text x="93.9" y="497.75" class="lg" textLength="47.4" lengthAdjust="spacingAndGlyphs">7-New3</text>
<path d="M387.2,297.4 L387.2,501.7 L674.4,501.7" fill="none" stroke="#1a1a1a" stroke-width="1.4"/>
<path d="M387.2,297.4 L674.4,297.4 L674.4,501.7" fill="none" stroke="#1a1a1a" stroke-width="1.4"/>
<line x1="382.2" y1="501.7" x2="387.2" y2="501.7" stroke="#1a1a1a" stroke-width="1.4"/>
<text x="379.3" y="505.8" text-anchor="end" class="tk">0</text>
<line x1="382.2" y1="450.6" x2="387.2" y2="450.6" stroke="#1a1a1a" stroke-width="1.4"/>
<text x="379.3" y="454.7" text-anchor="end" class="tk">0.5</text>
<line x1="382.2" y1="399.5" x2="387.2" y2="399.5" stroke="#1a1a1a" stroke-width="1.4"/>
<text x="379.3" y="403.6" text-anchor="end" class="tk">1</text>
<line x1="382.2" y1="348.5" x2="387.2" y2="348.5" stroke="#1a1a1a" stroke-width="1.4"/>
<text x="379.3" y="352.6" text-anchor="end" class="tk">1.5</text>
<line x1="382.2" y1="297.4" x2="387.2" y2="297.4" stroke="#1a1a1a" stroke-width="1.4"/>
<text x="379.3" y="301.5" text-anchor="end" class="tk">2</text>
<line x1="387.2" y1="501.7" x2="387.2" y2="506.7" stroke="#1a1a1a" stroke-width="1.4"/>
<text x="387.4" y="523.4" text-anchor="middle" class="tk">600</text>
<line x1="530.8" y1="501.7" x2="530.8" y2="506.7" stroke="#1a1a1a" stroke-width="1.4"/>
<text x="531.0" y="523.4" text-anchor="middle" class="tk">650</text>
<line x1="674.4" y1="501.7" x2="674.4" y2="506.7" stroke="#1a1a1a" stroke-width="1.4"/>
<text x="674.6" y="523.4" text-anchor="middle" class="tk">700</text>
<text x="508.6" y="544.6" class="ti" style="font-size:15px" font-style="italic">x</text>
<line x1="515.9" y1="547.6" x2="521.9" y2="534.3" stroke="#111" stroke-width="2.4"/>
<text x="522.0" y="544.6" class="ti" style="font-size:15px">m</text>
<text x="529.8" y="568.9" text-anchor="middle" class="cap">(d)</text>
<g transform="translate(362.4,414.4) rotate(-90)">
<text x="-0.6" y="0" class="ti" style="font-size:14px" font-style="italic">h</text>
<line x1="8.4" y1="2.6" x2="13.6" y2="-10.0" stroke="#111" stroke-width="2.3"/>
<text x="14.3" y="0" class="ti" style="font-size:14px">m</text>
</g>
<path d="M387.2,351.5 L388.6,352.8 L390.1,354.0 L391.5,355.2 L392.9,356.4 L394.4,357.7 L395.8,358.9 L397.3,360.1 L398.7,361.3 L400.1,362.6 L401.6,363.8 L403.0,365.0 L404.4,366.2 L405.9,367.4 L407.3,368.7 L408.7,369.9 L410.2,371.1 L411.6,372.3 L413.0,373.5 L414.5,374.8 L415.9,376.1 L417.4,377.3 L418.8,378.6 L420.2,379.9 L421.7,381.2 L423.1,382.6 L424.5,383.9 L426.0,385.2 L427.4,386.6 L428.8,388.0 L430.3,389.3 L431.7,390.7 L433.2,392.1 L434.6,393.6 L436.0,395.0 L437.5,396.4 L438.9,397.9 L440.3,399.3 L441.8,400.8 L443.2,402.2 L444.6,403.6 L446.1,405.1 L447.5,406.5 L448.9,407.9 L450.4,409.4 L451.8,410.8 L453.3,412.2 L454.7,413.6 L456.1,415.1 L457.6,416.5 L459.0,417.9 L460.4,419.4 L461.9,420.8 L463.3,422.2 L464.7,423.7 L466.2,425.1 L467.6,426.5 L469.1,427.9 L470.5,429.4 L471.9,430.8 L473.4,432.2 L474.8,433.7 L476.2,435.1 L477.7,436.6 L479.1,438.1 L480.5,439.6 L482.0,441.0 L483.4,442.5 L484.8,443.9 L486.3,445.2 L487.7,446.5 L489.2,447.8 L490.6,449.0 L492.0,450.2 L493.5,451.3 L494.9,452.4 L496.3,453.5 L497.8,454.6 L499.2,455.6 L500.6,456.7 L502.1,457.8 L503.5,458.8 L505.0,459.9 L506.4,460.9 L507.8,462.0 L509.3,463.0 L510.7,464.0 L512.1,465.0 L513.6,466.0 L515.0,467.0 L516.4,468.0 L517.9,469.0 L519.3,470.0 L520.7,471.0 L522.2,472.0 L523.6,473.0 L525.1,474.0 L526.5,474.9 L527.9,475.9 L529.4,476.8 L530.8,477.7 L532.2,478.6 L533.7,479.4 L535.1,480.2 L536.5,481.0 L538.0,481.7 L539.4,482.5 L540.9,483.2 L542.3,484.0 L543.7,484.7 L545.2,485.4 L546.6,486.0 L548.0,486.7 L549.5,487.4 L550.9,488.0 L552.3,488.6 L553.8,489.3 L555.2,489.8 L556.6,490.4 L558.1,491.0 L559.5,491.5 L561.0,492.0 L562.4,492.5 L563.8,492.9 L565.3,493.3 L566.7,493.8 L568.1,494.1 L569.6,494.5 L571.0,494.9 L572.4,495.2 L573.9,495.6 L575.3,495.9 L576.8,496.2 L578.2,496.5 L579.6,496.8 L581.1,497.0 L582.5,497.3 L583.9,497.5 L585.4,497.7 L586.8,497.9 L588.2,498.1 L589.7,498.3 L591.1,498.5 L592.5,498.7 L594.0,498.8 L595.4,499.0 L596.9,499.1 L598.3,499.3 L599.7,499.4 L601.2,499.5 L602.6,499.7 L604.0,499.8 L605.5,499.9 L606.9,500.0 L608.3,500.1 L609.8,500.1 L611.2,500.2 L612.7,500.3 L614.1,500.4 L615.5,500.4 L617.0,500.5 L618.4,500.5 L619.8,500.6 L621.3,500.6 L622.7,500.7 L624.1,500.7 L625.6,500.8 L627.0,500.8 L628.4,500.9 L629.9,500.9 L631.3,500.9 L632.8,501.0 L634.2,501.0 L635.6,501.1 L637.1,501.1 L638.5,501.1 L639.9,501.2 L641.4,501.2 L642.8,501.2 L644.2,501.3 L645.7,501.3 L647.1,501.3 L648.6,501.3 L650.0,501.4 L651.4,501.4 L652.9,501.4 L654.3,501.4 L655.7,501.5 L657.2,501.5 L658.6,501.5 L660.0,501.5 L661.5,501.5 L662.9,501.6 L664.3,501.6 L665.8,501.6 L667.2,501.6 L668.7,501.6 L670.1,501.6 L671.5,501.7 L673.0,501.7 L674.4,501.7" fill="none" stroke="#111" stroke-width="3.4" stroke-linecap="butt" stroke-linejoin="round" stroke-dasharray="5,3" />
<path d="M387.2,352.6 L388.6,353.8 L390.1,355.0 L391.5,356.2 L392.9,357.5 L394.4,358.7 L395.8,359.9 L397.3,361.1 L398.7,362.4 L400.1,363.6 L401.6,364.8 L403.0,366.0 L404.4,367.3 L405.9,368.5 L407.3,369.7 L408.7,370.9 L410.2,372.1 L411.6,373.3 L413.0,374.6 L414.5,375.8 L415.9,377.1 L417.4,378.4 L418.8,379.7 L420.2,381.0 L421.7,382.3 L423.1,383.6 L424.5,384.9 L426.0,386.3 L427.4,387.6 L428.8,389.0 L430.3,390.4 L431.7,391.7 L433.2,393.2 L434.6,394.6 L436.0,396.0 L437.5,397.4 L438.9,398.9 L440.3,400.3 L441.8,401.8 L443.2,403.2 L444.6,404.7 L446.1,406.1 L447.5,407.5 L448.9,408.9 L450.4,410.4 L451.8,411.8 L453.3,413.2 L454.7,414.7 L456.1,416.1 L457.6,417.5 L459.0,419.0 L460.4,420.4 L461.9,421.8 L463.3,423.2 L464.7,424.7 L466.2,426.1 L467.6,427.5 L469.1,429.0 L470.5,430.4 L471.9,431.8 L473.4,433.3 L474.8,434.7 L476.2,436.2 L477.7,437.6 L479.1,439.1 L480.5,440.6 L482.0,442.1 L483.4,443.5 L484.8,444.9 L486.3,446.3 L487.7,447.6 L489.2,448.8 L490.6,450.0 L492.0,451.2 L493.5,452.3 L494.9,453.4 L496.3,454.5 L497.8,455.6 L499.2,456.7 L500.6,457.7 L502.1,458.8 L503.5,459.9 L505.0,460.9 L506.4,462.0 L507.8,463.0 L509.3,464.0 L510.7,465.0 L512.1,466.0 L513.6,467.0 L515.0,468.0 L516.4,469.0 L517.9,470.0 L519.3,471.0 L520.7,472.0 L522.2,473.0 L523.6,474.0 L525.1,475.0 L526.5,476.0 L527.9,476.9 L529.4,477.8 L530.8,478.7 L532.2,479.6 L533.7,480.4 L535.1,481.2 L536.5,482.0 L538.0,482.8 L539.4,483.5 L540.9,484.3 L542.3,485.0 L543.7,485.7 L545.2,486.4 L546.6,487.1 L548.0,487.7 L549.5,488.4 L550.9,489.0 L552.3,489.7 L553.8,490.3 L555.2,490.9 L556.6,491.4 L558.1,492.0 L559.5,492.5 L561.0,493.0 L562.4,493.5 L563.8,493.9 L565.3,494.4 L566.7,494.8 L568.1,495.2 L569.6,495.5 L571.0,495.9 L572.4,496.3 L573.9,496.6 L575.3,496.9 L576.8,497.2 L578.2,497.5 L579.6,497.8 L581.1,498.0 L582.5,498.3 L583.9,498.5 L585.4,498.7 L586.8,498.9 L588.2,499.1 L589.7,499.3 L591.1,499.5 L592.5,499.7 L594.0,499.9 L595.4,500.0 L596.9,500.2 L598.3,500.3 L599.7,500.4 L601.2,500.6 L602.6,500.7 L604.0,500.8 L605.5,500.9 L606.9,501.0 L608.3,501.1 L609.8,501.2 L611.2,501.2 L612.7,501.3 L614.1,501.4 L615.5,501.4 L617.0,501.5 L618.4,501.5 L619.8,501.6 L621.3,501.7 L622.7,501.7 L624.1,501.7 L625.6,501.8 L627.0,501.8 L628.4,501.9 L629.9,501.9 L631.3,502.0 L632.8,502.0 L634.2,502.0 L635.6,502.1 L637.1,502.1 L638.5,502.2 L639.9,502.2 L641.4,502.2 L642.8,502.3 L644.2,502.3 L645.7,502.3 L647.1,502.3 L648.6,502.4 L650.0,502.4 L651.4,502.4 L652.9,502.4 L654.3,502.5 L655.7,502.5 L657.2,502.5 L658.6,502.5 L660.0,502.5 L661.5,502.6 L662.9,502.6 L664.3,502.6 L665.8,502.6 L667.2,502.6 L668.7,502.6 L670.1,502.7 L671.5,502.7 L673.0,502.7 L674.4,502.7" fill="none" stroke="#111" stroke-width="1.8" stroke-linecap="round" stroke-linejoin="round" stroke-dasharray="0.01,3.5" />
<path d="M387.2,356.6 L388.6,358.0 L390.1,359.3 L391.5,360.6 L392.9,361.9 L394.4,363.2 L395.8,364.5 L397.3,365.8 L398.7,367.1 L400.1,368.5 L401.6,369.9 L403.0,371.4 L404.4,372.9 L405.9,374.4 L407.3,375.9 L408.7,377.5 L410.2,379.0 L411.6,380.6 L413.0,382.2 L414.5,383.7 L415.9,385.2 L417.4,386.8 L418.8,388.3 L420.2,389.9 L421.7,391.5 L423.1,393.0 L424.5,394.6 L426.0,396.1 L427.4,397.6 L428.8,399.1 L430.3,400.6 L431.7,402.0 L433.2,403.3 L434.6,404.7 L436.0,406.0 L437.5,407.3 L438.9,408.6 L440.3,409.9 L441.8,411.2 L443.2,412.5 L444.6,413.9 L446.1,415.2 L447.5,416.6 L448.9,418.0 L450.4,419.4 L451.8,420.9 L453.3,422.3 L454.7,423.8 L456.1,425.2 L457.6,426.7 L459.0,428.2 L460.4,429.6 L461.9,431.2 L463.3,432.7 L464.7,434.3 L466.2,435.8 L467.6,437.4 L469.1,438.9 L470.5,440.5 L471.9,442.0 L473.4,443.5 L474.8,445.0 L476.2,446.4 L477.7,447.9 L479.1,449.4 L480.5,450.8 L482.0,452.3 L483.4,453.7 L484.8,455.1 L486.3,456.4 L487.7,457.8 L489.2,459.1 L490.6,460.4 L492.0,461.7 L493.5,463.0 L494.9,464.2 L496.3,465.4 L497.8,466.6 L499.2,467.8 L500.6,468.9 L502.1,470.0 L503.5,471.1 L505.0,472.1 L506.4,473.1 L507.8,474.0 L509.3,474.9 L510.7,475.8 L512.1,476.7 L513.6,477.6 L515.0,478.4 L516.4,479.2 L517.9,480.0 L519.3,480.8 L520.7,481.6 L522.2,482.3 L523.6,483.1 L525.1,483.8 L526.5,484.4 L527.9,485.1 L529.4,485.8 L530.8,486.4 L532.2,487.0 L533.7,487.5 L535.1,488.1 L536.5,488.6 L538.0,489.1 L539.4,489.6 L540.9,490.1 L542.3,490.6 L543.7,491.0 L545.2,491.5 L546.6,491.9 L548.0,492.4 L549.5,492.8 L550.9,493.3 L552.3,493.7 L553.8,494.1 L555.2,494.5 L556.6,494.9 L558.1,495.2 L559.5,495.6 L561.0,495.9 L562.4,496.2 L563.8,496.5 L565.3,496.8 L566.7,497.0 L568.1,497.3 L569.6,497.5 L571.0,497.7 L572.4,497.9 L573.9,498.1 L575.3,498.3 L576.8,498.5 L578.2,498.7 L579.6,498.9 L581.1,499.0 L582.5,499.2 L583.9,499.3 L585.4,499.4 L586.8,499.6 L588.2,499.7 L589.7,499.7 L591.1,499.8 L592.5,499.9 L594.0,500.0 L595.4,500.1 L596.9,500.1 L598.3,500.2 L599.7,500.3 L601.2,500.3 L602.6,500.4 L604.0,500.4 L605.5,500.5 L606.9,500.6 L608.3,500.6 L609.8,500.7 L611.2,500.7 L612.7,500.7 L614.1,500.8 L615.5,500.8 L617.0,500.9 L618.4,500.9 L619.8,501.0 L621.3,501.0 L622.7,501.0 L624.1,501.1 L625.6,501.1 L627.0,501.1 L628.4,501.1 L629.9,501.2 L631.3,501.2 L632.8,501.2 L634.2,501.2 L635.6,501.3 L637.1,501.3 L638.5,501.3 L639.9,501.3 L641.4,501.3 L642.8,501.4 L644.2,501.4 L645.7,501.4 L647.1,501.4 L648.6,501.4 L650.0,501.5 L651.4,501.5 L652.9,501.5 L654.3,501.5 L655.7,501.5 L657.2,501.5 L658.6,501.5 L660.0,501.6 L661.5,501.6 L662.9,501.6 L664.3,501.6 L665.8,501.6 L667.2,501.6 L668.7,501.6 L670.1,501.7 L671.5,501.7 L673.0,501.7 L674.4,501.7" fill="none" stroke="#222" stroke-width="3.4" stroke-linecap="round" stroke-linejoin="round" stroke-dasharray="4,4.2" />
<path d="M387.2,356.6 L388.6,358.0 L390.1,359.3 L391.5,360.6 L392.9,361.9 L394.4,363.2 L395.8,364.5 L397.3,365.8 L398.7,367.1 L400.1,368.5 L401.6,369.9 L403.0,371.4 L404.4,372.9 L405.9,374.4 L407.3,375.9 L408.7,377.5 L410.2,379.0 L411.6,380.6 L413.0,382.2 L414.5,383.7 L415.9,385.2 L417.4,386.8 L418.8,388.3 L420.2,389.9 L421.7,391.5 L423.1,393.0 L424.5,394.6 L426.0,396.1 L427.4,397.6 L428.8,399.1 L430.3,400.6 L431.7,402.0 L433.2,403.3 L434.6,404.7 L436.0,406.0 L437.5,407.3 L438.9,408.6 L440.3,409.9 L441.8,411.2 L443.2,412.5 L444.6,413.9 L446.1,415.2 L447.5,416.6 L448.9,418.0 L450.4,419.4 L451.8,420.9 L453.3,422.3 L454.7,423.8 L456.1,425.2 L457.6,426.7 L459.0,428.2 L460.4,429.6 L461.9,431.2 L463.3,432.7 L464.7,434.3 L466.2,435.8 L467.6,437.4 L469.1,438.9 L470.5,440.5 L471.9,442.0 L473.4,443.5 L474.8,445.0 L476.2,446.4 L477.7,447.9 L479.1,449.4 L480.5,450.8 L482.0,452.3 L483.4,453.7 L484.8,455.1 L486.3,456.4 L487.7,457.8 L489.2,459.1 L490.6,460.4 L492.0,461.7 L493.5,463.0 L494.9,464.2 L496.3,465.4 L497.8,466.6 L499.2,467.8 L500.6,468.9 L502.1,470.0 L503.5,471.1 L505.0,472.1 L506.4,473.1 L507.8,474.0 L509.3,474.9 L510.7,475.8 L512.1,476.7 L513.6,477.6 L515.0,478.4 L516.4,479.2 L517.9,480.0 L519.3,480.8 L520.7,481.6 L522.2,482.3 L523.6,483.1 L525.1,483.8 L526.5,484.4 L527.9,485.1 L529.4,485.8 L530.8,486.4 L532.2,487.0 L533.7,487.5 L535.1,488.1 L536.5,488.6 L538.0,489.1 L539.4,489.6 L540.9,490.1 L542.3,490.6 L543.7,491.0 L545.2,491.5 L546.6,491.9 L548.0,492.4 L549.5,492.8 L550.9,493.3 L552.3,493.7 L553.8,494.1 L555.2,494.5 L556.6,494.9 L558.1,495.2 L559.5,495.6 L561.0,495.9 L562.4,496.2 L563.8,496.5 L565.3,496.8 L566.7,497.0 L568.1,497.3 L569.6,497.5 L571.0,497.7 L572.4,497.9 L573.9,498.1 L575.3,498.3 L576.8,498.5 L578.2,498.7 L579.6,498.9 L581.1,499.0 L582.5,499.2 L583.9,499.3 L585.4,499.4 L586.8,499.6 L588.2,499.7 L589.7,499.7 L591.1,499.8 L592.5,499.9 L594.0,500.0 L595.4,500.1 L596.9,500.1 L598.3,500.2 L599.7,500.3 L601.2,500.3 L602.6,500.4 L604.0,500.4 L605.5,500.5 L606.9,500.6 L608.3,500.6 L609.8,500.7 L611.2,500.7 L612.7,500.7 L614.1,500.8 L615.5,500.8 L617.0,500.9 L618.4,500.9 L619.8,501.0 L621.3,501.0 L622.7,501.0 L624.1,501.1 L625.6,501.1 L627.0,501.1 L628.4,501.1 L629.9,501.2 L631.3,501.2 L632.8,501.2 L634.2,501.2 L635.6,501.3 L637.1,501.3 L638.5,501.3 L639.9,501.3 L641.4,501.3 L642.8,501.4 L644.2,501.4 L645.7,501.4 L647.1,501.4 L648.6,501.4 L650.0,501.5 L651.4,501.5 L652.9,501.5 L654.3,501.5 L655.7,501.5 L657.2,501.5 L658.6,501.5 L660.0,501.6 L661.5,501.6 L662.9,501.6 L664.3,501.6 L665.8,501.6 L667.2,501.6 L668.7,501.6 L670.1,501.7 L671.5,501.7 L673.0,501.7 L674.4,501.7" fill="none" stroke="#aaa" stroke-width="1.0" stroke-linecap="round" stroke-linejoin="round" stroke-dasharray="4,4.2" />
<path d="M388.7,352.6 L392.5,356.4 M388.7,356.4 L392.5,352.6" stroke="#111" stroke-width="1.5"/>
<path d="M395.9,358.7 L399.7,362.5 M395.9,362.5 L399.7,358.7" stroke="#111" stroke-width="1.5"/>
<path d="M403.1,364.8 L406.9,368.6 M403.1,368.6 L406.9,364.8" stroke="#111" stroke-width="1.5"/>
<path d="M410.3,370.9 L414.1,374.7 M410.3,374.7 L414.1,370.9" stroke="#111" stroke-width="1.5"/>
<path d="M417.5,377.2 L421.3,381.0 M417.5,381.0 L421.3,377.2" stroke="#111" stroke-width="1.5"/>
<path d="M424.6,383.9 L428.4,387.7 M424.6,387.7 L428.4,383.9" stroke="#111" stroke-width="1.5"/>
<path d="M431.8,390.8 L435.6,394.6 M431.8,394.6 L435.6,390.8" stroke="#111" stroke-width="1.5"/>
<path d="M439.0,398.0 L442.8,401.8 M439.0,401.8 L442.8,398.0" stroke="#111" stroke-width="1.5"/>
<path d="M446.2,405.2 L450.0,409.0 M446.2,409.0 L450.0,405.2" stroke="#111" stroke-width="1.5"/>
<path d="M453.4,412.3 L457.2,416.1 M453.4,416.1 L457.2,412.3" stroke="#111" stroke-width="1.5"/>
<path d="M460.5,419.5 L464.3,423.3 M460.5,423.3 L464.3,419.5" stroke="#111" stroke-width="1.5"/>
<path d="M467.7,426.6 L471.5,430.4 M467.7,430.4 L471.5,426.6" stroke="#111" stroke-width="1.5"/>
<path d="M474.9,433.8 L478.7,437.6 M474.9,437.6 L478.7,433.8" stroke="#111" stroke-width="1.5"/>
<path d="M482.1,441.1 L485.9,444.9 M482.1,444.9 L485.9,441.1" stroke="#111" stroke-width="1.5"/>
<path d="M489.3,447.6 L493.1,451.4 M489.3,451.4 L493.1,447.6" stroke="#111" stroke-width="1.5"/>
<path d="M496.4,453.1 L500.2,456.9 M496.4,456.9 L500.2,453.1" stroke="#111" stroke-width="1.5"/>
<path d="M503.6,458.4 L507.4,462.2 M503.6,462.2 L507.4,458.4" stroke="#111" stroke-width="1.5"/>
<path d="M510.8,463.5 L514.6,467.3 M510.8,467.3 L514.6,463.5" stroke="#111" stroke-width="1.5"/>
<path d="M518.0,468.5 L521.8,472.3 M518.0,472.3 L521.8,468.5" stroke="#111" stroke-width="1.5"/>
<path d="M525.2,473.4 L529.0,477.2 M525.2,477.2 L529.0,473.4" stroke="#111" stroke-width="1.5"/>
<path d="M532.3,477.8 L536.1,481.6 M532.3,481.6 L536.1,477.8" stroke="#111" stroke-width="1.5"/>
<path d="M539.5,481.6 L543.3,485.4 M539.5,485.4 L543.3,481.6" stroke="#111" stroke-width="1.5"/>
<path d="M546.7,485.1 L550.5,488.9 M546.7,488.9 L550.5,485.1" stroke="#111" stroke-width="1.5"/>
<path d="M553.9,488.2 L557.7,492.0 M553.9,492.0 L557.7,488.2" stroke="#111" stroke-width="1.5"/>
<path d="M561.1,490.7 L564.9,494.5 M561.1,494.5 L564.9,490.7" stroke="#111" stroke-width="1.5"/>
<path d="M568.2,492.8 L572.0,496.6 M568.2,496.6 L572.0,492.8" stroke="#111" stroke-width="1.5"/>
<path d="M575.4,494.4 L579.2,498.2 M575.4,498.2 L579.2,494.4" stroke="#111" stroke-width="1.5"/>
<path d="M582.6,495.7 L586.4,499.5 M582.6,499.5 L586.4,495.7" stroke="#111" stroke-width="1.5"/>
<path d="M589.8,496.7 L593.6,500.5 M589.8,500.5 L593.6,496.7" stroke="#111" stroke-width="1.5"/>
<path d="M597.0,497.4 L600.8,501.2 M597.0,501.2 L600.8,497.4" stroke="#111" stroke-width="1.5"/>
<path d="M604.1,498.0 L607.9,501.8 M604.1,501.8 L607.9,498.0" stroke="#111" stroke-width="1.5"/>
<path d="M611.3,498.4 L615.1,502.2 M611.3,502.2 L615.1,498.4" stroke="#111" stroke-width="1.5"/>
<path d="M618.5,498.7 L622.3,502.5 M618.5,502.5 L622.3,498.7" stroke="#111" stroke-width="1.5"/>
<path d="M625.7,498.9 L629.5,502.7 M625.7,502.7 L629.5,498.9" stroke="#111" stroke-width="1.5"/>
<path d="M632.9,499.1 L636.7,502.9 M632.9,502.9 L636.7,499.1" stroke="#111" stroke-width="1.5"/>
<path d="M640.0,499.3 L643.8,503.1 M640.0,503.1 L643.8,499.3" stroke="#111" stroke-width="1.5"/>
<path d="M647.2,499.5 L651.0,503.3 M647.2,503.3 L651.0,499.5" stroke="#111" stroke-width="1.5"/>
<path d="M654.4,499.6 L658.2,503.4 M654.4,503.4 L658.2,499.6" stroke="#111" stroke-width="1.5"/>
<path d="M661.6,499.7 L665.4,503.5 M661.6,503.5 L665.4,499.7" stroke="#111" stroke-width="1.5"/>
<path d="M668.8,499.7 L672.6,503.5 M668.8,503.5 L672.6,499.7" stroke="#111" stroke-width="1.5"/>
<circle cx="394.1" cy="357.4" r="1.8" fill="#111"/>
<circle cx="401.3" cy="363.6" r="1.8" fill="#111"/>
<circle cx="408.5" cy="369.6" r="1.8" fill="#111"/>
<circle cx="415.6" cy="375.8" r="1.8" fill="#111"/>
<circle cx="422.8" cy="382.3" r="1.8" fill="#111"/>
<circle cx="430.0" cy="389.1" r="1.8" fill="#111"/>
<circle cx="437.2" cy="396.1" r="1.8" fill="#111"/>
<circle cx="444.4" cy="403.3" r="1.8" fill="#111"/>
<circle cx="451.5" cy="410.5" r="1.8" fill="#111"/>
<circle cx="458.7" cy="417.7" r="1.8" fill="#111"/>
<circle cx="465.9" cy="424.8" r="1.8" fill="#111"/>
<circle cx="473.1" cy="432.0" r="1.8" fill="#111"/>
<circle cx="480.3" cy="439.3" r="1.8" fill="#111"/>
<circle cx="487.4" cy="446.3" r="1.8" fill="#111"/>
<circle cx="494.6" cy="452.2" r="1.8" fill="#111"/>
<circle cx="501.8" cy="457.6" r="1.8" fill="#111"/>
<circle cx="509.0" cy="462.8" r="1.8" fill="#111"/>
<circle cx="516.2" cy="467.8" r="1.8" fill="#111"/>
<circle cx="523.3" cy="472.8" r="1.8" fill="#111"/>
<circle cx="530.5" cy="477.5" r="1.8" fill="#111"/>
<circle cx="537.7" cy="481.6" r="1.8" fill="#111"/>
<circle cx="544.9" cy="485.2" r="1.8" fill="#111"/>
<circle cx="552.1" cy="488.5" r="1.8" fill="#111"/>
<circle cx="559.2" cy="491.4" r="1.8" fill="#111"/>
<circle cx="566.4" cy="493.7" r="1.8" fill="#111"/>
<circle cx="573.6" cy="495.5" r="1.8" fill="#111"/>
<circle cx="580.8" cy="497.0" r="1.8" fill="#111"/>
<circle cx="588.0" cy="498.1" r="1.8" fill="#111"/>
<circle cx="595.1" cy="499.0" r="1.8" fill="#111"/>
<circle cx="602.3" cy="499.6" r="1.8" fill="#111"/>
<circle cx="609.5" cy="500.1" r="1.8" fill="#111"/>
<circle cx="616.7" cy="500.5" r="1.8" fill="#111"/>
<circle cx="623.9" cy="500.7" r="1.8" fill="#111"/>
<circle cx="631.0" cy="500.9" r="1.8" fill="#111"/>
<circle cx="638.2" cy="501.1" r="1.8" fill="#111"/>
<circle cx="645.4" cy="501.3" r="1.8" fill="#111"/>
<circle cx="652.6" cy="501.4" r="1.8" fill="#111"/>
<circle cx="659.8" cy="501.5" r="1.8" fill="#111"/>
<circle cx="666.9" cy="501.6" r="1.8" fill="#111"/>
<circle cx="674.1" cy="501.7" r="1.8" fill="#111"/>
<circle cx="388.9" cy="353.0" r="1.6" fill="none" stroke="#1a1a1a" stroke-width="1"/>
<circle cx="396.1" cy="359.1" r="1.6" fill="none" stroke="#1a1a1a" stroke-width="1"/>
<circle cx="403.3" cy="365.3" r="1.6" fill="none" stroke="#1a1a1a" stroke-width="1"/>
<circle cx="410.5" cy="371.3" r="1.6" fill="none" stroke="#1a1a1a" stroke-width="1"/>
<circle cx="417.6" cy="377.6" r="1.6" fill="none" stroke="#1a1a1a" stroke-width="1"/>
<circle cx="424.8" cy="384.2" r="1.6" fill="none" stroke="#1a1a1a" stroke-width="1"/>
<circle cx="432.0" cy="391.0" r="1.6" fill="none" stroke="#1a1a1a" stroke-width="1"/>
<circle cx="439.2" cy="398.2" r="1.6" fill="none" stroke="#1a1a1a" stroke-width="1"/>
<circle cx="446.4" cy="405.4" r="1.6" fill="none" stroke="#1a1a1a" stroke-width="1"/>
<circle cx="453.5" cy="412.5" r="1.6" fill="none" stroke="#1a1a1a" stroke-width="1"/>
<circle cx="460.7" cy="419.7" r="1.6" fill="none" stroke="#1a1a1a" stroke-width="1"/>
<circle cx="467.9" cy="426.8" r="1.6" fill="none" stroke="#1a1a1a" stroke-width="1"/>
<circle cx="475.1" cy="434.0" r="1.6" fill="none" stroke="#1a1a1a" stroke-width="1"/>
<circle cx="482.3" cy="441.3" r="1.6" fill="none" stroke="#1a1a1a" stroke-width="1"/>
<circle cx="489.4" cy="448.0" r="1.6" fill="none" stroke="#1a1a1a" stroke-width="1"/>
<circle cx="496.6" cy="453.7" r="1.6" fill="none" stroke="#1a1a1a" stroke-width="1"/>
<circle cx="503.8" cy="459.1" r="1.6" fill="none" stroke="#1a1a1a" stroke-width="1"/>
<circle cx="511.0" cy="464.2" r="1.6" fill="none" stroke="#1a1a1a" stroke-width="1"/>
<circle cx="518.2" cy="469.2" r="1.6" fill="none" stroke="#1a1a1a" stroke-width="1"/>
<circle cx="525.3" cy="474.2" r="1.6" fill="none" stroke="#1a1a1a" stroke-width="1"/>
<circle cx="532.5" cy="478.7" r="1.6" fill="none" stroke="#1a1a1a" stroke-width="1"/>
<circle cx="539.7" cy="482.6" r="1.6" fill="none" stroke="#1a1a1a" stroke-width="1"/>
<circle cx="546.9" cy="486.2" r="1.6" fill="none" stroke="#1a1a1a" stroke-width="1"/>
<circle cx="554.1" cy="489.4" r="1.6" fill="none" stroke="#1a1a1a" stroke-width="1"/>
<circle cx="561.2" cy="492.1" r="1.6" fill="none" stroke="#1a1a1a" stroke-width="1"/>
<circle cx="568.4" cy="494.2" r="1.6" fill="none" stroke="#1a1a1a" stroke-width="1"/>
<circle cx="575.6" cy="496.0" r="1.6" fill="none" stroke="#1a1a1a" stroke-width="1"/>
<circle cx="582.8" cy="497.3" r="1.6" fill="none" stroke="#1a1a1a" stroke-width="1"/>
<circle cx="590.0" cy="498.4" r="1.6" fill="none" stroke="#1a1a1a" stroke-width="1"/>
<circle cx="597.1" cy="499.2" r="1.6" fill="none" stroke="#1a1a1a" stroke-width="1"/>
<circle cx="604.3" cy="499.8" r="1.6" fill="none" stroke="#1a1a1a" stroke-width="1"/>
<circle cx="611.5" cy="500.2" r="1.6" fill="none" stroke="#1a1a1a" stroke-width="1"/>
<circle cx="618.7" cy="500.5" r="1.6" fill="none" stroke="#1a1a1a" stroke-width="1"/>
<circle cx="625.9" cy="500.8" r="1.6" fill="none" stroke="#1a1a1a" stroke-width="1"/>
<circle cx="633.0" cy="501.0" r="1.6" fill="none" stroke="#1a1a1a" stroke-width="1"/>
<circle cx="640.2" cy="501.2" r="1.6" fill="none" stroke="#1a1a1a" stroke-width="1"/>
<circle cx="647.4" cy="501.3" r="1.6" fill="none" stroke="#1a1a1a" stroke-width="1"/>
<circle cx="654.6" cy="501.4" r="1.6" fill="none" stroke="#1a1a1a" stroke-width="1"/>
<circle cx="661.8" cy="501.5" r="1.6" fill="none" stroke="#1a1a1a" stroke-width="1"/>
<circle cx="668.9" cy="501.6" r="1.6" fill="none" stroke="#1a1a1a" stroke-width="1"/>
<circle cx="387.2" cy="360.7" r="3.0" fill="#111"/>
<circle cx="401.6" cy="376.6" r="3.0" fill="#111"/>
<circle cx="415.9" cy="390.9" r="3.0" fill="#111"/>
<circle cx="430.3" cy="405.2" r="3.0" fill="#111"/>
<circle cx="444.6" cy="421.0" r="3.0" fill="#111"/>
<circle cx="459.0" cy="435.8" r="3.0" fill="#111"/>
<circle cx="473.4" cy="449.6" r="3.0" fill="#111"/>
<circle cx="487.7" cy="463.4" r="3.0" fill="#111"/>
<circle cx="502.1" cy="474.1" r="3.0" fill="#111"/>
<circle cx="516.4" cy="483.3" r="3.0" fill="#111"/>
<circle cx="530.8" cy="489.4" r="3.0" fill="#111"/>
<circle cx="545.2" cy="494.2" r="3.0" fill="#111"/>
<circle cx="559.5" cy="497.1" r="3.0" fill="#111"/>
<circle cx="573.9" cy="498.6" r="3.0" fill="#111"/>
<circle cx="588.2" cy="499.7" r="3.0" fill="#111"/>
<circle cx="602.6" cy="500.5" r="3.0" fill="#111"/>
<circle cx="617.0" cy="500.9" r="3.0" fill="#111"/>
<circle cx="631.3" cy="501.2" r="3.0" fill="#111"/>
<circle cx="645.7" cy="501.4" r="3.0" fill="#111"/>
<circle cx="660.0" cy="501.6" r="3.0" fill="#111"/>
<circle cx="674.4" cy="501.7" r="3.0" fill="#111"/>
<path d="M387.2,383.5 L388.6,384.6 L390.1,385.8 L391.5,386.9 L392.9,388.1 L394.4,389.2 L395.8,390.4 L397.3,391.5 L398.7,392.6 L400.1,393.8 L401.6,394.9 L403.0,396.0 L404.4,397.1 L405.9,398.2 L407.3,399.3 L408.7,400.4 L410.2,401.4 L411.6,402.5 L413.0,403.6 L414.5,404.6 L415.9,405.7 L417.4,406.7 L418.8,407.8 L420.2,408.8 L421.7,409.9 L423.1,410.9 L424.5,411.9 L426.0,412.9 L427.4,413.9 L428.8,414.9 L430.3,415.9 L431.7,416.9 L433.2,417.9 L434.6,418.9 L436.0,419.9 L437.5,420.9 L438.9,421.8 L440.3,422.8 L441.8,423.7 L443.2,424.7 L444.6,425.6 L446.1,426.6 L447.5,427.5 L448.9,428.4 L450.4,429.3 L451.8,430.2 L453.3,431.1 L454.7,432.0 L456.1,432.9 L457.6,433.8 L459.0,434.7 L460.4,435.6 L461.9,436.5 L463.3,437.3 L464.7,438.2 L466.2,439.0 L467.6,439.9 L469.1,440.7 L470.5,441.6 L471.9,442.4 L473.4,443.2 L474.8,444.0 L476.2,444.9 L477.7,445.7 L479.1,446.5 L480.5,447.3 L482.0,448.1 L483.4,448.8 L484.8,449.6 L486.3,450.4 L487.7,451.2 L489.2,451.9 L490.6,452.7 L492.0,453.4 L493.5,454.2 L494.9,454.9 L496.3,455.6 L497.8,456.4 L499.2,457.1 L500.6,457.8 L502.1,458.5 L503.5,459.2 L505.0,459.9 L506.4,460.6 L507.8,461.3 L509.3,462.0 L510.7,462.7 L512.1,463.3 L513.6,464.0 L515.0,464.6 L516.4,465.3 L517.9,465.9 L519.3,466.6 L520.7,467.2 L522.2,467.8 L523.6,468.5 L525.1,469.1 L526.5,469.7 L527.9,470.3 L529.4,470.9 L530.8,471.5 L532.2,472.1 L533.7,472.7 L535.1,473.2 L536.5,473.8 L538.0,474.4 L539.4,474.9 L540.9,475.5 L542.3,476.0 L543.7,476.6 L545.2,477.1 L546.6,477.7 L548.0,478.2 L549.5,478.7 L550.9,479.2 L552.3,479.7 L553.8,480.2 L555.2,480.7 L556.6,481.2 L558.1,481.7 L559.5,482.2 L561.0,482.6 L562.4,483.1 L563.8,483.6 L565.3,484.0 L566.7,484.5 L568.1,484.9 L569.6,485.4 L571.0,485.8 L572.4,486.2 L573.9,486.6 L575.3,487.0 L576.8,487.5 L578.2,487.9 L579.6,488.3 L581.1,488.6 L582.5,489.0 L583.9,489.4 L585.4,489.8 L586.8,490.2 L588.2,490.5 L589.7,490.9 L591.1,491.2 L592.5,491.6 L594.0,491.9 L595.4,492.2 L596.9,492.6 L598.3,492.9 L599.7,493.2 L601.2,493.5 L602.6,493.8 L604.0,494.1 L605.5,494.4 L606.9,494.7 L608.3,495.0 L609.8,495.3 L611.2,495.5 L612.7,495.8 L614.1,496.1 L615.5,496.3 L617.0,496.6 L618.4,496.8 L619.8,497.0 L621.3,497.3 L622.7,497.5 L624.1,497.7 L625.6,497.9 L627.0,498.1 L628.4,498.3 L629.9,498.5 L631.3,498.7 L632.8,498.9 L634.2,499.1 L635.6,499.2 L637.1,499.4 L638.5,499.6 L639.9,499.7 L641.4,499.9 L642.8,500.0 L644.2,500.1 L645.7,500.3 L647.1,500.4 L648.6,500.5 L650.0,500.6 L651.4,500.7 L652.9,500.8 L654.3,500.9 L655.7,501.0 L657.2,501.1 L658.6,501.2 L660.0,501.3 L661.5,501.3 L662.9,501.4 L664.3,501.5 L665.8,501.5 L667.2,501.6 L668.7,501.6 L670.1,501.6 L671.5,501.6 L673.0,501.7 L674.4,501.7" fill="none" stroke="#111" stroke-width="2.6" stroke-linecap="butt" stroke-linejoin="round" />
<line x1="513.1" y1="314.8" x2="553.6" y2="314.8" stroke="#111" stroke-width="3"/>
<text x="556.8" y="319.2" class="lg" textLength="31" lengthAdjust="spacingAndGlyphs">Exact</text>
<circle cx="532.7" cy="331.1" r="1.8" fill="none" stroke="#111" stroke-width="1.3"/>
<text x="556.8" y="335.45" class="lg" textLength="82.6" lengthAdjust="spacingAndGlyphs">1-Down Wind</text>
<circle cx="532.7" cy="347.3" r="3.3" fill="#111"/>
<text x="556.8" y="351.7" class="lg" textLength="54.8" lengthAdjust="spacingAndGlyphs">2-Central</text>
<path d="M530.8,361.7 L534.6,365.4 M530.8,365.4 L534.6,361.7" stroke="#111" stroke-width="1.5"/>
<text x="556.8" y="367.95" class="lg" textLength="82.4" lengthAdjust="spacingAndGlyphs">3-Ying's eq(8)</text>
<circle cx="532.7" cy="379.8" r="1.8" fill="#111"/>
<text x="556.8" y="384.2" class="lg" textLength="82.4" lengthAdjust="spacingAndGlyphs">4-Ying's eq(9)</text>
<line x1="513.1" y1="396.05" x2="553.6" y2="396.05" stroke="#111" stroke-width="3.4" stroke-dasharray="8,2.9" stroke-linecap="butt"/>
<text x="556.8" y="400.45" class="lg" textLength="47.2" lengthAdjust="spacingAndGlyphs">5-New1</text>
<line x1="514.1" y1="412.3" x2="547.6" y2="412.3" stroke="#111" stroke-width="2.6" stroke-dasharray="0.01,5.4" stroke-linecap="round"/>
<text x="556.8" y="416.7" class="lg" textLength="47.4" lengthAdjust="spacingAndGlyphs">6-New2</text>
<line x1="514.9" y1="428.55" x2="553.6" y2="428.55" stroke="#1a1a1a" stroke-width="3.8" stroke-dasharray="5,5.6" stroke-linecap="round"/>
<line x1="514.9" y1="428.55" x2="553.6" y2="428.55" stroke="#999" stroke-width="1.0" stroke-dasharray="5,5.6" stroke-linecap="round"/>
<text x="556.8" y="432.95" class="lg" textLength="47.4" lengthAdjust="spacingAndGlyphs">7-New3</text>
</svg>
</body></html>
